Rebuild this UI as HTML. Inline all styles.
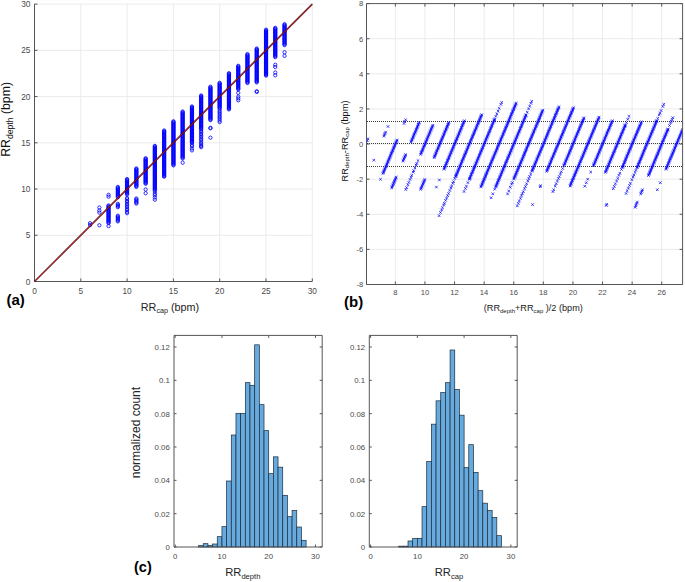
<!DOCTYPE html>
<html><head><meta charset="utf-8"><title>Figure</title>
<style>html,body{margin:0;padding:0;background:#fff}svg{display:block}</style></head>
<body><svg width="685" height="582" viewBox="0 0 685 582">
<rect width="685" height="582" fill="#fff"/>
<path d="M80.80 4.10V281.50M34.50 235.27H312.30M127.10 4.10V281.50M34.50 189.03H312.30M173.40 4.10V281.50M34.50 142.80H312.30M219.70 4.10V281.50M34.50 96.57H312.30M266.00 4.10V281.50M34.50 50.33H312.30M312.30 4.10V281.50M34.50 4.10H312.30" stroke="#ebebeb" stroke-width="1" fill="none"/>
<path d="M34.5 4.1V281.5H312.3M34.50 281.50v-3M34.50 281.50h3M80.80 281.50v-3M34.50 235.27h3M127.10 281.50v-3M34.50 189.03h3M173.40 281.50v-3M34.50 142.80h3M219.70 281.50v-3M34.50 96.57h3M266.00 281.50v-3M34.50 50.33h3M312.30 281.50v-3M34.50 4.10h3" stroke="#555555" stroke-width="1" fill="none"/>
<text x="34.5" y="294.1" font-size="8.3" text-anchor="middle" fill="#4a4a4a" font-family="Liberation Sans, sans-serif">0</text>
<text x="30.4" y="284.5" font-size="8.3" text-anchor="end" fill="#4a4a4a" font-family="Liberation Sans, sans-serif">0</text>
<text x="80.8" y="294.1" font-size="8.3" text-anchor="middle" fill="#4a4a4a" font-family="Liberation Sans, sans-serif">5</text>
<text x="30.4" y="238.3" font-size="8.3" text-anchor="end" fill="#4a4a4a" font-family="Liberation Sans, sans-serif">5</text>
<text x="127.1" y="294.1" font-size="8.3" text-anchor="middle" fill="#4a4a4a" font-family="Liberation Sans, sans-serif">10</text>
<text x="30.4" y="192.0" font-size="8.3" text-anchor="end" fill="#4a4a4a" font-family="Liberation Sans, sans-serif">10</text>
<text x="173.4" y="294.1" font-size="8.3" text-anchor="middle" fill="#4a4a4a" font-family="Liberation Sans, sans-serif">15</text>
<text x="30.4" y="145.8" font-size="8.3" text-anchor="end" fill="#4a4a4a" font-family="Liberation Sans, sans-serif">15</text>
<text x="219.7" y="294.1" font-size="8.3" text-anchor="middle" fill="#4a4a4a" font-family="Liberation Sans, sans-serif">20</text>
<text x="30.4" y="99.6" font-size="8.3" text-anchor="end" fill="#4a4a4a" font-family="Liberation Sans, sans-serif">20</text>
<text x="266.0" y="294.1" font-size="8.3" text-anchor="middle" fill="#4a4a4a" font-family="Liberation Sans, sans-serif">25</text>
<text x="30.4" y="53.3" font-size="8.3" text-anchor="end" fill="#4a4a4a" font-family="Liberation Sans, sans-serif">25</text>
<text x="312.3" y="294.1" font-size="8.3" text-anchor="middle" fill="#4a4a4a" font-family="Liberation Sans, sans-serif">30</text>
<text x="30.4" y="7.1" font-size="8.3" text-anchor="end" fill="#4a4a4a" font-family="Liberation Sans, sans-serif">30</text>
<path d="M88.4 225.1a1.65 1.65 0 1 0 3.3 0a1.65 1.65 0 1 0 -3.3 0M88.4 223.2a1.65 1.65 0 1 0 3.3 0a1.65 1.65 0 1 0 -3.3 0M97.7 207.5a1.65 1.65 0 1 0 3.3 0a1.65 1.65 0 1 0 -3.3 0M97.7 225.3a1.65 1.65 0 1 0 3.3 0a1.65 1.65 0 1 0 -3.3 0M97.7 212.6a1.65 1.65 0 1 0 3.3 0a1.65 1.65 0 1 0 -3.3 0M97.7 210.5a1.65 1.65 0 1 0 3.3 0a1.65 1.65 0 1 0 -3.3 0M106.9 226.1a1.65 1.65 0 1 0 3.3 0a1.65 1.65 0 1 0 -3.3 0M106.9 223.1a1.65 1.65 0 1 0 3.3 0a1.65 1.65 0 1 0 -3.3 0M106.9 222.3a1.65 1.65 0 1 0 3.3 0a1.65 1.65 0 1 0 -3.3 0M106.9 221.5a1.65 1.65 0 1 0 3.3 0a1.65 1.65 0 1 0 -3.3 0M106.9 220.7a1.65 1.65 0 1 0 3.3 0a1.65 1.65 0 1 0 -3.3 0M106.9 219.8a1.65 1.65 0 1 0 3.3 0a1.65 1.65 0 1 0 -3.3 0M106.9 219.0a1.65 1.65 0 1 0 3.3 0a1.65 1.65 0 1 0 -3.3 0M106.9 218.2a1.65 1.65 0 1 0 3.3 0a1.65 1.65 0 1 0 -3.3 0M106.9 217.4a1.65 1.65 0 1 0 3.3 0a1.65 1.65 0 1 0 -3.3 0M106.9 216.6a1.65 1.65 0 1 0 3.3 0a1.65 1.65 0 1 0 -3.3 0M106.9 215.8a1.65 1.65 0 1 0 3.3 0a1.65 1.65 0 1 0 -3.3 0M106.9 215.0a1.65 1.65 0 1 0 3.3 0a1.65 1.65 0 1 0 -3.3 0M106.9 214.2a1.65 1.65 0 1 0 3.3 0a1.65 1.65 0 1 0 -3.3 0M106.9 213.4a1.65 1.65 0 1 0 3.3 0a1.65 1.65 0 1 0 -3.3 0M106.9 212.6a1.65 1.65 0 1 0 3.3 0a1.65 1.65 0 1 0 -3.3 0M106.9 211.8a1.65 1.65 0 1 0 3.3 0a1.65 1.65 0 1 0 -3.3 0M106.9 211.0a1.65 1.65 0 1 0 3.3 0a1.65 1.65 0 1 0 -3.3 0M106.9 210.2a1.65 1.65 0 1 0 3.3 0a1.65 1.65 0 1 0 -3.3 0M106.9 209.4a1.65 1.65 0 1 0 3.3 0a1.65 1.65 0 1 0 -3.3 0M106.9 208.6a1.65 1.65 0 1 0 3.3 0a1.65 1.65 0 1 0 -3.3 0M106.9 207.8a1.65 1.65 0 1 0 3.3 0a1.65 1.65 0 1 0 -3.3 0M106.9 207.0a1.65 1.65 0 1 0 3.3 0a1.65 1.65 0 1 0 -3.3 0M106.9 206.2a1.65 1.65 0 1 0 3.3 0a1.65 1.65 0 1 0 -3.3 0M106.9 205.4a1.65 1.65 0 1 0 3.3 0a1.65 1.65 0 1 0 -3.3 0M106.9 196.7a1.65 1.65 0 1 0 3.3 0a1.65 1.65 0 1 0 -3.3 0M106.9 194.8a1.65 1.65 0 1 0 3.3 0a1.65 1.65 0 1 0 -3.3 0M116.2 197.2a1.65 1.65 0 1 0 3.3 0a1.65 1.65 0 1 0 -3.3 0M116.2 196.3a1.65 1.65 0 1 0 3.3 0a1.65 1.65 0 1 0 -3.3 0M116.2 195.5a1.65 1.65 0 1 0 3.3 0a1.65 1.65 0 1 0 -3.3 0M116.2 194.6a1.65 1.65 0 1 0 3.3 0a1.65 1.65 0 1 0 -3.3 0M116.2 193.7a1.65 1.65 0 1 0 3.3 0a1.65 1.65 0 1 0 -3.3 0M116.2 192.9a1.65 1.65 0 1 0 3.3 0a1.65 1.65 0 1 0 -3.3 0M116.2 192.0a1.65 1.65 0 1 0 3.3 0a1.65 1.65 0 1 0 -3.3 0M116.2 191.2a1.65 1.65 0 1 0 3.3 0a1.65 1.65 0 1 0 -3.3 0M116.2 190.3a1.65 1.65 0 1 0 3.3 0a1.65 1.65 0 1 0 -3.3 0M116.2 189.5a1.65 1.65 0 1 0 3.3 0a1.65 1.65 0 1 0 -3.3 0M116.2 188.6a1.65 1.65 0 1 0 3.3 0a1.65 1.65 0 1 0 -3.3 0M116.2 187.8a1.65 1.65 0 1 0 3.3 0a1.65 1.65 0 1 0 -3.3 0M116.2 186.9a1.65 1.65 0 1 0 3.3 0a1.65 1.65 0 1 0 -3.3 0M116.2 207.2a1.65 1.65 0 1 0 3.3 0a1.65 1.65 0 1 0 -3.3 0M116.2 206.1a1.65 1.65 0 1 0 3.3 0a1.65 1.65 0 1 0 -3.3 0M116.2 205.0a1.65 1.65 0 1 0 3.3 0a1.65 1.65 0 1 0 -3.3 0M116.2 203.8a1.65 1.65 0 1 0 3.3 0a1.65 1.65 0 1 0 -3.3 0M116.2 221.4a1.65 1.65 0 1 0 3.3 0a1.65 1.65 0 1 0 -3.3 0M116.2 220.4a1.65 1.65 0 1 0 3.3 0a1.65 1.65 0 1 0 -3.3 0M116.2 219.5a1.65 1.65 0 1 0 3.3 0a1.65 1.65 0 1 0 -3.3 0M116.2 218.5a1.65 1.65 0 1 0 3.3 0a1.65 1.65 0 1 0 -3.3 0M116.2 217.6a1.65 1.65 0 1 0 3.3 0a1.65 1.65 0 1 0 -3.3 0M116.2 216.6a1.65 1.65 0 1 0 3.3 0a1.65 1.65 0 1 0 -3.3 0M116.2 215.7a1.65 1.65 0 1 0 3.3 0a1.65 1.65 0 1 0 -3.3 0M125.4 194.5a1.65 1.65 0 1 0 3.3 0a1.65 1.65 0 1 0 -3.3 0M125.4 193.7a1.65 1.65 0 1 0 3.3 0a1.65 1.65 0 1 0 -3.3 0M125.4 192.9a1.65 1.65 0 1 0 3.3 0a1.65 1.65 0 1 0 -3.3 0M125.4 192.1a1.65 1.65 0 1 0 3.3 0a1.65 1.65 0 1 0 -3.3 0M125.4 191.3a1.65 1.65 0 1 0 3.3 0a1.65 1.65 0 1 0 -3.3 0M125.4 190.4a1.65 1.65 0 1 0 3.3 0a1.65 1.65 0 1 0 -3.3 0M125.4 189.6a1.65 1.65 0 1 0 3.3 0a1.65 1.65 0 1 0 -3.3 0M125.4 188.8a1.65 1.65 0 1 0 3.3 0a1.65 1.65 0 1 0 -3.3 0M125.4 188.0a1.65 1.65 0 1 0 3.3 0a1.65 1.65 0 1 0 -3.3 0M125.4 187.2a1.65 1.65 0 1 0 3.3 0a1.65 1.65 0 1 0 -3.3 0M125.4 186.4a1.65 1.65 0 1 0 3.3 0a1.65 1.65 0 1 0 -3.3 0M125.4 185.6a1.65 1.65 0 1 0 3.3 0a1.65 1.65 0 1 0 -3.3 0M125.4 184.8a1.65 1.65 0 1 0 3.3 0a1.65 1.65 0 1 0 -3.3 0M125.4 184.0a1.65 1.65 0 1 0 3.3 0a1.65 1.65 0 1 0 -3.3 0M125.4 183.2a1.65 1.65 0 1 0 3.3 0a1.65 1.65 0 1 0 -3.3 0M125.4 182.4a1.65 1.65 0 1 0 3.3 0a1.65 1.65 0 1 0 -3.3 0M125.4 181.6a1.65 1.65 0 1 0 3.3 0a1.65 1.65 0 1 0 -3.3 0M125.4 180.8a1.65 1.65 0 1 0 3.3 0a1.65 1.65 0 1 0 -3.3 0M125.4 179.9a1.65 1.65 0 1 0 3.3 0a1.65 1.65 0 1 0 -3.3 0M125.4 179.1a1.65 1.65 0 1 0 3.3 0a1.65 1.65 0 1 0 -3.3 0M125.4 213.2a1.65 1.65 0 1 0 3.3 0a1.65 1.65 0 1 0 -3.3 0M125.4 211.8a1.65 1.65 0 1 0 3.3 0a1.65 1.65 0 1 0 -3.3 0M125.4 209.9a1.65 1.65 0 1 0 3.3 0a1.65 1.65 0 1 0 -3.3 0M125.4 208.7a1.65 1.65 0 1 0 3.3 0a1.65 1.65 0 1 0 -3.3 0M125.4 206.9a1.65 1.65 0 1 0 3.3 0a1.65 1.65 0 1 0 -3.3 0M125.4 205.5a1.65 1.65 0 1 0 3.3 0a1.65 1.65 0 1 0 -3.3 0M125.4 204.1a1.65 1.65 0 1 0 3.3 0a1.65 1.65 0 1 0 -3.3 0M125.4 202.3a1.65 1.65 0 1 0 3.3 0a1.65 1.65 0 1 0 -3.3 0M125.4 201.1a1.65 1.65 0 1 0 3.3 0a1.65 1.65 0 1 0 -3.3 0M125.4 199.3a1.65 1.65 0 1 0 3.3 0a1.65 1.65 0 1 0 -3.3 0M125.4 198.0a1.65 1.65 0 1 0 3.3 0a1.65 1.65 0 1 0 -3.3 0M134.7 186.9a1.65 1.65 0 1 0 3.3 0a1.65 1.65 0 1 0 -3.3 0M134.7 186.1a1.65 1.65 0 1 0 3.3 0a1.65 1.65 0 1 0 -3.3 0M134.7 185.3a1.65 1.65 0 1 0 3.3 0a1.65 1.65 0 1 0 -3.3 0M134.7 184.5a1.65 1.65 0 1 0 3.3 0a1.65 1.65 0 1 0 -3.3 0M134.7 183.7a1.65 1.65 0 1 0 3.3 0a1.65 1.65 0 1 0 -3.3 0M134.7 182.9a1.65 1.65 0 1 0 3.3 0a1.65 1.65 0 1 0 -3.3 0M134.7 182.1a1.65 1.65 0 1 0 3.3 0a1.65 1.65 0 1 0 -3.3 0M134.7 181.3a1.65 1.65 0 1 0 3.3 0a1.65 1.65 0 1 0 -3.3 0M134.7 180.5a1.65 1.65 0 1 0 3.3 0a1.65 1.65 0 1 0 -3.3 0M134.7 179.7a1.65 1.65 0 1 0 3.3 0a1.65 1.65 0 1 0 -3.3 0M134.7 178.9a1.65 1.65 0 1 0 3.3 0a1.65 1.65 0 1 0 -3.3 0M134.7 178.1a1.65 1.65 0 1 0 3.3 0a1.65 1.65 0 1 0 -3.3 0M134.7 177.3a1.65 1.65 0 1 0 3.3 0a1.65 1.65 0 1 0 -3.3 0M134.7 176.5a1.65 1.65 0 1 0 3.3 0a1.65 1.65 0 1 0 -3.3 0M134.7 175.6a1.65 1.65 0 1 0 3.3 0a1.65 1.65 0 1 0 -3.3 0M134.7 174.8a1.65 1.65 0 1 0 3.3 0a1.65 1.65 0 1 0 -3.3 0M134.7 174.0a1.65 1.65 0 1 0 3.3 0a1.65 1.65 0 1 0 -3.3 0M134.7 173.2a1.65 1.65 0 1 0 3.3 0a1.65 1.65 0 1 0 -3.3 0M134.7 172.4a1.65 1.65 0 1 0 3.3 0a1.65 1.65 0 1 0 -3.3 0M134.7 171.6a1.65 1.65 0 1 0 3.3 0a1.65 1.65 0 1 0 -3.3 0M134.7 170.8a1.65 1.65 0 1 0 3.3 0a1.65 1.65 0 1 0 -3.3 0M134.7 170.0a1.65 1.65 0 1 0 3.3 0a1.65 1.65 0 1 0 -3.3 0M134.7 169.2a1.65 1.65 0 1 0 3.3 0a1.65 1.65 0 1 0 -3.3 0M134.7 168.4a1.65 1.65 0 1 0 3.3 0a1.65 1.65 0 1 0 -3.3 0M134.7 203.6a1.65 1.65 0 1 0 3.3 0a1.65 1.65 0 1 0 -3.3 0M134.7 202.6a1.65 1.65 0 1 0 3.3 0a1.65 1.65 0 1 0 -3.3 0M134.7 201.6a1.65 1.65 0 1 0 3.3 0a1.65 1.65 0 1 0 -3.3 0M134.7 200.5a1.65 1.65 0 1 0 3.3 0a1.65 1.65 0 1 0 -3.3 0M134.7 199.5a1.65 1.65 0 1 0 3.3 0a1.65 1.65 0 1 0 -3.3 0M134.7 198.5a1.65 1.65 0 1 0 3.3 0a1.65 1.65 0 1 0 -3.3 0M144.0 189.5a1.65 1.65 0 1 0 3.3 0a1.65 1.65 0 1 0 -3.3 0M144.0 193.2a1.65 1.65 0 1 0 3.3 0a1.65 1.65 0 1 0 -3.3 0M144.0 183.8a1.65 1.65 0 1 0 3.3 0a1.65 1.65 0 1 0 -3.3 0M144.0 183.0a1.65 1.65 0 1 0 3.3 0a1.65 1.65 0 1 0 -3.3 0M144.0 182.2a1.65 1.65 0 1 0 3.3 0a1.65 1.65 0 1 0 -3.3 0M144.0 181.4a1.65 1.65 0 1 0 3.3 0a1.65 1.65 0 1 0 -3.3 0M144.0 180.7a1.65 1.65 0 1 0 3.3 0a1.65 1.65 0 1 0 -3.3 0M144.0 179.9a1.65 1.65 0 1 0 3.3 0a1.65 1.65 0 1 0 -3.3 0M144.0 179.1a1.65 1.65 0 1 0 3.3 0a1.65 1.65 0 1 0 -3.3 0M144.0 178.3a1.65 1.65 0 1 0 3.3 0a1.65 1.65 0 1 0 -3.3 0M144.0 177.6a1.65 1.65 0 1 0 3.3 0a1.65 1.65 0 1 0 -3.3 0M144.0 176.8a1.65 1.65 0 1 0 3.3 0a1.65 1.65 0 1 0 -3.3 0M144.0 176.0a1.65 1.65 0 1 0 3.3 0a1.65 1.65 0 1 0 -3.3 0M144.0 175.3a1.65 1.65 0 1 0 3.3 0a1.65 1.65 0 1 0 -3.3 0M144.0 174.5a1.65 1.65 0 1 0 3.3 0a1.65 1.65 0 1 0 -3.3 0M144.0 173.7a1.65 1.65 0 1 0 3.3 0a1.65 1.65 0 1 0 -3.3 0M144.0 172.9a1.65 1.65 0 1 0 3.3 0a1.65 1.65 0 1 0 -3.3 0M144.0 172.2a1.65 1.65 0 1 0 3.3 0a1.65 1.65 0 1 0 -3.3 0M144.0 171.4a1.65 1.65 0 1 0 3.3 0a1.65 1.65 0 1 0 -3.3 0M144.0 170.6a1.65 1.65 0 1 0 3.3 0a1.65 1.65 0 1 0 -3.3 0M144.0 169.8a1.65 1.65 0 1 0 3.3 0a1.65 1.65 0 1 0 -3.3 0M144.0 169.1a1.65 1.65 0 1 0 3.3 0a1.65 1.65 0 1 0 -3.3 0M144.0 168.3a1.65 1.65 0 1 0 3.3 0a1.65 1.65 0 1 0 -3.3 0M144.0 167.5a1.65 1.65 0 1 0 3.3 0a1.65 1.65 0 1 0 -3.3 0M144.0 166.7a1.65 1.65 0 1 0 3.3 0a1.65 1.65 0 1 0 -3.3 0M144.0 166.0a1.65 1.65 0 1 0 3.3 0a1.65 1.65 0 1 0 -3.3 0M144.0 165.2a1.65 1.65 0 1 0 3.3 0a1.65 1.65 0 1 0 -3.3 0M144.0 164.4a1.65 1.65 0 1 0 3.3 0a1.65 1.65 0 1 0 -3.3 0M144.0 163.7a1.65 1.65 0 1 0 3.3 0a1.65 1.65 0 1 0 -3.3 0M144.0 162.9a1.65 1.65 0 1 0 3.3 0a1.65 1.65 0 1 0 -3.3 0M144.0 162.1a1.65 1.65 0 1 0 3.3 0a1.65 1.65 0 1 0 -3.3 0M144.0 161.3a1.65 1.65 0 1 0 3.3 0a1.65 1.65 0 1 0 -3.3 0M144.0 160.6a1.65 1.65 0 1 0 3.3 0a1.65 1.65 0 1 0 -3.3 0M144.0 159.8a1.65 1.65 0 1 0 3.3 0a1.65 1.65 0 1 0 -3.3 0M144.0 159.0a1.65 1.65 0 1 0 3.3 0a1.65 1.65 0 1 0 -3.3 0M144.0 158.2a1.65 1.65 0 1 0 3.3 0a1.65 1.65 0 1 0 -3.3 0M153.2 190.1a1.65 1.65 0 1 0 3.3 0a1.65 1.65 0 1 0 -3.3 0M153.2 189.3a1.65 1.65 0 1 0 3.3 0a1.65 1.65 0 1 0 -3.3 0M153.2 188.5a1.65 1.65 0 1 0 3.3 0a1.65 1.65 0 1 0 -3.3 0M153.2 187.8a1.65 1.65 0 1 0 3.3 0a1.65 1.65 0 1 0 -3.3 0M153.2 187.0a1.65 1.65 0 1 0 3.3 0a1.65 1.65 0 1 0 -3.3 0M153.2 186.2a1.65 1.65 0 1 0 3.3 0a1.65 1.65 0 1 0 -3.3 0M153.2 185.5a1.65 1.65 0 1 0 3.3 0a1.65 1.65 0 1 0 -3.3 0M153.2 184.7a1.65 1.65 0 1 0 3.3 0a1.65 1.65 0 1 0 -3.3 0M153.2 184.0a1.65 1.65 0 1 0 3.3 0a1.65 1.65 0 1 0 -3.3 0M153.2 183.2a1.65 1.65 0 1 0 3.3 0a1.65 1.65 0 1 0 -3.3 0M153.2 182.4a1.65 1.65 0 1 0 3.3 0a1.65 1.65 0 1 0 -3.3 0M153.2 181.7a1.65 1.65 0 1 0 3.3 0a1.65 1.65 0 1 0 -3.3 0M153.2 180.9a1.65 1.65 0 1 0 3.3 0a1.65 1.65 0 1 0 -3.3 0M153.2 180.1a1.65 1.65 0 1 0 3.3 0a1.65 1.65 0 1 0 -3.3 0M153.2 179.4a1.65 1.65 0 1 0 3.3 0a1.65 1.65 0 1 0 -3.3 0M153.2 178.6a1.65 1.65 0 1 0 3.3 0a1.65 1.65 0 1 0 -3.3 0M153.2 177.9a1.65 1.65 0 1 0 3.3 0a1.65 1.65 0 1 0 -3.3 0M153.2 177.1a1.65 1.65 0 1 0 3.3 0a1.65 1.65 0 1 0 -3.3 0M153.2 176.3a1.65 1.65 0 1 0 3.3 0a1.65 1.65 0 1 0 -3.3 0M153.2 175.6a1.65 1.65 0 1 0 3.3 0a1.65 1.65 0 1 0 -3.3 0M153.2 174.8a1.65 1.65 0 1 0 3.3 0a1.65 1.65 0 1 0 -3.3 0M153.2 174.0a1.65 1.65 0 1 0 3.3 0a1.65 1.65 0 1 0 -3.3 0M153.2 173.3a1.65 1.65 0 1 0 3.3 0a1.65 1.65 0 1 0 -3.3 0M153.2 172.5a1.65 1.65 0 1 0 3.3 0a1.65 1.65 0 1 0 -3.3 0M153.2 171.8a1.65 1.65 0 1 0 3.3 0a1.65 1.65 0 1 0 -3.3 0M153.2 171.0a1.65 1.65 0 1 0 3.3 0a1.65 1.65 0 1 0 -3.3 0M153.2 170.2a1.65 1.65 0 1 0 3.3 0a1.65 1.65 0 1 0 -3.3 0M153.2 169.5a1.65 1.65 0 1 0 3.3 0a1.65 1.65 0 1 0 -3.3 0M153.2 168.7a1.65 1.65 0 1 0 3.3 0a1.65 1.65 0 1 0 -3.3 0M153.2 168.0a1.65 1.65 0 1 0 3.3 0a1.65 1.65 0 1 0 -3.3 0M153.2 167.2a1.65 1.65 0 1 0 3.3 0a1.65 1.65 0 1 0 -3.3 0M153.2 166.4a1.65 1.65 0 1 0 3.3 0a1.65 1.65 0 1 0 -3.3 0M153.2 165.7a1.65 1.65 0 1 0 3.3 0a1.65 1.65 0 1 0 -3.3 0M153.2 164.9a1.65 1.65 0 1 0 3.3 0a1.65 1.65 0 1 0 -3.3 0M153.2 164.1a1.65 1.65 0 1 0 3.3 0a1.65 1.65 0 1 0 -3.3 0M153.2 163.4a1.65 1.65 0 1 0 3.3 0a1.65 1.65 0 1 0 -3.3 0M153.2 162.6a1.65 1.65 0 1 0 3.3 0a1.65 1.65 0 1 0 -3.3 0M153.2 161.9a1.65 1.65 0 1 0 3.3 0a1.65 1.65 0 1 0 -3.3 0M153.2 161.1a1.65 1.65 0 1 0 3.3 0a1.65 1.65 0 1 0 -3.3 0M153.2 160.3a1.65 1.65 0 1 0 3.3 0a1.65 1.65 0 1 0 -3.3 0M153.2 159.6a1.65 1.65 0 1 0 3.3 0a1.65 1.65 0 1 0 -3.3 0M153.2 158.8a1.65 1.65 0 1 0 3.3 0a1.65 1.65 0 1 0 -3.3 0M153.2 158.0a1.65 1.65 0 1 0 3.3 0a1.65 1.65 0 1 0 -3.3 0M153.2 157.3a1.65 1.65 0 1 0 3.3 0a1.65 1.65 0 1 0 -3.3 0M153.2 156.5a1.65 1.65 0 1 0 3.3 0a1.65 1.65 0 1 0 -3.3 0M153.2 155.8a1.65 1.65 0 1 0 3.3 0a1.65 1.65 0 1 0 -3.3 0M153.2 155.0a1.65 1.65 0 1 0 3.3 0a1.65 1.65 0 1 0 -3.3 0M153.2 154.2a1.65 1.65 0 1 0 3.3 0a1.65 1.65 0 1 0 -3.3 0M153.2 153.5a1.65 1.65 0 1 0 3.3 0a1.65 1.65 0 1 0 -3.3 0M153.2 152.7a1.65 1.65 0 1 0 3.3 0a1.65 1.65 0 1 0 -3.3 0M153.2 151.9a1.65 1.65 0 1 0 3.3 0a1.65 1.65 0 1 0 -3.3 0M153.2 151.2a1.65 1.65 0 1 0 3.3 0a1.65 1.65 0 1 0 -3.3 0M153.2 150.4a1.65 1.65 0 1 0 3.3 0a1.65 1.65 0 1 0 -3.3 0M153.2 149.7a1.65 1.65 0 1 0 3.3 0a1.65 1.65 0 1 0 -3.3 0M153.2 148.9a1.65 1.65 0 1 0 3.3 0a1.65 1.65 0 1 0 -3.3 0M153.2 148.1a1.65 1.65 0 1 0 3.3 0a1.65 1.65 0 1 0 -3.3 0M153.2 147.4a1.65 1.65 0 1 0 3.3 0a1.65 1.65 0 1 0 -3.3 0M153.2 146.6a1.65 1.65 0 1 0 3.3 0a1.65 1.65 0 1 0 -3.3 0M153.2 145.9a1.65 1.65 0 1 0 3.3 0a1.65 1.65 0 1 0 -3.3 0M153.2 199.7a1.65 1.65 0 1 0 3.3 0a1.65 1.65 0 1 0 -3.3 0M153.2 197.5a1.65 1.65 0 1 0 3.3 0a1.65 1.65 0 1 0 -3.3 0M153.2 195.3a1.65 1.65 0 1 0 3.3 0a1.65 1.65 0 1 0 -3.3 0M153.2 193.9a1.65 1.65 0 1 0 3.3 0a1.65 1.65 0 1 0 -3.3 0M153.2 191.8a1.65 1.65 0 1 0 3.3 0a1.65 1.65 0 1 0 -3.3 0M162.5 176.7a1.65 1.65 0 1 0 3.3 0a1.65 1.65 0 1 0 -3.3 0M162.5 176.0a1.65 1.65 0 1 0 3.3 0a1.65 1.65 0 1 0 -3.3 0M162.5 175.2a1.65 1.65 0 1 0 3.3 0a1.65 1.65 0 1 0 -3.3 0M162.5 174.4a1.65 1.65 0 1 0 3.3 0a1.65 1.65 0 1 0 -3.3 0M162.5 173.7a1.65 1.65 0 1 0 3.3 0a1.65 1.65 0 1 0 -3.3 0M162.5 172.9a1.65 1.65 0 1 0 3.3 0a1.65 1.65 0 1 0 -3.3 0M162.5 172.1a1.65 1.65 0 1 0 3.3 0a1.65 1.65 0 1 0 -3.3 0M162.5 171.3a1.65 1.65 0 1 0 3.3 0a1.65 1.65 0 1 0 -3.3 0M162.5 170.6a1.65 1.65 0 1 0 3.3 0a1.65 1.65 0 1 0 -3.3 0M162.5 169.8a1.65 1.65 0 1 0 3.3 0a1.65 1.65 0 1 0 -3.3 0M162.5 169.0a1.65 1.65 0 1 0 3.3 0a1.65 1.65 0 1 0 -3.3 0M162.5 168.3a1.65 1.65 0 1 0 3.3 0a1.65 1.65 0 1 0 -3.3 0M162.5 167.5a1.65 1.65 0 1 0 3.3 0a1.65 1.65 0 1 0 -3.3 0M162.5 166.7a1.65 1.65 0 1 0 3.3 0a1.65 1.65 0 1 0 -3.3 0M162.5 165.9a1.65 1.65 0 1 0 3.3 0a1.65 1.65 0 1 0 -3.3 0M162.5 165.2a1.65 1.65 0 1 0 3.3 0a1.65 1.65 0 1 0 -3.3 0M162.5 164.4a1.65 1.65 0 1 0 3.3 0a1.65 1.65 0 1 0 -3.3 0M162.5 163.6a1.65 1.65 0 1 0 3.3 0a1.65 1.65 0 1 0 -3.3 0M162.5 162.9a1.65 1.65 0 1 0 3.3 0a1.65 1.65 0 1 0 -3.3 0M162.5 162.1a1.65 1.65 0 1 0 3.3 0a1.65 1.65 0 1 0 -3.3 0M162.5 161.3a1.65 1.65 0 1 0 3.3 0a1.65 1.65 0 1 0 -3.3 0M162.5 160.6a1.65 1.65 0 1 0 3.3 0a1.65 1.65 0 1 0 -3.3 0M162.5 159.8a1.65 1.65 0 1 0 3.3 0a1.65 1.65 0 1 0 -3.3 0M162.5 159.0a1.65 1.65 0 1 0 3.3 0a1.65 1.65 0 1 0 -3.3 0M162.5 158.2a1.65 1.65 0 1 0 3.3 0a1.65 1.65 0 1 0 -3.3 0M162.5 157.5a1.65 1.65 0 1 0 3.3 0a1.65 1.65 0 1 0 -3.3 0M162.5 156.7a1.65 1.65 0 1 0 3.3 0a1.65 1.65 0 1 0 -3.3 0M162.5 155.9a1.65 1.65 0 1 0 3.3 0a1.65 1.65 0 1 0 -3.3 0M162.5 155.2a1.65 1.65 0 1 0 3.3 0a1.65 1.65 0 1 0 -3.3 0M162.5 154.4a1.65 1.65 0 1 0 3.3 0a1.65 1.65 0 1 0 -3.3 0M162.5 153.6a1.65 1.65 0 1 0 3.3 0a1.65 1.65 0 1 0 -3.3 0M162.5 152.8a1.65 1.65 0 1 0 3.3 0a1.65 1.65 0 1 0 -3.3 0M162.5 152.1a1.65 1.65 0 1 0 3.3 0a1.65 1.65 0 1 0 -3.3 0M162.5 151.3a1.65 1.65 0 1 0 3.3 0a1.65 1.65 0 1 0 -3.3 0M162.5 150.5a1.65 1.65 0 1 0 3.3 0a1.65 1.65 0 1 0 -3.3 0M162.5 149.8a1.65 1.65 0 1 0 3.3 0a1.65 1.65 0 1 0 -3.3 0M162.5 149.0a1.65 1.65 0 1 0 3.3 0a1.65 1.65 0 1 0 -3.3 0M162.5 148.2a1.65 1.65 0 1 0 3.3 0a1.65 1.65 0 1 0 -3.3 0M162.5 147.5a1.65 1.65 0 1 0 3.3 0a1.65 1.65 0 1 0 -3.3 0M162.5 146.7a1.65 1.65 0 1 0 3.3 0a1.65 1.65 0 1 0 -3.3 0M162.5 145.9a1.65 1.65 0 1 0 3.3 0a1.65 1.65 0 1 0 -3.3 0M162.5 145.1a1.65 1.65 0 1 0 3.3 0a1.65 1.65 0 1 0 -3.3 0M162.5 144.4a1.65 1.65 0 1 0 3.3 0a1.65 1.65 0 1 0 -3.3 0M162.5 143.6a1.65 1.65 0 1 0 3.3 0a1.65 1.65 0 1 0 -3.3 0M162.5 142.8a1.65 1.65 0 1 0 3.3 0a1.65 1.65 0 1 0 -3.3 0M162.5 142.1a1.65 1.65 0 1 0 3.3 0a1.65 1.65 0 1 0 -3.3 0M162.5 141.3a1.65 1.65 0 1 0 3.3 0a1.65 1.65 0 1 0 -3.3 0M162.5 140.5a1.65 1.65 0 1 0 3.3 0a1.65 1.65 0 1 0 -3.3 0M162.5 139.7a1.65 1.65 0 1 0 3.3 0a1.65 1.65 0 1 0 -3.3 0M162.5 139.0a1.65 1.65 0 1 0 3.3 0a1.65 1.65 0 1 0 -3.3 0M162.5 138.2a1.65 1.65 0 1 0 3.3 0a1.65 1.65 0 1 0 -3.3 0M162.5 137.4a1.65 1.65 0 1 0 3.3 0a1.65 1.65 0 1 0 -3.3 0M162.5 136.7a1.65 1.65 0 1 0 3.3 0a1.65 1.65 0 1 0 -3.3 0M162.5 135.9a1.65 1.65 0 1 0 3.3 0a1.65 1.65 0 1 0 -3.3 0M162.5 135.1a1.65 1.65 0 1 0 3.3 0a1.65 1.65 0 1 0 -3.3 0M162.5 134.4a1.65 1.65 0 1 0 3.3 0a1.65 1.65 0 1 0 -3.3 0M162.5 133.6a1.65 1.65 0 1 0 3.3 0a1.65 1.65 0 1 0 -3.3 0M162.5 132.8a1.65 1.65 0 1 0 3.3 0a1.65 1.65 0 1 0 -3.3 0M162.5 132.0a1.65 1.65 0 1 0 3.3 0a1.65 1.65 0 1 0 -3.3 0M162.5 131.3a1.65 1.65 0 1 0 3.3 0a1.65 1.65 0 1 0 -3.3 0M162.5 130.5a1.65 1.65 0 1 0 3.3 0a1.65 1.65 0 1 0 -3.3 0M171.8 165.4a1.65 1.65 0 1 0 3.3 0a1.65 1.65 0 1 0 -3.3 0M171.8 164.6a1.65 1.65 0 1 0 3.3 0a1.65 1.65 0 1 0 -3.3 0M171.8 163.8a1.65 1.65 0 1 0 3.3 0a1.65 1.65 0 1 0 -3.3 0M171.8 163.0a1.65 1.65 0 1 0 3.3 0a1.65 1.65 0 1 0 -3.3 0M171.8 162.3a1.65 1.65 0 1 0 3.3 0a1.65 1.65 0 1 0 -3.3 0M171.8 161.5a1.65 1.65 0 1 0 3.3 0a1.65 1.65 0 1 0 -3.3 0M171.8 160.7a1.65 1.65 0 1 0 3.3 0a1.65 1.65 0 1 0 -3.3 0M171.8 159.9a1.65 1.65 0 1 0 3.3 0a1.65 1.65 0 1 0 -3.3 0M171.8 159.2a1.65 1.65 0 1 0 3.3 0a1.65 1.65 0 1 0 -3.3 0M171.8 158.4a1.65 1.65 0 1 0 3.3 0a1.65 1.65 0 1 0 -3.3 0M171.8 157.6a1.65 1.65 0 1 0 3.3 0a1.65 1.65 0 1 0 -3.3 0M171.8 156.9a1.65 1.65 0 1 0 3.3 0a1.65 1.65 0 1 0 -3.3 0M171.8 156.1a1.65 1.65 0 1 0 3.3 0a1.65 1.65 0 1 0 -3.3 0M171.8 155.3a1.65 1.65 0 1 0 3.3 0a1.65 1.65 0 1 0 -3.3 0M171.8 154.5a1.65 1.65 0 1 0 3.3 0a1.65 1.65 0 1 0 -3.3 0M171.8 153.8a1.65 1.65 0 1 0 3.3 0a1.65 1.65 0 1 0 -3.3 0M171.8 153.0a1.65 1.65 0 1 0 3.3 0a1.65 1.65 0 1 0 -3.3 0M171.8 152.2a1.65 1.65 0 1 0 3.3 0a1.65 1.65 0 1 0 -3.3 0M171.8 151.4a1.65 1.65 0 1 0 3.3 0a1.65 1.65 0 1 0 -3.3 0M171.8 150.7a1.65 1.65 0 1 0 3.3 0a1.65 1.65 0 1 0 -3.3 0M171.8 149.9a1.65 1.65 0 1 0 3.3 0a1.65 1.65 0 1 0 -3.3 0M171.8 149.1a1.65 1.65 0 1 0 3.3 0a1.65 1.65 0 1 0 -3.3 0M171.8 148.3a1.65 1.65 0 1 0 3.3 0a1.65 1.65 0 1 0 -3.3 0M171.8 147.6a1.65 1.65 0 1 0 3.3 0a1.65 1.65 0 1 0 -3.3 0M171.8 146.8a1.65 1.65 0 1 0 3.3 0a1.65 1.65 0 1 0 -3.3 0M171.8 146.0a1.65 1.65 0 1 0 3.3 0a1.65 1.65 0 1 0 -3.3 0M171.8 145.2a1.65 1.65 0 1 0 3.3 0a1.65 1.65 0 1 0 -3.3 0M171.8 144.5a1.65 1.65 0 1 0 3.3 0a1.65 1.65 0 1 0 -3.3 0M171.8 143.7a1.65 1.65 0 1 0 3.3 0a1.65 1.65 0 1 0 -3.3 0M171.8 142.9a1.65 1.65 0 1 0 3.3 0a1.65 1.65 0 1 0 -3.3 0M171.8 142.1a1.65 1.65 0 1 0 3.3 0a1.65 1.65 0 1 0 -3.3 0M171.8 141.4a1.65 1.65 0 1 0 3.3 0a1.65 1.65 0 1 0 -3.3 0M171.8 140.6a1.65 1.65 0 1 0 3.3 0a1.65 1.65 0 1 0 -3.3 0M171.8 139.8a1.65 1.65 0 1 0 3.3 0a1.65 1.65 0 1 0 -3.3 0M171.8 139.1a1.65 1.65 0 1 0 3.3 0a1.65 1.65 0 1 0 -3.3 0M171.8 138.3a1.65 1.65 0 1 0 3.3 0a1.65 1.65 0 1 0 -3.3 0M171.8 137.5a1.65 1.65 0 1 0 3.3 0a1.65 1.65 0 1 0 -3.3 0M171.8 136.7a1.65 1.65 0 1 0 3.3 0a1.65 1.65 0 1 0 -3.3 0M171.8 136.0a1.65 1.65 0 1 0 3.3 0a1.65 1.65 0 1 0 -3.3 0M171.8 135.2a1.65 1.65 0 1 0 3.3 0a1.65 1.65 0 1 0 -3.3 0M171.8 134.4a1.65 1.65 0 1 0 3.3 0a1.65 1.65 0 1 0 -3.3 0M171.8 133.6a1.65 1.65 0 1 0 3.3 0a1.65 1.65 0 1 0 -3.3 0M171.8 132.9a1.65 1.65 0 1 0 3.3 0a1.65 1.65 0 1 0 -3.3 0M171.8 132.1a1.65 1.65 0 1 0 3.3 0a1.65 1.65 0 1 0 -3.3 0M171.8 131.3a1.65 1.65 0 1 0 3.3 0a1.65 1.65 0 1 0 -3.3 0M171.8 130.5a1.65 1.65 0 1 0 3.3 0a1.65 1.65 0 1 0 -3.3 0M171.8 129.8a1.65 1.65 0 1 0 3.3 0a1.65 1.65 0 1 0 -3.3 0M171.8 129.0a1.65 1.65 0 1 0 3.3 0a1.65 1.65 0 1 0 -3.3 0M171.8 128.2a1.65 1.65 0 1 0 3.3 0a1.65 1.65 0 1 0 -3.3 0M171.8 127.4a1.65 1.65 0 1 0 3.3 0a1.65 1.65 0 1 0 -3.3 0M171.8 126.7a1.65 1.65 0 1 0 3.3 0a1.65 1.65 0 1 0 -3.3 0M171.8 125.9a1.65 1.65 0 1 0 3.3 0a1.65 1.65 0 1 0 -3.3 0M171.8 125.1a1.65 1.65 0 1 0 3.3 0a1.65 1.65 0 1 0 -3.3 0M171.8 124.4a1.65 1.65 0 1 0 3.3 0a1.65 1.65 0 1 0 -3.3 0M171.8 123.6a1.65 1.65 0 1 0 3.3 0a1.65 1.65 0 1 0 -3.3 0M171.8 122.8a1.65 1.65 0 1 0 3.3 0a1.65 1.65 0 1 0 -3.3 0M171.8 122.0a1.65 1.65 0 1 0 3.3 0a1.65 1.65 0 1 0 -3.3 0M171.8 121.3a1.65 1.65 0 1 0 3.3 0a1.65 1.65 0 1 0 -3.3 0M181.0 157.6a1.65 1.65 0 1 0 3.3 0a1.65 1.65 0 1 0 -3.3 0M181.0 156.8a1.65 1.65 0 1 0 3.3 0a1.65 1.65 0 1 0 -3.3 0M181.0 156.1a1.65 1.65 0 1 0 3.3 0a1.65 1.65 0 1 0 -3.3 0M181.0 155.3a1.65 1.65 0 1 0 3.3 0a1.65 1.65 0 1 0 -3.3 0M181.0 154.5a1.65 1.65 0 1 0 3.3 0a1.65 1.65 0 1 0 -3.3 0M181.0 153.8a1.65 1.65 0 1 0 3.3 0a1.65 1.65 0 1 0 -3.3 0M181.0 153.0a1.65 1.65 0 1 0 3.3 0a1.65 1.65 0 1 0 -3.3 0M181.0 152.2a1.65 1.65 0 1 0 3.3 0a1.65 1.65 0 1 0 -3.3 0M181.0 151.5a1.65 1.65 0 1 0 3.3 0a1.65 1.65 0 1 0 -3.3 0M181.0 150.7a1.65 1.65 0 1 0 3.3 0a1.65 1.65 0 1 0 -3.3 0M181.0 149.9a1.65 1.65 0 1 0 3.3 0a1.65 1.65 0 1 0 -3.3 0M181.0 149.2a1.65 1.65 0 1 0 3.3 0a1.65 1.65 0 1 0 -3.3 0M181.0 148.4a1.65 1.65 0 1 0 3.3 0a1.65 1.65 0 1 0 -3.3 0M181.0 147.6a1.65 1.65 0 1 0 3.3 0a1.65 1.65 0 1 0 -3.3 0M181.0 146.9a1.65 1.65 0 1 0 3.3 0a1.65 1.65 0 1 0 -3.3 0M181.0 146.1a1.65 1.65 0 1 0 3.3 0a1.65 1.65 0 1 0 -3.3 0M181.0 145.3a1.65 1.65 0 1 0 3.3 0a1.65 1.65 0 1 0 -3.3 0M181.0 144.5a1.65 1.65 0 1 0 3.3 0a1.65 1.65 0 1 0 -3.3 0M181.0 143.8a1.65 1.65 0 1 0 3.3 0a1.65 1.65 0 1 0 -3.3 0M181.0 143.0a1.65 1.65 0 1 0 3.3 0a1.65 1.65 0 1 0 -3.3 0M181.0 142.2a1.65 1.65 0 1 0 3.3 0a1.65 1.65 0 1 0 -3.3 0M181.0 141.5a1.65 1.65 0 1 0 3.3 0a1.65 1.65 0 1 0 -3.3 0M181.0 140.7a1.65 1.65 0 1 0 3.3 0a1.65 1.65 0 1 0 -3.3 0M181.0 139.9a1.65 1.65 0 1 0 3.3 0a1.65 1.65 0 1 0 -3.3 0M181.0 139.2a1.65 1.65 0 1 0 3.3 0a1.65 1.65 0 1 0 -3.3 0M181.0 138.4a1.65 1.65 0 1 0 3.3 0a1.65 1.65 0 1 0 -3.3 0M181.0 137.6a1.65 1.65 0 1 0 3.3 0a1.65 1.65 0 1 0 -3.3 0M181.0 136.9a1.65 1.65 0 1 0 3.3 0a1.65 1.65 0 1 0 -3.3 0M181.0 136.1a1.65 1.65 0 1 0 3.3 0a1.65 1.65 0 1 0 -3.3 0M181.0 135.3a1.65 1.65 0 1 0 3.3 0a1.65 1.65 0 1 0 -3.3 0M181.0 134.6a1.65 1.65 0 1 0 3.3 0a1.65 1.65 0 1 0 -3.3 0M181.0 133.8a1.65 1.65 0 1 0 3.3 0a1.65 1.65 0 1 0 -3.3 0M181.0 133.0a1.65 1.65 0 1 0 3.3 0a1.65 1.65 0 1 0 -3.3 0M181.0 132.3a1.65 1.65 0 1 0 3.3 0a1.65 1.65 0 1 0 -3.3 0M181.0 131.5a1.65 1.65 0 1 0 3.3 0a1.65 1.65 0 1 0 -3.3 0M181.0 130.7a1.65 1.65 0 1 0 3.3 0a1.65 1.65 0 1 0 -3.3 0M181.0 130.0a1.65 1.65 0 1 0 3.3 0a1.65 1.65 0 1 0 -3.3 0M181.0 129.2a1.65 1.65 0 1 0 3.3 0a1.65 1.65 0 1 0 -3.3 0M181.0 128.4a1.65 1.65 0 1 0 3.3 0a1.65 1.65 0 1 0 -3.3 0M181.0 127.7a1.65 1.65 0 1 0 3.3 0a1.65 1.65 0 1 0 -3.3 0M181.0 126.9a1.65 1.65 0 1 0 3.3 0a1.65 1.65 0 1 0 -3.3 0M181.0 126.1a1.65 1.65 0 1 0 3.3 0a1.65 1.65 0 1 0 -3.3 0M181.0 125.4a1.65 1.65 0 1 0 3.3 0a1.65 1.65 0 1 0 -3.3 0M181.0 124.6a1.65 1.65 0 1 0 3.3 0a1.65 1.65 0 1 0 -3.3 0M181.0 123.8a1.65 1.65 0 1 0 3.3 0a1.65 1.65 0 1 0 -3.3 0M181.0 123.1a1.65 1.65 0 1 0 3.3 0a1.65 1.65 0 1 0 -3.3 0M181.0 122.3a1.65 1.65 0 1 0 3.3 0a1.65 1.65 0 1 0 -3.3 0M181.0 121.5a1.65 1.65 0 1 0 3.3 0a1.65 1.65 0 1 0 -3.3 0M181.0 120.8a1.65 1.65 0 1 0 3.3 0a1.65 1.65 0 1 0 -3.3 0M181.0 120.0a1.65 1.65 0 1 0 3.3 0a1.65 1.65 0 1 0 -3.3 0M181.0 119.2a1.65 1.65 0 1 0 3.3 0a1.65 1.65 0 1 0 -3.3 0M181.0 118.5a1.65 1.65 0 1 0 3.3 0a1.65 1.65 0 1 0 -3.3 0M181.0 117.7a1.65 1.65 0 1 0 3.3 0a1.65 1.65 0 1 0 -3.3 0M181.0 116.9a1.65 1.65 0 1 0 3.3 0a1.65 1.65 0 1 0 -3.3 0M181.0 116.2a1.65 1.65 0 1 0 3.3 0a1.65 1.65 0 1 0 -3.3 0M181.0 115.4a1.65 1.65 0 1 0 3.3 0a1.65 1.65 0 1 0 -3.3 0M181.0 114.6a1.65 1.65 0 1 0 3.3 0a1.65 1.65 0 1 0 -3.3 0M181.0 113.8a1.65 1.65 0 1 0 3.3 0a1.65 1.65 0 1 0 -3.3 0M181.0 113.1a1.65 1.65 0 1 0 3.3 0a1.65 1.65 0 1 0 -3.3 0M181.0 112.3a1.65 1.65 0 1 0 3.3 0a1.65 1.65 0 1 0 -3.3 0M181.0 111.5a1.65 1.65 0 1 0 3.3 0a1.65 1.65 0 1 0 -3.3 0M181.0 162.7a1.65 1.65 0 1 0 3.3 0a1.65 1.65 0 1 0 -3.3 0M181.0 158.5a1.65 1.65 0 1 0 3.3 0a1.65 1.65 0 1 0 -3.3 0M190.3 142.7a1.65 1.65 0 1 0 3.3 0a1.65 1.65 0 1 0 -3.3 0M190.3 141.9a1.65 1.65 0 1 0 3.3 0a1.65 1.65 0 1 0 -3.3 0M190.3 141.2a1.65 1.65 0 1 0 3.3 0a1.65 1.65 0 1 0 -3.3 0M190.3 140.4a1.65 1.65 0 1 0 3.3 0a1.65 1.65 0 1 0 -3.3 0M190.3 139.6a1.65 1.65 0 1 0 3.3 0a1.65 1.65 0 1 0 -3.3 0M190.3 138.9a1.65 1.65 0 1 0 3.3 0a1.65 1.65 0 1 0 -3.3 0M190.3 138.1a1.65 1.65 0 1 0 3.3 0a1.65 1.65 0 1 0 -3.3 0M190.3 137.3a1.65 1.65 0 1 0 3.3 0a1.65 1.65 0 1 0 -3.3 0M190.3 136.5a1.65 1.65 0 1 0 3.3 0a1.65 1.65 0 1 0 -3.3 0M190.3 135.8a1.65 1.65 0 1 0 3.3 0a1.65 1.65 0 1 0 -3.3 0M190.3 135.0a1.65 1.65 0 1 0 3.3 0a1.65 1.65 0 1 0 -3.3 0M190.3 134.2a1.65 1.65 0 1 0 3.3 0a1.65 1.65 0 1 0 -3.3 0M190.3 133.5a1.65 1.65 0 1 0 3.3 0a1.65 1.65 0 1 0 -3.3 0M190.3 132.7a1.65 1.65 0 1 0 3.3 0a1.65 1.65 0 1 0 -3.3 0M190.3 131.9a1.65 1.65 0 1 0 3.3 0a1.65 1.65 0 1 0 -3.3 0M190.3 131.1a1.65 1.65 0 1 0 3.3 0a1.65 1.65 0 1 0 -3.3 0M190.3 130.4a1.65 1.65 0 1 0 3.3 0a1.65 1.65 0 1 0 -3.3 0M190.3 129.6a1.65 1.65 0 1 0 3.3 0a1.65 1.65 0 1 0 -3.3 0M190.3 128.8a1.65 1.65 0 1 0 3.3 0a1.65 1.65 0 1 0 -3.3 0M190.3 128.1a1.65 1.65 0 1 0 3.3 0a1.65 1.65 0 1 0 -3.3 0M190.3 127.3a1.65 1.65 0 1 0 3.3 0a1.65 1.65 0 1 0 -3.3 0M190.3 126.5a1.65 1.65 0 1 0 3.3 0a1.65 1.65 0 1 0 -3.3 0M190.3 125.7a1.65 1.65 0 1 0 3.3 0a1.65 1.65 0 1 0 -3.3 0M190.3 125.0a1.65 1.65 0 1 0 3.3 0a1.65 1.65 0 1 0 -3.3 0M190.3 124.2a1.65 1.65 0 1 0 3.3 0a1.65 1.65 0 1 0 -3.3 0M190.3 123.4a1.65 1.65 0 1 0 3.3 0a1.65 1.65 0 1 0 -3.3 0M190.3 122.7a1.65 1.65 0 1 0 3.3 0a1.65 1.65 0 1 0 -3.3 0M190.3 121.9a1.65 1.65 0 1 0 3.3 0a1.65 1.65 0 1 0 -3.3 0M190.3 121.1a1.65 1.65 0 1 0 3.3 0a1.65 1.65 0 1 0 -3.3 0M190.3 120.3a1.65 1.65 0 1 0 3.3 0a1.65 1.65 0 1 0 -3.3 0M190.3 119.6a1.65 1.65 0 1 0 3.3 0a1.65 1.65 0 1 0 -3.3 0M190.3 118.8a1.65 1.65 0 1 0 3.3 0a1.65 1.65 0 1 0 -3.3 0M190.3 118.0a1.65 1.65 0 1 0 3.3 0a1.65 1.65 0 1 0 -3.3 0M190.3 117.3a1.65 1.65 0 1 0 3.3 0a1.65 1.65 0 1 0 -3.3 0M190.3 116.5a1.65 1.65 0 1 0 3.3 0a1.65 1.65 0 1 0 -3.3 0M190.3 115.7a1.65 1.65 0 1 0 3.3 0a1.65 1.65 0 1 0 -3.3 0M190.3 114.9a1.65 1.65 0 1 0 3.3 0a1.65 1.65 0 1 0 -3.3 0M190.3 114.2a1.65 1.65 0 1 0 3.3 0a1.65 1.65 0 1 0 -3.3 0M190.3 113.4a1.65 1.65 0 1 0 3.3 0a1.65 1.65 0 1 0 -3.3 0M190.3 112.6a1.65 1.65 0 1 0 3.3 0a1.65 1.65 0 1 0 -3.3 0M190.3 111.9a1.65 1.65 0 1 0 3.3 0a1.65 1.65 0 1 0 -3.3 0M190.3 111.1a1.65 1.65 0 1 0 3.3 0a1.65 1.65 0 1 0 -3.3 0M190.3 110.3a1.65 1.65 0 1 0 3.3 0a1.65 1.65 0 1 0 -3.3 0M190.3 109.5a1.65 1.65 0 1 0 3.3 0a1.65 1.65 0 1 0 -3.3 0M190.3 108.8a1.65 1.65 0 1 0 3.3 0a1.65 1.65 0 1 0 -3.3 0M190.3 108.0a1.65 1.65 0 1 0 3.3 0a1.65 1.65 0 1 0 -3.3 0M190.3 107.2a1.65 1.65 0 1 0 3.3 0a1.65 1.65 0 1 0 -3.3 0M190.3 106.5a1.65 1.65 0 1 0 3.3 0a1.65 1.65 0 1 0 -3.3 0M190.3 150.4a1.65 1.65 0 1 0 3.3 0a1.65 1.65 0 1 0 -3.3 0M190.3 148.5a1.65 1.65 0 1 0 3.3 0a1.65 1.65 0 1 0 -3.3 0M190.3 146.0a1.65 1.65 0 1 0 3.3 0a1.65 1.65 0 1 0 -3.3 0M190.3 144.7a1.65 1.65 0 1 0 3.3 0a1.65 1.65 0 1 0 -3.3 0M199.5 129.4a1.65 1.65 0 1 0 3.3 0a1.65 1.65 0 1 0 -3.3 0M199.5 128.6a1.65 1.65 0 1 0 3.3 0a1.65 1.65 0 1 0 -3.3 0M199.5 127.8a1.65 1.65 0 1 0 3.3 0a1.65 1.65 0 1 0 -3.3 0M199.5 127.1a1.65 1.65 0 1 0 3.3 0a1.65 1.65 0 1 0 -3.3 0M199.5 126.3a1.65 1.65 0 1 0 3.3 0a1.65 1.65 0 1 0 -3.3 0M199.5 125.5a1.65 1.65 0 1 0 3.3 0a1.65 1.65 0 1 0 -3.3 0M199.5 124.8a1.65 1.65 0 1 0 3.3 0a1.65 1.65 0 1 0 -3.3 0M199.5 124.0a1.65 1.65 0 1 0 3.3 0a1.65 1.65 0 1 0 -3.3 0M199.5 123.2a1.65 1.65 0 1 0 3.3 0a1.65 1.65 0 1 0 -3.3 0M199.5 122.5a1.65 1.65 0 1 0 3.3 0a1.65 1.65 0 1 0 -3.3 0M199.5 121.7a1.65 1.65 0 1 0 3.3 0a1.65 1.65 0 1 0 -3.3 0M199.5 120.9a1.65 1.65 0 1 0 3.3 0a1.65 1.65 0 1 0 -3.3 0M199.5 120.1a1.65 1.65 0 1 0 3.3 0a1.65 1.65 0 1 0 -3.3 0M199.5 119.4a1.65 1.65 0 1 0 3.3 0a1.65 1.65 0 1 0 -3.3 0M199.5 118.6a1.65 1.65 0 1 0 3.3 0a1.65 1.65 0 1 0 -3.3 0M199.5 117.8a1.65 1.65 0 1 0 3.3 0a1.65 1.65 0 1 0 -3.3 0M199.5 117.1a1.65 1.65 0 1 0 3.3 0a1.65 1.65 0 1 0 -3.3 0M199.5 116.3a1.65 1.65 0 1 0 3.3 0a1.65 1.65 0 1 0 -3.3 0M199.5 115.5a1.65 1.65 0 1 0 3.3 0a1.65 1.65 0 1 0 -3.3 0M199.5 114.7a1.65 1.65 0 1 0 3.3 0a1.65 1.65 0 1 0 -3.3 0M199.5 114.0a1.65 1.65 0 1 0 3.3 0a1.65 1.65 0 1 0 -3.3 0M199.5 113.2a1.65 1.65 0 1 0 3.3 0a1.65 1.65 0 1 0 -3.3 0M199.5 112.4a1.65 1.65 0 1 0 3.3 0a1.65 1.65 0 1 0 -3.3 0M199.5 111.7a1.65 1.65 0 1 0 3.3 0a1.65 1.65 0 1 0 -3.3 0M199.5 110.9a1.65 1.65 0 1 0 3.3 0a1.65 1.65 0 1 0 -3.3 0M199.5 110.1a1.65 1.65 0 1 0 3.3 0a1.65 1.65 0 1 0 -3.3 0M199.5 109.3a1.65 1.65 0 1 0 3.3 0a1.65 1.65 0 1 0 -3.3 0M199.5 108.6a1.65 1.65 0 1 0 3.3 0a1.65 1.65 0 1 0 -3.3 0M199.5 107.8a1.65 1.65 0 1 0 3.3 0a1.65 1.65 0 1 0 -3.3 0M199.5 107.0a1.65 1.65 0 1 0 3.3 0a1.65 1.65 0 1 0 -3.3 0M199.5 106.3a1.65 1.65 0 1 0 3.3 0a1.65 1.65 0 1 0 -3.3 0M199.5 105.5a1.65 1.65 0 1 0 3.3 0a1.65 1.65 0 1 0 -3.3 0M199.5 104.7a1.65 1.65 0 1 0 3.3 0a1.65 1.65 0 1 0 -3.3 0M199.5 103.9a1.65 1.65 0 1 0 3.3 0a1.65 1.65 0 1 0 -3.3 0M199.5 103.2a1.65 1.65 0 1 0 3.3 0a1.65 1.65 0 1 0 -3.3 0M199.5 102.4a1.65 1.65 0 1 0 3.3 0a1.65 1.65 0 1 0 -3.3 0M199.5 101.6a1.65 1.65 0 1 0 3.3 0a1.65 1.65 0 1 0 -3.3 0M199.5 100.9a1.65 1.65 0 1 0 3.3 0a1.65 1.65 0 1 0 -3.3 0M199.5 100.1a1.65 1.65 0 1 0 3.3 0a1.65 1.65 0 1 0 -3.3 0M199.5 99.3a1.65 1.65 0 1 0 3.3 0a1.65 1.65 0 1 0 -3.3 0M199.5 98.5a1.65 1.65 0 1 0 3.3 0a1.65 1.65 0 1 0 -3.3 0M199.5 97.8a1.65 1.65 0 1 0 3.3 0a1.65 1.65 0 1 0 -3.3 0M199.5 97.0a1.65 1.65 0 1 0 3.3 0a1.65 1.65 0 1 0 -3.3 0M199.5 96.2a1.65 1.65 0 1 0 3.3 0a1.65 1.65 0 1 0 -3.3 0M199.5 95.5a1.65 1.65 0 1 0 3.3 0a1.65 1.65 0 1 0 -3.3 0M199.5 147.2a1.65 1.65 0 1 0 3.3 0a1.65 1.65 0 1 0 -3.3 0M199.5 146.1a1.65 1.65 0 1 0 3.3 0a1.65 1.65 0 1 0 -3.3 0M199.5 144.6a1.65 1.65 0 1 0 3.3 0a1.65 1.65 0 1 0 -3.3 0M199.5 143.2a1.65 1.65 0 1 0 3.3 0a1.65 1.65 0 1 0 -3.3 0M199.5 141.6a1.65 1.65 0 1 0 3.3 0a1.65 1.65 0 1 0 -3.3 0M199.5 139.8a1.65 1.65 0 1 0 3.3 0a1.65 1.65 0 1 0 -3.3 0M199.5 138.6a1.65 1.65 0 1 0 3.3 0a1.65 1.65 0 1 0 -3.3 0M199.5 136.9a1.65 1.65 0 1 0 3.3 0a1.65 1.65 0 1 0 -3.3 0M199.5 135.4a1.65 1.65 0 1 0 3.3 0a1.65 1.65 0 1 0 -3.3 0M199.5 134.0a1.65 1.65 0 1 0 3.3 0a1.65 1.65 0 1 0 -3.3 0M199.5 132.4a1.65 1.65 0 1 0 3.3 0a1.65 1.65 0 1 0 -3.3 0M199.5 131.2a1.65 1.65 0 1 0 3.3 0a1.65 1.65 0 1 0 -3.3 0M208.8 128.3a1.65 1.65 0 1 0 3.3 0a1.65 1.65 0 1 0 -3.3 0M208.8 127.8a1.65 1.65 0 1 0 3.3 0a1.65 1.65 0 1 0 -3.3 0M208.8 137.7a1.65 1.65 0 1 0 3.3 0a1.65 1.65 0 1 0 -3.3 0M208.8 120.1a1.65 1.65 0 1 0 3.3 0a1.65 1.65 0 1 0 -3.3 0M208.8 119.4a1.65 1.65 0 1 0 3.3 0a1.65 1.65 0 1 0 -3.3 0M208.8 118.6a1.65 1.65 0 1 0 3.3 0a1.65 1.65 0 1 0 -3.3 0M208.8 117.8a1.65 1.65 0 1 0 3.3 0a1.65 1.65 0 1 0 -3.3 0M208.8 117.0a1.65 1.65 0 1 0 3.3 0a1.65 1.65 0 1 0 -3.3 0M208.8 116.3a1.65 1.65 0 1 0 3.3 0a1.65 1.65 0 1 0 -3.3 0M208.8 115.5a1.65 1.65 0 1 0 3.3 0a1.65 1.65 0 1 0 -3.3 0M208.8 114.7a1.65 1.65 0 1 0 3.3 0a1.65 1.65 0 1 0 -3.3 0M208.8 113.9a1.65 1.65 0 1 0 3.3 0a1.65 1.65 0 1 0 -3.3 0M208.8 113.1a1.65 1.65 0 1 0 3.3 0a1.65 1.65 0 1 0 -3.3 0M208.8 112.4a1.65 1.65 0 1 0 3.3 0a1.65 1.65 0 1 0 -3.3 0M208.8 111.6a1.65 1.65 0 1 0 3.3 0a1.65 1.65 0 1 0 -3.3 0M208.8 110.8a1.65 1.65 0 1 0 3.3 0a1.65 1.65 0 1 0 -3.3 0M208.8 110.0a1.65 1.65 0 1 0 3.3 0a1.65 1.65 0 1 0 -3.3 0M208.8 109.2a1.65 1.65 0 1 0 3.3 0a1.65 1.65 0 1 0 -3.3 0M208.8 108.5a1.65 1.65 0 1 0 3.3 0a1.65 1.65 0 1 0 -3.3 0M208.8 107.7a1.65 1.65 0 1 0 3.3 0a1.65 1.65 0 1 0 -3.3 0M208.8 106.9a1.65 1.65 0 1 0 3.3 0a1.65 1.65 0 1 0 -3.3 0M208.8 106.1a1.65 1.65 0 1 0 3.3 0a1.65 1.65 0 1 0 -3.3 0M208.8 105.4a1.65 1.65 0 1 0 3.3 0a1.65 1.65 0 1 0 -3.3 0M208.8 104.6a1.65 1.65 0 1 0 3.3 0a1.65 1.65 0 1 0 -3.3 0M208.8 103.8a1.65 1.65 0 1 0 3.3 0a1.65 1.65 0 1 0 -3.3 0M208.8 103.0a1.65 1.65 0 1 0 3.3 0a1.65 1.65 0 1 0 -3.3 0M208.8 102.2a1.65 1.65 0 1 0 3.3 0a1.65 1.65 0 1 0 -3.3 0M208.8 101.5a1.65 1.65 0 1 0 3.3 0a1.65 1.65 0 1 0 -3.3 0M208.8 100.7a1.65 1.65 0 1 0 3.3 0a1.65 1.65 0 1 0 -3.3 0M208.8 99.9a1.65 1.65 0 1 0 3.3 0a1.65 1.65 0 1 0 -3.3 0M208.8 99.1a1.65 1.65 0 1 0 3.3 0a1.65 1.65 0 1 0 -3.3 0M208.8 98.3a1.65 1.65 0 1 0 3.3 0a1.65 1.65 0 1 0 -3.3 0M208.8 97.6a1.65 1.65 0 1 0 3.3 0a1.65 1.65 0 1 0 -3.3 0M208.8 96.8a1.65 1.65 0 1 0 3.3 0a1.65 1.65 0 1 0 -3.3 0M208.8 96.0a1.65 1.65 0 1 0 3.3 0a1.65 1.65 0 1 0 -3.3 0M208.8 95.2a1.65 1.65 0 1 0 3.3 0a1.65 1.65 0 1 0 -3.3 0M208.8 94.5a1.65 1.65 0 1 0 3.3 0a1.65 1.65 0 1 0 -3.3 0M208.8 93.7a1.65 1.65 0 1 0 3.3 0a1.65 1.65 0 1 0 -3.3 0M208.8 92.9a1.65 1.65 0 1 0 3.3 0a1.65 1.65 0 1 0 -3.3 0M208.8 92.1a1.65 1.65 0 1 0 3.3 0a1.65 1.65 0 1 0 -3.3 0M208.8 91.3a1.65 1.65 0 1 0 3.3 0a1.65 1.65 0 1 0 -3.3 0M208.8 90.6a1.65 1.65 0 1 0 3.3 0a1.65 1.65 0 1 0 -3.3 0M208.8 89.8a1.65 1.65 0 1 0 3.3 0a1.65 1.65 0 1 0 -3.3 0M208.8 89.0a1.65 1.65 0 1 0 3.3 0a1.65 1.65 0 1 0 -3.3 0M208.8 88.2a1.65 1.65 0 1 0 3.3 0a1.65 1.65 0 1 0 -3.3 0M208.8 87.5a1.65 1.65 0 1 0 3.3 0a1.65 1.65 0 1 0 -3.3 0M208.8 86.7a1.65 1.65 0 1 0 3.3 0a1.65 1.65 0 1 0 -3.3 0M218.0 107.9a1.65 1.65 0 1 0 3.3 0a1.65 1.65 0 1 0 -3.3 0M218.0 107.2a1.65 1.65 0 1 0 3.3 0a1.65 1.65 0 1 0 -3.3 0M218.0 106.4a1.65 1.65 0 1 0 3.3 0a1.65 1.65 0 1 0 -3.3 0M218.0 105.6a1.65 1.65 0 1 0 3.3 0a1.65 1.65 0 1 0 -3.3 0M218.0 104.8a1.65 1.65 0 1 0 3.3 0a1.65 1.65 0 1 0 -3.3 0M218.0 104.0a1.65 1.65 0 1 0 3.3 0a1.65 1.65 0 1 0 -3.3 0M218.0 103.2a1.65 1.65 0 1 0 3.3 0a1.65 1.65 0 1 0 -3.3 0M218.0 102.4a1.65 1.65 0 1 0 3.3 0a1.65 1.65 0 1 0 -3.3 0M218.0 101.7a1.65 1.65 0 1 0 3.3 0a1.65 1.65 0 1 0 -3.3 0M218.0 100.9a1.65 1.65 0 1 0 3.3 0a1.65 1.65 0 1 0 -3.3 0M218.0 100.1a1.65 1.65 0 1 0 3.3 0a1.65 1.65 0 1 0 -3.3 0M218.0 99.3a1.65 1.65 0 1 0 3.3 0a1.65 1.65 0 1 0 -3.3 0M218.0 98.5a1.65 1.65 0 1 0 3.3 0a1.65 1.65 0 1 0 -3.3 0M218.0 97.7a1.65 1.65 0 1 0 3.3 0a1.65 1.65 0 1 0 -3.3 0M218.0 96.9a1.65 1.65 0 1 0 3.3 0a1.65 1.65 0 1 0 -3.3 0M218.0 96.2a1.65 1.65 0 1 0 3.3 0a1.65 1.65 0 1 0 -3.3 0M218.0 95.4a1.65 1.65 0 1 0 3.3 0a1.65 1.65 0 1 0 -3.3 0M218.0 94.6a1.65 1.65 0 1 0 3.3 0a1.65 1.65 0 1 0 -3.3 0M218.0 93.8a1.65 1.65 0 1 0 3.3 0a1.65 1.65 0 1 0 -3.3 0M218.0 93.0a1.65 1.65 0 1 0 3.3 0a1.65 1.65 0 1 0 -3.3 0M218.0 92.2a1.65 1.65 0 1 0 3.3 0a1.65 1.65 0 1 0 -3.3 0M218.0 91.4a1.65 1.65 0 1 0 3.3 0a1.65 1.65 0 1 0 -3.3 0M218.0 90.6a1.65 1.65 0 1 0 3.3 0a1.65 1.65 0 1 0 -3.3 0M218.0 89.9a1.65 1.65 0 1 0 3.3 0a1.65 1.65 0 1 0 -3.3 0M218.0 89.1a1.65 1.65 0 1 0 3.3 0a1.65 1.65 0 1 0 -3.3 0M218.0 88.3a1.65 1.65 0 1 0 3.3 0a1.65 1.65 0 1 0 -3.3 0M218.0 87.5a1.65 1.65 0 1 0 3.3 0a1.65 1.65 0 1 0 -3.3 0M218.0 86.7a1.65 1.65 0 1 0 3.3 0a1.65 1.65 0 1 0 -3.3 0M218.0 85.9a1.65 1.65 0 1 0 3.3 0a1.65 1.65 0 1 0 -3.3 0M218.0 85.1a1.65 1.65 0 1 0 3.3 0a1.65 1.65 0 1 0 -3.3 0M218.0 84.4a1.65 1.65 0 1 0 3.3 0a1.65 1.65 0 1 0 -3.3 0M218.0 83.6a1.65 1.65 0 1 0 3.3 0a1.65 1.65 0 1 0 -3.3 0M218.0 82.8a1.65 1.65 0 1 0 3.3 0a1.65 1.65 0 1 0 -3.3 0M218.0 122.0a1.65 1.65 0 1 0 3.3 0a1.65 1.65 0 1 0 -3.3 0M218.0 120.4a1.65 1.65 0 1 0 3.3 0a1.65 1.65 0 1 0 -3.3 0M218.0 118.6a1.65 1.65 0 1 0 3.3 0a1.65 1.65 0 1 0 -3.3 0M218.0 117.2a1.65 1.65 0 1 0 3.3 0a1.65 1.65 0 1 0 -3.3 0M218.0 115.7a1.65 1.65 0 1 0 3.3 0a1.65 1.65 0 1 0 -3.3 0M218.0 114.0a1.65 1.65 0 1 0 3.3 0a1.65 1.65 0 1 0 -3.3 0M218.0 112.6a1.65 1.65 0 1 0 3.3 0a1.65 1.65 0 1 0 -3.3 0M218.0 111.2a1.65 1.65 0 1 0 3.3 0a1.65 1.65 0 1 0 -3.3 0M218.0 109.3a1.65 1.65 0 1 0 3.3 0a1.65 1.65 0 1 0 -3.3 0M227.3 109.4a1.65 1.65 0 1 0 3.3 0a1.65 1.65 0 1 0 -3.3 0M227.3 108.6a1.65 1.65 0 1 0 3.3 0a1.65 1.65 0 1 0 -3.3 0M227.3 107.9a1.65 1.65 0 1 0 3.3 0a1.65 1.65 0 1 0 -3.3 0M227.3 107.1a1.65 1.65 0 1 0 3.3 0a1.65 1.65 0 1 0 -3.3 0M227.3 106.3a1.65 1.65 0 1 0 3.3 0a1.65 1.65 0 1 0 -3.3 0M227.3 105.6a1.65 1.65 0 1 0 3.3 0a1.65 1.65 0 1 0 -3.3 0M227.3 104.8a1.65 1.65 0 1 0 3.3 0a1.65 1.65 0 1 0 -3.3 0M227.3 104.0a1.65 1.65 0 1 0 3.3 0a1.65 1.65 0 1 0 -3.3 0M227.3 103.2a1.65 1.65 0 1 0 3.3 0a1.65 1.65 0 1 0 -3.3 0M227.3 102.5a1.65 1.65 0 1 0 3.3 0a1.65 1.65 0 1 0 -3.3 0M227.3 101.7a1.65 1.65 0 1 0 3.3 0a1.65 1.65 0 1 0 -3.3 0M227.3 100.9a1.65 1.65 0 1 0 3.3 0a1.65 1.65 0 1 0 -3.3 0M227.3 100.2a1.65 1.65 0 1 0 3.3 0a1.65 1.65 0 1 0 -3.3 0M227.3 99.4a1.65 1.65 0 1 0 3.3 0a1.65 1.65 0 1 0 -3.3 0M227.3 98.6a1.65 1.65 0 1 0 3.3 0a1.65 1.65 0 1 0 -3.3 0M227.3 97.9a1.65 1.65 0 1 0 3.3 0a1.65 1.65 0 1 0 -3.3 0M227.3 97.1a1.65 1.65 0 1 0 3.3 0a1.65 1.65 0 1 0 -3.3 0M227.3 96.3a1.65 1.65 0 1 0 3.3 0a1.65 1.65 0 1 0 -3.3 0M227.3 95.5a1.65 1.65 0 1 0 3.3 0a1.65 1.65 0 1 0 -3.3 0M227.3 94.8a1.65 1.65 0 1 0 3.3 0a1.65 1.65 0 1 0 -3.3 0M227.3 94.0a1.65 1.65 0 1 0 3.3 0a1.65 1.65 0 1 0 -3.3 0M227.3 93.2a1.65 1.65 0 1 0 3.3 0a1.65 1.65 0 1 0 -3.3 0M227.3 92.5a1.65 1.65 0 1 0 3.3 0a1.65 1.65 0 1 0 -3.3 0M227.3 91.7a1.65 1.65 0 1 0 3.3 0a1.65 1.65 0 1 0 -3.3 0M227.3 90.9a1.65 1.65 0 1 0 3.3 0a1.65 1.65 0 1 0 -3.3 0M227.3 90.1a1.65 1.65 0 1 0 3.3 0a1.65 1.65 0 1 0 -3.3 0M227.3 89.4a1.65 1.65 0 1 0 3.3 0a1.65 1.65 0 1 0 -3.3 0M227.3 88.6a1.65 1.65 0 1 0 3.3 0a1.65 1.65 0 1 0 -3.3 0M227.3 87.8a1.65 1.65 0 1 0 3.3 0a1.65 1.65 0 1 0 -3.3 0M227.3 87.1a1.65 1.65 0 1 0 3.3 0a1.65 1.65 0 1 0 -3.3 0M227.3 86.3a1.65 1.65 0 1 0 3.3 0a1.65 1.65 0 1 0 -3.3 0M227.3 85.5a1.65 1.65 0 1 0 3.3 0a1.65 1.65 0 1 0 -3.3 0M227.3 84.7a1.65 1.65 0 1 0 3.3 0a1.65 1.65 0 1 0 -3.3 0M227.3 84.0a1.65 1.65 0 1 0 3.3 0a1.65 1.65 0 1 0 -3.3 0M227.3 83.2a1.65 1.65 0 1 0 3.3 0a1.65 1.65 0 1 0 -3.3 0M227.3 82.4a1.65 1.65 0 1 0 3.3 0a1.65 1.65 0 1 0 -3.3 0M227.3 81.7a1.65 1.65 0 1 0 3.3 0a1.65 1.65 0 1 0 -3.3 0M227.3 80.9a1.65 1.65 0 1 0 3.3 0a1.65 1.65 0 1 0 -3.3 0M227.3 80.1a1.65 1.65 0 1 0 3.3 0a1.65 1.65 0 1 0 -3.3 0M227.3 79.3a1.65 1.65 0 1 0 3.3 0a1.65 1.65 0 1 0 -3.3 0M227.3 78.6a1.65 1.65 0 1 0 3.3 0a1.65 1.65 0 1 0 -3.3 0M227.3 77.8a1.65 1.65 0 1 0 3.3 0a1.65 1.65 0 1 0 -3.3 0M227.3 77.0a1.65 1.65 0 1 0 3.3 0a1.65 1.65 0 1 0 -3.3 0M227.3 76.3a1.65 1.65 0 1 0 3.3 0a1.65 1.65 0 1 0 -3.3 0M227.3 75.5a1.65 1.65 0 1 0 3.3 0a1.65 1.65 0 1 0 -3.3 0M227.3 74.7a1.65 1.65 0 1 0 3.3 0a1.65 1.65 0 1 0 -3.3 0M227.3 73.9a1.65 1.65 0 1 0 3.3 0a1.65 1.65 0 1 0 -3.3 0M227.3 73.2a1.65 1.65 0 1 0 3.3 0a1.65 1.65 0 1 0 -3.3 0M236.6 92.9a1.65 1.65 0 1 0 3.3 0a1.65 1.65 0 1 0 -3.3 0M236.6 96.6a1.65 1.65 0 1 0 3.3 0a1.65 1.65 0 1 0 -3.3 0M236.6 98.4a1.65 1.65 0 1 0 3.3 0a1.65 1.65 0 1 0 -3.3 0M236.6 100.3a1.65 1.65 0 1 0 3.3 0a1.65 1.65 0 1 0 -3.3 0M236.6 89.4a1.65 1.65 0 1 0 3.3 0a1.65 1.65 0 1 0 -3.3 0M236.6 88.7a1.65 1.65 0 1 0 3.3 0a1.65 1.65 0 1 0 -3.3 0M236.6 87.9a1.65 1.65 0 1 0 3.3 0a1.65 1.65 0 1 0 -3.3 0M236.6 87.1a1.65 1.65 0 1 0 3.3 0a1.65 1.65 0 1 0 -3.3 0M236.6 86.3a1.65 1.65 0 1 0 3.3 0a1.65 1.65 0 1 0 -3.3 0M236.6 85.5a1.65 1.65 0 1 0 3.3 0a1.65 1.65 0 1 0 -3.3 0M236.6 84.7a1.65 1.65 0 1 0 3.3 0a1.65 1.65 0 1 0 -3.3 0M236.6 83.9a1.65 1.65 0 1 0 3.3 0a1.65 1.65 0 1 0 -3.3 0M236.6 83.1a1.65 1.65 0 1 0 3.3 0a1.65 1.65 0 1 0 -3.3 0M236.6 82.3a1.65 1.65 0 1 0 3.3 0a1.65 1.65 0 1 0 -3.3 0M236.6 81.6a1.65 1.65 0 1 0 3.3 0a1.65 1.65 0 1 0 -3.3 0M236.6 80.8a1.65 1.65 0 1 0 3.3 0a1.65 1.65 0 1 0 -3.3 0M236.6 80.0a1.65 1.65 0 1 0 3.3 0a1.65 1.65 0 1 0 -3.3 0M236.6 79.2a1.65 1.65 0 1 0 3.3 0a1.65 1.65 0 1 0 -3.3 0M236.6 78.4a1.65 1.65 0 1 0 3.3 0a1.65 1.65 0 1 0 -3.3 0M236.6 77.6a1.65 1.65 0 1 0 3.3 0a1.65 1.65 0 1 0 -3.3 0M236.6 76.8a1.65 1.65 0 1 0 3.3 0a1.65 1.65 0 1 0 -3.3 0M236.6 76.0a1.65 1.65 0 1 0 3.3 0a1.65 1.65 0 1 0 -3.3 0M236.6 75.2a1.65 1.65 0 1 0 3.3 0a1.65 1.65 0 1 0 -3.3 0M236.6 74.5a1.65 1.65 0 1 0 3.3 0a1.65 1.65 0 1 0 -3.3 0M236.6 73.7a1.65 1.65 0 1 0 3.3 0a1.65 1.65 0 1 0 -3.3 0M236.6 72.9a1.65 1.65 0 1 0 3.3 0a1.65 1.65 0 1 0 -3.3 0M236.6 72.1a1.65 1.65 0 1 0 3.3 0a1.65 1.65 0 1 0 -3.3 0M236.6 71.3a1.65 1.65 0 1 0 3.3 0a1.65 1.65 0 1 0 -3.3 0M236.6 70.5a1.65 1.65 0 1 0 3.3 0a1.65 1.65 0 1 0 -3.3 0M236.6 69.7a1.65 1.65 0 1 0 3.3 0a1.65 1.65 0 1 0 -3.3 0M236.6 68.9a1.65 1.65 0 1 0 3.3 0a1.65 1.65 0 1 0 -3.3 0M236.6 68.1a1.65 1.65 0 1 0 3.3 0a1.65 1.65 0 1 0 -3.3 0M236.6 67.4a1.65 1.65 0 1 0 3.3 0a1.65 1.65 0 1 0 -3.3 0M236.6 66.6a1.65 1.65 0 1 0 3.3 0a1.65 1.65 0 1 0 -3.3 0M236.6 65.8a1.65 1.65 0 1 0 3.3 0a1.65 1.65 0 1 0 -3.3 0M245.8 83.0a1.65 1.65 0 1 0 3.3 0a1.65 1.65 0 1 0 -3.3 0M245.8 82.2a1.65 1.65 0 1 0 3.3 0a1.65 1.65 0 1 0 -3.3 0M245.8 81.4a1.65 1.65 0 1 0 3.3 0a1.65 1.65 0 1 0 -3.3 0M245.8 80.6a1.65 1.65 0 1 0 3.3 0a1.65 1.65 0 1 0 -3.3 0M245.8 79.9a1.65 1.65 0 1 0 3.3 0a1.65 1.65 0 1 0 -3.3 0M245.8 79.1a1.65 1.65 0 1 0 3.3 0a1.65 1.65 0 1 0 -3.3 0M245.8 78.3a1.65 1.65 0 1 0 3.3 0a1.65 1.65 0 1 0 -3.3 0M245.8 77.5a1.65 1.65 0 1 0 3.3 0a1.65 1.65 0 1 0 -3.3 0M245.8 76.7a1.65 1.65 0 1 0 3.3 0a1.65 1.65 0 1 0 -3.3 0M245.8 76.0a1.65 1.65 0 1 0 3.3 0a1.65 1.65 0 1 0 -3.3 0M245.8 75.2a1.65 1.65 0 1 0 3.3 0a1.65 1.65 0 1 0 -3.3 0M245.8 74.4a1.65 1.65 0 1 0 3.3 0a1.65 1.65 0 1 0 -3.3 0M245.8 73.6a1.65 1.65 0 1 0 3.3 0a1.65 1.65 0 1 0 -3.3 0M245.8 72.8a1.65 1.65 0 1 0 3.3 0a1.65 1.65 0 1 0 -3.3 0M245.8 72.1a1.65 1.65 0 1 0 3.3 0a1.65 1.65 0 1 0 -3.3 0M245.8 71.3a1.65 1.65 0 1 0 3.3 0a1.65 1.65 0 1 0 -3.3 0M245.8 70.5a1.65 1.65 0 1 0 3.3 0a1.65 1.65 0 1 0 -3.3 0M245.8 69.7a1.65 1.65 0 1 0 3.3 0a1.65 1.65 0 1 0 -3.3 0M245.8 68.9a1.65 1.65 0 1 0 3.3 0a1.65 1.65 0 1 0 -3.3 0M245.8 68.2a1.65 1.65 0 1 0 3.3 0a1.65 1.65 0 1 0 -3.3 0M245.8 67.4a1.65 1.65 0 1 0 3.3 0a1.65 1.65 0 1 0 -3.3 0M245.8 66.6a1.65 1.65 0 1 0 3.3 0a1.65 1.65 0 1 0 -3.3 0M245.8 65.8a1.65 1.65 0 1 0 3.3 0a1.65 1.65 0 1 0 -3.3 0M245.8 65.0a1.65 1.65 0 1 0 3.3 0a1.65 1.65 0 1 0 -3.3 0M245.8 64.3a1.65 1.65 0 1 0 3.3 0a1.65 1.65 0 1 0 -3.3 0M245.8 63.5a1.65 1.65 0 1 0 3.3 0a1.65 1.65 0 1 0 -3.3 0M245.8 62.7a1.65 1.65 0 1 0 3.3 0a1.65 1.65 0 1 0 -3.3 0M245.8 61.9a1.65 1.65 0 1 0 3.3 0a1.65 1.65 0 1 0 -3.3 0M245.8 61.1a1.65 1.65 0 1 0 3.3 0a1.65 1.65 0 1 0 -3.3 0M245.8 60.4a1.65 1.65 0 1 0 3.3 0a1.65 1.65 0 1 0 -3.3 0M245.8 59.6a1.65 1.65 0 1 0 3.3 0a1.65 1.65 0 1 0 -3.3 0M245.8 58.8a1.65 1.65 0 1 0 3.3 0a1.65 1.65 0 1 0 -3.3 0M245.8 58.0a1.65 1.65 0 1 0 3.3 0a1.65 1.65 0 1 0 -3.3 0M245.8 57.2a1.65 1.65 0 1 0 3.3 0a1.65 1.65 0 1 0 -3.3 0M245.8 56.5a1.65 1.65 0 1 0 3.3 0a1.65 1.65 0 1 0 -3.3 0M245.8 55.7a1.65 1.65 0 1 0 3.3 0a1.65 1.65 0 1 0 -3.3 0M245.8 54.9a1.65 1.65 0 1 0 3.3 0a1.65 1.65 0 1 0 -3.3 0M245.8 54.1a1.65 1.65 0 1 0 3.3 0a1.65 1.65 0 1 0 -3.3 0M255.1 91.3a1.65 1.65 0 1 0 3.3 0a1.65 1.65 0 1 0 -3.3 0M255.1 91.9a1.65 1.65 0 1 0 3.3 0a1.65 1.65 0 1 0 -3.3 0M255.1 82.4a1.65 1.65 0 1 0 3.3 0a1.65 1.65 0 1 0 -3.3 0M255.1 81.6a1.65 1.65 0 1 0 3.3 0a1.65 1.65 0 1 0 -3.3 0M255.1 80.9a1.65 1.65 0 1 0 3.3 0a1.65 1.65 0 1 0 -3.3 0M255.1 80.1a1.65 1.65 0 1 0 3.3 0a1.65 1.65 0 1 0 -3.3 0M255.1 79.3a1.65 1.65 0 1 0 3.3 0a1.65 1.65 0 1 0 -3.3 0M255.1 78.6a1.65 1.65 0 1 0 3.3 0a1.65 1.65 0 1 0 -3.3 0M255.1 77.8a1.65 1.65 0 1 0 3.3 0a1.65 1.65 0 1 0 -3.3 0M255.1 77.0a1.65 1.65 0 1 0 3.3 0a1.65 1.65 0 1 0 -3.3 0M255.1 76.2a1.65 1.65 0 1 0 3.3 0a1.65 1.65 0 1 0 -3.3 0M255.1 75.5a1.65 1.65 0 1 0 3.3 0a1.65 1.65 0 1 0 -3.3 0M255.1 74.7a1.65 1.65 0 1 0 3.3 0a1.65 1.65 0 1 0 -3.3 0M255.1 73.9a1.65 1.65 0 1 0 3.3 0a1.65 1.65 0 1 0 -3.3 0M255.1 73.2a1.65 1.65 0 1 0 3.3 0a1.65 1.65 0 1 0 -3.3 0M255.1 72.4a1.65 1.65 0 1 0 3.3 0a1.65 1.65 0 1 0 -3.3 0M255.1 71.6a1.65 1.65 0 1 0 3.3 0a1.65 1.65 0 1 0 -3.3 0M255.1 70.9a1.65 1.65 0 1 0 3.3 0a1.65 1.65 0 1 0 -3.3 0M255.1 70.1a1.65 1.65 0 1 0 3.3 0a1.65 1.65 0 1 0 -3.3 0M255.1 69.3a1.65 1.65 0 1 0 3.3 0a1.65 1.65 0 1 0 -3.3 0M255.1 68.5a1.65 1.65 0 1 0 3.3 0a1.65 1.65 0 1 0 -3.3 0M255.1 67.8a1.65 1.65 0 1 0 3.3 0a1.65 1.65 0 1 0 -3.3 0M255.1 67.0a1.65 1.65 0 1 0 3.3 0a1.65 1.65 0 1 0 -3.3 0M255.1 66.2a1.65 1.65 0 1 0 3.3 0a1.65 1.65 0 1 0 -3.3 0M255.1 65.5a1.65 1.65 0 1 0 3.3 0a1.65 1.65 0 1 0 -3.3 0M255.1 64.7a1.65 1.65 0 1 0 3.3 0a1.65 1.65 0 1 0 -3.3 0M255.1 63.9a1.65 1.65 0 1 0 3.3 0a1.65 1.65 0 1 0 -3.3 0M255.1 63.1a1.65 1.65 0 1 0 3.3 0a1.65 1.65 0 1 0 -3.3 0M255.1 62.4a1.65 1.65 0 1 0 3.3 0a1.65 1.65 0 1 0 -3.3 0M255.1 61.6a1.65 1.65 0 1 0 3.3 0a1.65 1.65 0 1 0 -3.3 0M255.1 60.8a1.65 1.65 0 1 0 3.3 0a1.65 1.65 0 1 0 -3.3 0M255.1 60.1a1.65 1.65 0 1 0 3.3 0a1.65 1.65 0 1 0 -3.3 0M255.1 59.3a1.65 1.65 0 1 0 3.3 0a1.65 1.65 0 1 0 -3.3 0M255.1 58.5a1.65 1.65 0 1 0 3.3 0a1.65 1.65 0 1 0 -3.3 0M255.1 57.7a1.65 1.65 0 1 0 3.3 0a1.65 1.65 0 1 0 -3.3 0M255.1 57.0a1.65 1.65 0 1 0 3.3 0a1.65 1.65 0 1 0 -3.3 0M255.1 56.2a1.65 1.65 0 1 0 3.3 0a1.65 1.65 0 1 0 -3.3 0M255.1 55.4a1.65 1.65 0 1 0 3.3 0a1.65 1.65 0 1 0 -3.3 0M255.1 54.7a1.65 1.65 0 1 0 3.3 0a1.65 1.65 0 1 0 -3.3 0M255.1 53.9a1.65 1.65 0 1 0 3.3 0a1.65 1.65 0 1 0 -3.3 0M255.1 53.1a1.65 1.65 0 1 0 3.3 0a1.65 1.65 0 1 0 -3.3 0M255.1 52.3a1.65 1.65 0 1 0 3.3 0a1.65 1.65 0 1 0 -3.3 0M255.1 51.6a1.65 1.65 0 1 0 3.3 0a1.65 1.65 0 1 0 -3.3 0M255.1 50.8a1.65 1.65 0 1 0 3.3 0a1.65 1.65 0 1 0 -3.3 0M255.1 50.0a1.65 1.65 0 1 0 3.3 0a1.65 1.65 0 1 0 -3.3 0M255.1 49.3a1.65 1.65 0 1 0 3.3 0a1.65 1.65 0 1 0 -3.3 0M255.1 48.5a1.65 1.65 0 1 0 3.3 0a1.65 1.65 0 1 0 -3.3 0M264.4 75.6a1.65 1.65 0 1 0 3.3 0a1.65 1.65 0 1 0 -3.3 0M264.4 74.8a1.65 1.65 0 1 0 3.3 0a1.65 1.65 0 1 0 -3.3 0M264.4 74.0a1.65 1.65 0 1 0 3.3 0a1.65 1.65 0 1 0 -3.3 0M264.4 73.3a1.65 1.65 0 1 0 3.3 0a1.65 1.65 0 1 0 -3.3 0M264.4 72.5a1.65 1.65 0 1 0 3.3 0a1.65 1.65 0 1 0 -3.3 0M264.4 71.8a1.65 1.65 0 1 0 3.3 0a1.65 1.65 0 1 0 -3.3 0M264.4 71.0a1.65 1.65 0 1 0 3.3 0a1.65 1.65 0 1 0 -3.3 0M264.4 70.2a1.65 1.65 0 1 0 3.3 0a1.65 1.65 0 1 0 -3.3 0M264.4 69.5a1.65 1.65 0 1 0 3.3 0a1.65 1.65 0 1 0 -3.3 0M264.4 68.7a1.65 1.65 0 1 0 3.3 0a1.65 1.65 0 1 0 -3.3 0M264.4 67.9a1.65 1.65 0 1 0 3.3 0a1.65 1.65 0 1 0 -3.3 0M264.4 67.2a1.65 1.65 0 1 0 3.3 0a1.65 1.65 0 1 0 -3.3 0M264.4 66.4a1.65 1.65 0 1 0 3.3 0a1.65 1.65 0 1 0 -3.3 0M264.4 65.6a1.65 1.65 0 1 0 3.3 0a1.65 1.65 0 1 0 -3.3 0M264.4 64.9a1.65 1.65 0 1 0 3.3 0a1.65 1.65 0 1 0 -3.3 0M264.4 64.1a1.65 1.65 0 1 0 3.3 0a1.65 1.65 0 1 0 -3.3 0M264.4 63.3a1.65 1.65 0 1 0 3.3 0a1.65 1.65 0 1 0 -3.3 0M264.4 62.6a1.65 1.65 0 1 0 3.3 0a1.65 1.65 0 1 0 -3.3 0M264.4 61.8a1.65 1.65 0 1 0 3.3 0a1.65 1.65 0 1 0 -3.3 0M264.4 61.1a1.65 1.65 0 1 0 3.3 0a1.65 1.65 0 1 0 -3.3 0M264.4 60.3a1.65 1.65 0 1 0 3.3 0a1.65 1.65 0 1 0 -3.3 0M264.4 59.5a1.65 1.65 0 1 0 3.3 0a1.65 1.65 0 1 0 -3.3 0M264.4 58.8a1.65 1.65 0 1 0 3.3 0a1.65 1.65 0 1 0 -3.3 0M264.4 58.0a1.65 1.65 0 1 0 3.3 0a1.65 1.65 0 1 0 -3.3 0M264.4 57.2a1.65 1.65 0 1 0 3.3 0a1.65 1.65 0 1 0 -3.3 0M264.4 56.5a1.65 1.65 0 1 0 3.3 0a1.65 1.65 0 1 0 -3.3 0M264.4 55.7a1.65 1.65 0 1 0 3.3 0a1.65 1.65 0 1 0 -3.3 0M264.4 54.9a1.65 1.65 0 1 0 3.3 0a1.65 1.65 0 1 0 -3.3 0M264.4 54.2a1.65 1.65 0 1 0 3.3 0a1.65 1.65 0 1 0 -3.3 0M264.4 53.4a1.65 1.65 0 1 0 3.3 0a1.65 1.65 0 1 0 -3.3 0M264.4 52.6a1.65 1.65 0 1 0 3.3 0a1.65 1.65 0 1 0 -3.3 0M264.4 51.9a1.65 1.65 0 1 0 3.3 0a1.65 1.65 0 1 0 -3.3 0M264.4 51.1a1.65 1.65 0 1 0 3.3 0a1.65 1.65 0 1 0 -3.3 0M264.4 50.4a1.65 1.65 0 1 0 3.3 0a1.65 1.65 0 1 0 -3.3 0M264.4 49.6a1.65 1.65 0 1 0 3.3 0a1.65 1.65 0 1 0 -3.3 0M264.4 48.8a1.65 1.65 0 1 0 3.3 0a1.65 1.65 0 1 0 -3.3 0M264.4 48.1a1.65 1.65 0 1 0 3.3 0a1.65 1.65 0 1 0 -3.3 0M264.4 47.3a1.65 1.65 0 1 0 3.3 0a1.65 1.65 0 1 0 -3.3 0M264.4 46.5a1.65 1.65 0 1 0 3.3 0a1.65 1.65 0 1 0 -3.3 0M264.4 45.8a1.65 1.65 0 1 0 3.3 0a1.65 1.65 0 1 0 -3.3 0M264.4 45.0a1.65 1.65 0 1 0 3.3 0a1.65 1.65 0 1 0 -3.3 0M264.4 44.2a1.65 1.65 0 1 0 3.3 0a1.65 1.65 0 1 0 -3.3 0M264.4 43.5a1.65 1.65 0 1 0 3.3 0a1.65 1.65 0 1 0 -3.3 0M264.4 42.7a1.65 1.65 0 1 0 3.3 0a1.65 1.65 0 1 0 -3.3 0M264.4 41.9a1.65 1.65 0 1 0 3.3 0a1.65 1.65 0 1 0 -3.3 0M264.4 41.2a1.65 1.65 0 1 0 3.3 0a1.65 1.65 0 1 0 -3.3 0M264.4 40.4a1.65 1.65 0 1 0 3.3 0a1.65 1.65 0 1 0 -3.3 0M264.4 39.7a1.65 1.65 0 1 0 3.3 0a1.65 1.65 0 1 0 -3.3 0M264.4 38.9a1.65 1.65 0 1 0 3.3 0a1.65 1.65 0 1 0 -3.3 0M264.4 38.1a1.65 1.65 0 1 0 3.3 0a1.65 1.65 0 1 0 -3.3 0M264.4 37.4a1.65 1.65 0 1 0 3.3 0a1.65 1.65 0 1 0 -3.3 0M264.4 36.6a1.65 1.65 0 1 0 3.3 0a1.65 1.65 0 1 0 -3.3 0M264.4 35.8a1.65 1.65 0 1 0 3.3 0a1.65 1.65 0 1 0 -3.3 0M264.4 35.1a1.65 1.65 0 1 0 3.3 0a1.65 1.65 0 1 0 -3.3 0M264.4 34.3a1.65 1.65 0 1 0 3.3 0a1.65 1.65 0 1 0 -3.3 0M264.4 33.5a1.65 1.65 0 1 0 3.3 0a1.65 1.65 0 1 0 -3.3 0M264.4 32.8a1.65 1.65 0 1 0 3.3 0a1.65 1.65 0 1 0 -3.3 0M264.4 32.0a1.65 1.65 0 1 0 3.3 0a1.65 1.65 0 1 0 -3.3 0M264.4 31.2a1.65 1.65 0 1 0 3.3 0a1.65 1.65 0 1 0 -3.3 0M264.4 30.5a1.65 1.65 0 1 0 3.3 0a1.65 1.65 0 1 0 -3.3 0M264.4 29.7a1.65 1.65 0 1 0 3.3 0a1.65 1.65 0 1 0 -3.3 0M273.6 64.8a1.65 1.65 0 1 0 3.3 0a1.65 1.65 0 1 0 -3.3 0M273.6 67.0a1.65 1.65 0 1 0 3.3 0a1.65 1.65 0 1 0 -3.3 0M273.6 72.5a1.65 1.65 0 1 0 3.3 0a1.65 1.65 0 1 0 -3.3 0M273.6 75.3a1.65 1.65 0 1 0 3.3 0a1.65 1.65 0 1 0 -3.3 0M273.6 57.1a1.65 1.65 0 1 0 3.3 0a1.65 1.65 0 1 0 -3.3 0M273.6 56.3a1.65 1.65 0 1 0 3.3 0a1.65 1.65 0 1 0 -3.3 0M273.6 55.5a1.65 1.65 0 1 0 3.3 0a1.65 1.65 0 1 0 -3.3 0M273.6 54.8a1.65 1.65 0 1 0 3.3 0a1.65 1.65 0 1 0 -3.3 0M273.6 54.0a1.65 1.65 0 1 0 3.3 0a1.65 1.65 0 1 0 -3.3 0M273.6 53.2a1.65 1.65 0 1 0 3.3 0a1.65 1.65 0 1 0 -3.3 0M273.6 52.5a1.65 1.65 0 1 0 3.3 0a1.65 1.65 0 1 0 -3.3 0M273.6 51.7a1.65 1.65 0 1 0 3.3 0a1.65 1.65 0 1 0 -3.3 0M273.6 50.9a1.65 1.65 0 1 0 3.3 0a1.65 1.65 0 1 0 -3.3 0M273.6 50.2a1.65 1.65 0 1 0 3.3 0a1.65 1.65 0 1 0 -3.3 0M273.6 49.4a1.65 1.65 0 1 0 3.3 0a1.65 1.65 0 1 0 -3.3 0M273.6 48.6a1.65 1.65 0 1 0 3.3 0a1.65 1.65 0 1 0 -3.3 0M273.6 47.9a1.65 1.65 0 1 0 3.3 0a1.65 1.65 0 1 0 -3.3 0M273.6 47.1a1.65 1.65 0 1 0 3.3 0a1.65 1.65 0 1 0 -3.3 0M273.6 46.3a1.65 1.65 0 1 0 3.3 0a1.65 1.65 0 1 0 -3.3 0M273.6 45.5a1.65 1.65 0 1 0 3.3 0a1.65 1.65 0 1 0 -3.3 0M273.6 44.8a1.65 1.65 0 1 0 3.3 0a1.65 1.65 0 1 0 -3.3 0M273.6 44.0a1.65 1.65 0 1 0 3.3 0a1.65 1.65 0 1 0 -3.3 0M273.6 43.2a1.65 1.65 0 1 0 3.3 0a1.65 1.65 0 1 0 -3.3 0M273.6 42.5a1.65 1.65 0 1 0 3.3 0a1.65 1.65 0 1 0 -3.3 0M273.6 41.7a1.65 1.65 0 1 0 3.3 0a1.65 1.65 0 1 0 -3.3 0M273.6 40.9a1.65 1.65 0 1 0 3.3 0a1.65 1.65 0 1 0 -3.3 0M273.6 40.2a1.65 1.65 0 1 0 3.3 0a1.65 1.65 0 1 0 -3.3 0M273.6 39.4a1.65 1.65 0 1 0 3.3 0a1.65 1.65 0 1 0 -3.3 0M273.6 38.6a1.65 1.65 0 1 0 3.3 0a1.65 1.65 0 1 0 -3.3 0M273.6 37.9a1.65 1.65 0 1 0 3.3 0a1.65 1.65 0 1 0 -3.3 0M273.6 37.1a1.65 1.65 0 1 0 3.3 0a1.65 1.65 0 1 0 -3.3 0M273.6 36.3a1.65 1.65 0 1 0 3.3 0a1.65 1.65 0 1 0 -3.3 0M273.6 35.6a1.65 1.65 0 1 0 3.3 0a1.65 1.65 0 1 0 -3.3 0M273.6 34.8a1.65 1.65 0 1 0 3.3 0a1.65 1.65 0 1 0 -3.3 0M273.6 34.0a1.65 1.65 0 1 0 3.3 0a1.65 1.65 0 1 0 -3.3 0M273.6 33.2a1.65 1.65 0 1 0 3.3 0a1.65 1.65 0 1 0 -3.3 0M273.6 32.5a1.65 1.65 0 1 0 3.3 0a1.65 1.65 0 1 0 -3.3 0M273.6 31.7a1.65 1.65 0 1 0 3.3 0a1.65 1.65 0 1 0 -3.3 0M273.6 30.9a1.65 1.65 0 1 0 3.3 0a1.65 1.65 0 1 0 -3.3 0M273.6 30.2a1.65 1.65 0 1 0 3.3 0a1.65 1.65 0 1 0 -3.3 0M273.6 29.4a1.65 1.65 0 1 0 3.3 0a1.65 1.65 0 1 0 -3.3 0M273.6 28.6a1.65 1.65 0 1 0 3.3 0a1.65 1.65 0 1 0 -3.3 0M273.6 27.9a1.65 1.65 0 1 0 3.3 0a1.65 1.65 0 1 0 -3.3 0M282.9 52.2a1.65 1.65 0 1 0 3.3 0a1.65 1.65 0 1 0 -3.3 0M282.9 55.9a1.65 1.65 0 1 0 3.3 0a1.65 1.65 0 1 0 -3.3 0M282.9 45.1a1.65 1.65 0 1 0 3.3 0a1.65 1.65 0 1 0 -3.3 0M282.9 44.3a1.65 1.65 0 1 0 3.3 0a1.65 1.65 0 1 0 -3.3 0M282.9 43.5a1.65 1.65 0 1 0 3.3 0a1.65 1.65 0 1 0 -3.3 0M282.9 42.7a1.65 1.65 0 1 0 3.3 0a1.65 1.65 0 1 0 -3.3 0M282.9 41.8a1.65 1.65 0 1 0 3.3 0a1.65 1.65 0 1 0 -3.3 0M282.9 41.0a1.65 1.65 0 1 0 3.3 0a1.65 1.65 0 1 0 -3.3 0M282.9 40.2a1.65 1.65 0 1 0 3.3 0a1.65 1.65 0 1 0 -3.3 0M282.9 39.4a1.65 1.65 0 1 0 3.3 0a1.65 1.65 0 1 0 -3.3 0M282.9 38.6a1.65 1.65 0 1 0 3.3 0a1.65 1.65 0 1 0 -3.3 0M282.9 37.8a1.65 1.65 0 1 0 3.3 0a1.65 1.65 0 1 0 -3.3 0M282.9 37.0a1.65 1.65 0 1 0 3.3 0a1.65 1.65 0 1 0 -3.3 0M282.9 36.2a1.65 1.65 0 1 0 3.3 0a1.65 1.65 0 1 0 -3.3 0M282.9 35.4a1.65 1.65 0 1 0 3.3 0a1.65 1.65 0 1 0 -3.3 0M282.9 34.6a1.65 1.65 0 1 0 3.3 0a1.65 1.65 0 1 0 -3.3 0M282.9 33.8a1.65 1.65 0 1 0 3.3 0a1.65 1.65 0 1 0 -3.3 0M282.9 33.0a1.65 1.65 0 1 0 3.3 0a1.65 1.65 0 1 0 -3.3 0M282.9 32.2a1.65 1.65 0 1 0 3.3 0a1.65 1.65 0 1 0 -3.3 0M282.9 31.4a1.65 1.65 0 1 0 3.3 0a1.65 1.65 0 1 0 -3.3 0M282.9 30.6a1.65 1.65 0 1 0 3.3 0a1.65 1.65 0 1 0 -3.3 0M282.9 29.8a1.65 1.65 0 1 0 3.3 0a1.65 1.65 0 1 0 -3.3 0M282.9 29.0a1.65 1.65 0 1 0 3.3 0a1.65 1.65 0 1 0 -3.3 0M282.9 28.2a1.65 1.65 0 1 0 3.3 0a1.65 1.65 0 1 0 -3.3 0M282.9 27.4a1.65 1.65 0 1 0 3.3 0a1.65 1.65 0 1 0 -3.3 0M282.9 26.6a1.65 1.65 0 1 0 3.3 0a1.65 1.65 0 1 0 -3.3 0M282.9 25.8a1.65 1.65 0 1 0 3.3 0a1.65 1.65 0 1 0 -3.3 0M282.9 25.0a1.65 1.65 0 1 0 3.3 0a1.65 1.65 0 1 0 -3.3 0M282.9 24.2a1.65 1.65 0 1 0 3.3 0a1.65 1.65 0 1 0 -3.3 0" stroke="#0000ff" stroke-width="0.8" fill="none"/>
<path d="M34.5 281.5L312.3 4.100000000000023" stroke="#200000" stroke-width="1.7" stroke-opacity="0.8" fill="none"/>
<path d="M34.5 281.5L312.3 4.100000000000023" stroke="#d81420" stroke-width="0.95" fill="none"/>
<text x="170" y="310.6" font-size="10.8" text-anchor="middle" fill="#222" font-family="Liberation Sans, sans-serif">RR<tspan font-size="7.2" dy="2.2">cap</tspan><tspan dy="-2.2"> (bpm)</tspan></text>
<text transform="translate(10.4,119.4) rotate(-90)" font-size="12.3" text-anchor="middle" fill="#111" font-family="Liberation Sans, sans-serif">RR<tspan font-size="8.6" dy="2.6">depth</tspan><tspan dy="-2.6"> (bpm)</tspan></text>
<text x="6.5" y="305.2" font-size="15" font-weight="bold" fill="#000" font-family="Liberation Sans, sans-serif">(a)</text>
<path d="M395.36 3.6V284.5M424.95 3.6V284.5M454.55 3.6V284.5M484.15 3.6V284.5M513.75 3.6V284.5M543.34 3.6V284.5M572.94 3.6V284.5M602.54 3.6V284.5M632.14 3.6V284.5M661.73 3.6V284.5M366.5 249.39H682.6M366.5 214.27H682.6M366.5 179.16H682.6M366.5 144.05H682.6M366.5 108.94H682.6M366.5 73.82H682.6M366.5 38.71H682.6" stroke="#ebebeb" stroke-width="1" fill="none"/>
<clipPath id="cb"><rect x="366.5" y="3.6" width="316.1" height="280.9"/></clipPath>
<path d="M367.0 121.5H682.6" stroke="#3c3c3c" stroke-width="1" stroke-dasharray="1 1" fill="none"/>
<path d="M367.0 143.5H682.6" stroke="#3c3c3c" stroke-width="1" stroke-dasharray="1 1" fill="none"/>
<path d="M367.0 166.5H682.6" stroke="#3c3c3c" stroke-width="1" stroke-dasharray="1 1" fill="none"/>
<path clip-path="url(#cb)" d="M365.2 141.0l2.6 2.6m0 -2.6l-2.6 2.6M365.9 139.2l2.6 2.6m0 -2.6l-2.6 2.6M366.7 137.5l2.6 2.6m0 -2.6l-2.6 2.6M386.7 125.2l2.6 2.6m0 -2.6l-2.6 2.6M372.5 158.9l2.6 2.6m0 -2.6l-2.6 2.6M382.6 134.8l2.6 2.6m0 -2.6l-2.6 2.6M383.2 133.5l2.6 2.6m0 -2.6l-2.6 2.6M383.7 132.2l2.6 2.6m0 -2.6l-2.6 2.6M384.3 130.8l2.6 2.6m0 -2.6l-2.6 2.6M379.2 178.0l2.6 2.6m0 -2.6l-2.6 2.6M381.6 172.2l2.6 2.6m0 -2.6l-2.6 2.6M382.0 171.3l2.6 2.6m0 -2.6l-2.6 2.6M382.4 170.3l2.6 2.6m0 -2.6l-2.6 2.6M382.8 169.4l2.6 2.6m0 -2.6l-2.6 2.6M383.2 168.4l2.6 2.6m0 -2.6l-2.6 2.6M383.6 167.5l2.6 2.6m0 -2.6l-2.6 2.6M384.0 166.5l2.6 2.6m0 -2.6l-2.6 2.6M384.5 165.5l2.6 2.6m0 -2.6l-2.6 2.6M384.9 164.6l2.6 2.6m0 -2.6l-2.6 2.6M385.3 163.6l2.6 2.6m0 -2.6l-2.6 2.6M385.7 162.7l2.6 2.6m0 -2.6l-2.6 2.6M386.1 161.7l2.6 2.6m0 -2.6l-2.6 2.6M386.5 160.7l2.6 2.6m0 -2.6l-2.6 2.6M386.9 159.8l2.6 2.6m0 -2.6l-2.6 2.6M387.3 158.8l2.6 2.6m0 -2.6l-2.6 2.6M387.7 157.9l2.6 2.6m0 -2.6l-2.6 2.6M388.1 156.9l2.6 2.6m0 -2.6l-2.6 2.6M388.5 156.0l2.6 2.6m0 -2.6l-2.6 2.6M388.9 155.0l2.6 2.6m0 -2.6l-2.6 2.6M389.3 154.0l2.6 2.6m0 -2.6l-2.6 2.6M389.7 153.1l2.6 2.6m0 -2.6l-2.6 2.6M390.1 152.1l2.6 2.6m0 -2.6l-2.6 2.6M390.5 151.2l2.6 2.6m0 -2.6l-2.6 2.6M390.9 150.2l2.6 2.6m0 -2.6l-2.6 2.6M391.3 149.3l2.6 2.6m0 -2.6l-2.6 2.6M391.7 148.3l2.6 2.6m0 -2.6l-2.6 2.6M392.1 147.3l2.6 2.6m0 -2.6l-2.6 2.6M392.5 146.4l2.6 2.6m0 -2.6l-2.6 2.6M392.9 145.4l2.6 2.6m0 -2.6l-2.6 2.6M393.3 144.5l2.6 2.6m0 -2.6l-2.6 2.6M393.7 143.5l2.6 2.6m0 -2.6l-2.6 2.6M394.1 142.5l2.6 2.6m0 -2.6l-2.6 2.6M394.5 141.6l2.6 2.6m0 -2.6l-2.6 2.6M395.0 140.6l2.6 2.6m0 -2.6l-2.6 2.6M395.4 139.7l2.6 2.6m0 -2.6l-2.6 2.6M395.8 138.7l2.6 2.6m0 -2.6l-2.6 2.6M402.7 122.2l2.6 2.6m0 -2.6l-2.6 2.6M403.5 120.4l2.6 2.6m0 -2.6l-2.6 2.6M404.3 118.5l2.6 2.6m0 -2.6l-2.6 2.6M409.7 140.6l2.6 2.6m0 -2.6l-2.6 2.6M410.2 139.7l2.6 2.6m0 -2.6l-2.6 2.6M410.6 138.7l2.6 2.6m0 -2.6l-2.6 2.6M411.0 137.7l2.6 2.6m0 -2.6l-2.6 2.6M411.4 136.7l2.6 2.6m0 -2.6l-2.6 2.6M411.8 135.8l2.6 2.6m0 -2.6l-2.6 2.6M412.2 134.8l2.6 2.6m0 -2.6l-2.6 2.6M412.6 133.8l2.6 2.6m0 -2.6l-2.6 2.6M413.0 132.8l2.6 2.6m0 -2.6l-2.6 2.6M413.4 131.9l2.6 2.6m0 -2.6l-2.6 2.6M413.9 130.9l2.6 2.6m0 -2.6l-2.6 2.6M414.3 129.9l2.6 2.6m0 -2.6l-2.6 2.6M414.7 129.0l2.6 2.6m0 -2.6l-2.6 2.6M415.1 128.0l2.6 2.6m0 -2.6l-2.6 2.6M415.5 127.0l2.6 2.6m0 -2.6l-2.6 2.6M415.9 126.0l2.6 2.6m0 -2.6l-2.6 2.6M416.3 125.1l2.6 2.6m0 -2.6l-2.6 2.6M416.7 124.1l2.6 2.6m0 -2.6l-2.6 2.6M417.1 123.1l2.6 2.6m0 -2.6l-2.6 2.6M417.5 122.1l2.6 2.6m0 -2.6l-2.6 2.6M418.0 121.2l2.6 2.6m0 -2.6l-2.6 2.6M401.7 159.8l2.6 2.6m0 -2.6l-2.6 2.6M402.1 158.7l2.6 2.6m0 -2.6l-2.6 2.6M402.6 157.6l2.6 2.6m0 -2.6l-2.6 2.6M403.0 156.5l2.6 2.6m0 -2.6l-2.6 2.6M403.5 155.4l2.6 2.6m0 -2.6l-2.6 2.6M404.0 154.4l2.6 2.6m0 -2.6l-2.6 2.6M404.4 153.3l2.6 2.6m0 -2.6l-2.6 2.6M390.4 186.6l2.6 2.6m0 -2.6l-2.6 2.6M390.8 185.6l2.6 2.6m0 -2.6l-2.6 2.6M391.3 184.5l2.6 2.6m0 -2.6l-2.6 2.6M391.7 183.4l2.6 2.6m0 -2.6l-2.6 2.6M392.2 182.3l2.6 2.6m0 -2.6l-2.6 2.6M392.7 181.2l2.6 2.6m0 -2.6l-2.6 2.6M393.1 180.1l2.6 2.6m0 -2.6l-2.6 2.6M393.6 179.0l2.6 2.6m0 -2.6l-2.6 2.6M394.0 177.9l2.6 2.6m0 -2.6l-2.6 2.6M394.5 176.8l2.6 2.6m0 -2.6l-2.6 2.6M394.9 175.8l2.6 2.6m0 -2.6l-2.6 2.6M419.3 153.1l2.6 2.6m0 -2.6l-2.6 2.6M419.7 152.1l2.6 2.6m0 -2.6l-2.6 2.6M420.1 151.2l2.6 2.6m0 -2.6l-2.6 2.6M420.5 150.2l2.6 2.6m0 -2.6l-2.6 2.6M420.9 149.2l2.6 2.6m0 -2.6l-2.6 2.6M421.3 148.3l2.6 2.6m0 -2.6l-2.6 2.6M421.7 147.3l2.6 2.6m0 -2.6l-2.6 2.6M422.2 146.3l2.6 2.6m0 -2.6l-2.6 2.6M422.6 145.3l2.6 2.6m0 -2.6l-2.6 2.6M423.0 144.4l2.6 2.6m0 -2.6l-2.6 2.6M423.4 143.4l2.6 2.6m0 -2.6l-2.6 2.6M423.8 142.4l2.6 2.6m0 -2.6l-2.6 2.6M424.2 141.5l2.6 2.6m0 -2.6l-2.6 2.6M424.6 140.5l2.6 2.6m0 -2.6l-2.6 2.6M425.0 139.5l2.6 2.6m0 -2.6l-2.6 2.6M425.4 138.5l2.6 2.6m0 -2.6l-2.6 2.6M425.8 137.6l2.6 2.6m0 -2.6l-2.6 2.6M426.2 136.6l2.6 2.6m0 -2.6l-2.6 2.6M426.7 135.6l2.6 2.6m0 -2.6l-2.6 2.6M427.1 134.7l2.6 2.6m0 -2.6l-2.6 2.6M427.5 133.7l2.6 2.6m0 -2.6l-2.6 2.6M427.9 132.7l2.6 2.6m0 -2.6l-2.6 2.6M428.3 131.7l2.6 2.6m0 -2.6l-2.6 2.6M428.7 130.8l2.6 2.6m0 -2.6l-2.6 2.6M429.1 129.8l2.6 2.6m0 -2.6l-2.6 2.6M429.5 128.8l2.6 2.6m0 -2.6l-2.6 2.6M429.9 127.9l2.6 2.6m0 -2.6l-2.6 2.6M430.3 126.9l2.6 2.6m0 -2.6l-2.6 2.6M430.8 125.9l2.6 2.6m0 -2.6l-2.6 2.6M431.2 124.9l2.6 2.6m0 -2.6l-2.6 2.6M431.6 124.0l2.6 2.6m0 -2.6l-2.6 2.6M404.5 188.2l2.6 2.6m0 -2.6l-2.6 2.6M405.3 186.3l2.6 2.6m0 -2.6l-2.6 2.6M406.5 183.4l2.6 2.6m0 -2.6l-2.6 2.6M407.5 181.1l2.6 2.6m0 -2.6l-2.6 2.6M408.7 178.2l2.6 2.6m0 -2.6l-2.6 2.6M409.7 176.0l2.6 2.6m0 -2.6l-2.6 2.6M410.4 174.1l2.6 2.6m0 -2.6l-2.6 2.6M411.8 170.8l2.6 2.6m0 -2.6l-2.6 2.6M412.4 169.4l2.6 2.6m0 -2.6l-2.6 2.6M413.6 166.6l2.6 2.6m0 -2.6l-2.6 2.6M414.8 163.8l2.6 2.6m0 -2.6l-2.6 2.6M415.5 162.1l2.6 2.6m0 -2.6l-2.6 2.6M416.7 159.3l2.6 2.6m0 -2.6l-2.6 2.6M432.8 156.3l2.6 2.6m0 -2.6l-2.6 2.6M433.2 155.3l2.6 2.6m0 -2.6l-2.6 2.6M433.6 154.4l2.6 2.6m0 -2.6l-2.6 2.6M434.0 153.4l2.6 2.6m0 -2.6l-2.6 2.6M434.4 152.5l2.6 2.6m0 -2.6l-2.6 2.6M434.8 151.5l2.6 2.6m0 -2.6l-2.6 2.6M435.2 150.6l2.6 2.6m0 -2.6l-2.6 2.6M435.6 149.6l2.6 2.6m0 -2.6l-2.6 2.6M436.0 148.7l2.6 2.6m0 -2.6l-2.6 2.6M436.4 147.7l2.6 2.6m0 -2.6l-2.6 2.6M436.8 146.8l2.6 2.6m0 -2.6l-2.6 2.6M437.2 145.8l2.6 2.6m0 -2.6l-2.6 2.6M437.6 144.9l2.6 2.6m0 -2.6l-2.6 2.6M438.0 143.9l2.6 2.6m0 -2.6l-2.6 2.6M438.4 143.0l2.6 2.6m0 -2.6l-2.6 2.6M438.8 142.0l2.6 2.6m0 -2.6l-2.6 2.6M439.2 141.1l2.6 2.6m0 -2.6l-2.6 2.6M439.6 140.1l2.6 2.6m0 -2.6l-2.6 2.6M440.0 139.2l2.6 2.6m0 -2.6l-2.6 2.6M440.4 138.2l2.6 2.6m0 -2.6l-2.6 2.6M440.8 137.3l2.6 2.6m0 -2.6l-2.6 2.6M441.2 136.3l2.6 2.6m0 -2.6l-2.6 2.6M441.6 135.4l2.6 2.6m0 -2.6l-2.6 2.6M442.0 134.4l2.6 2.6m0 -2.6l-2.6 2.6M442.4 133.5l2.6 2.6m0 -2.6l-2.6 2.6M442.8 132.5l2.6 2.6m0 -2.6l-2.6 2.6M443.2 131.6l2.6 2.6m0 -2.6l-2.6 2.6M443.6 130.6l2.6 2.6m0 -2.6l-2.6 2.6M444.0 129.7l2.6 2.6m0 -2.6l-2.6 2.6M444.4 128.7l2.6 2.6m0 -2.6l-2.6 2.6M444.8 127.8l2.6 2.6m0 -2.6l-2.6 2.6M445.2 126.8l2.6 2.6m0 -2.6l-2.6 2.6M445.6 125.9l2.6 2.6m0 -2.6l-2.6 2.6M446.0 125.0l2.6 2.6m0 -2.6l-2.6 2.6M446.4 124.0l2.6 2.6m0 -2.6l-2.6 2.6M446.8 123.1l2.6 2.6m0 -2.6l-2.6 2.6M447.2 122.1l2.6 2.6m0 -2.6l-2.6 2.6M447.6 121.2l2.6 2.6m0 -2.6l-2.6 2.6M419.4 188.0l2.6 2.6m0 -2.6l-2.6 2.6M419.8 187.0l2.6 2.6m0 -2.6l-2.6 2.6M420.3 185.9l2.6 2.6m0 -2.6l-2.6 2.6M420.7 184.8l2.6 2.6m0 -2.6l-2.6 2.6M421.2 183.7l2.6 2.6m0 -2.6l-2.6 2.6M421.7 182.6l2.6 2.6m0 -2.6l-2.6 2.6M422.1 181.5l2.6 2.6m0 -2.6l-2.6 2.6M422.6 180.4l2.6 2.6m0 -2.6l-2.6 2.6M423.0 179.3l2.6 2.6m0 -2.6l-2.6 2.6M423.5 178.2l2.6 2.6m0 -2.6l-2.6 2.6M438.1 178.7l2.6 2.6m0 -2.6l-2.6 2.6M435.1 185.8l2.6 2.6m0 -2.6l-2.6 2.6M442.7 167.9l2.6 2.6m0 -2.6l-2.6 2.6M443.1 166.9l2.6 2.6m0 -2.6l-2.6 2.6M443.5 166.0l2.6 2.6m0 -2.6l-2.6 2.6M443.9 165.0l2.6 2.6m0 -2.6l-2.6 2.6M444.3 164.1l2.6 2.6m0 -2.6l-2.6 2.6M444.7 163.1l2.6 2.6m0 -2.6l-2.6 2.6M445.1 162.2l2.6 2.6m0 -2.6l-2.6 2.6M445.5 161.2l2.6 2.6m0 -2.6l-2.6 2.6M445.9 160.3l2.6 2.6m0 -2.6l-2.6 2.6M446.3 159.3l2.6 2.6m0 -2.6l-2.6 2.6M446.7 158.4l2.6 2.6m0 -2.6l-2.6 2.6M447.1 157.4l2.6 2.6m0 -2.6l-2.6 2.6M447.5 156.5l2.6 2.6m0 -2.6l-2.6 2.6M447.9 155.5l2.6 2.6m0 -2.6l-2.6 2.6M448.3 154.6l2.6 2.6m0 -2.6l-2.6 2.6M448.7 153.6l2.6 2.6m0 -2.6l-2.6 2.6M449.1 152.7l2.6 2.6m0 -2.6l-2.6 2.6M449.5 151.7l2.6 2.6m0 -2.6l-2.6 2.6M449.9 150.8l2.6 2.6m0 -2.6l-2.6 2.6M450.3 149.8l2.6 2.6m0 -2.6l-2.6 2.6M450.7 148.9l2.6 2.6m0 -2.6l-2.6 2.6M451.1 147.9l2.6 2.6m0 -2.6l-2.6 2.6M451.5 147.0l2.6 2.6m0 -2.6l-2.6 2.6M451.9 146.0l2.6 2.6m0 -2.6l-2.6 2.6M452.3 145.1l2.6 2.6m0 -2.6l-2.6 2.6M452.7 144.1l2.6 2.6m0 -2.6l-2.6 2.6M453.1 143.2l2.6 2.6m0 -2.6l-2.6 2.6M453.5 142.2l2.6 2.6m0 -2.6l-2.6 2.6M453.9 141.3l2.6 2.6m0 -2.6l-2.6 2.6M454.3 140.3l2.6 2.6m0 -2.6l-2.6 2.6M454.7 139.4l2.6 2.6m0 -2.6l-2.6 2.6M455.1 138.4l2.6 2.6m0 -2.6l-2.6 2.6M455.5 137.5l2.6 2.6m0 -2.6l-2.6 2.6M455.9 136.5l2.6 2.6m0 -2.6l-2.6 2.6M456.3 135.6l2.6 2.6m0 -2.6l-2.6 2.6M456.7 134.6l2.6 2.6m0 -2.6l-2.6 2.6M457.1 133.7l2.6 2.6m0 -2.6l-2.6 2.6M457.5 132.7l2.6 2.6m0 -2.6l-2.6 2.6M457.9 131.8l2.6 2.6m0 -2.6l-2.6 2.6M458.3 130.8l2.6 2.6m0 -2.6l-2.6 2.6M458.7 129.9l2.6 2.6m0 -2.6l-2.6 2.6M459.1 128.9l2.6 2.6m0 -2.6l-2.6 2.6M459.5 128.0l2.6 2.6m0 -2.6l-2.6 2.6M459.9 127.0l2.6 2.6m0 -2.6l-2.6 2.6M460.3 126.1l2.6 2.6m0 -2.6l-2.6 2.6M460.7 125.1l2.6 2.6m0 -2.6l-2.6 2.6M461.1 124.2l2.6 2.6m0 -2.6l-2.6 2.6M461.5 123.2l2.6 2.6m0 -2.6l-2.6 2.6M461.9 122.3l2.6 2.6m0 -2.6l-2.6 2.6M462.3 121.3l2.6 2.6m0 -2.6l-2.6 2.6M462.7 120.4l2.6 2.6m0 -2.6l-2.6 2.6M463.1 119.4l2.6 2.6m0 -2.6l-2.6 2.6M454.4 175.1l2.6 2.6m0 -2.6l-2.6 2.6M454.8 174.1l2.6 2.6m0 -2.6l-2.6 2.6M455.2 173.2l2.6 2.6m0 -2.6l-2.6 2.6M455.6 172.2l2.6 2.6m0 -2.6l-2.6 2.6M456.0 171.3l2.6 2.6m0 -2.6l-2.6 2.6M456.4 170.3l2.6 2.6m0 -2.6l-2.6 2.6M456.8 169.4l2.6 2.6m0 -2.6l-2.6 2.6M457.2 168.4l2.6 2.6m0 -2.6l-2.6 2.6M457.6 167.5l2.6 2.6m0 -2.6l-2.6 2.6M458.0 166.5l2.6 2.6m0 -2.6l-2.6 2.6M458.4 165.6l2.6 2.6m0 -2.6l-2.6 2.6M458.8 164.6l2.6 2.6m0 -2.6l-2.6 2.6M459.2 163.7l2.6 2.6m0 -2.6l-2.6 2.6M459.6 162.7l2.6 2.6m0 -2.6l-2.6 2.6M460.0 161.8l2.6 2.6m0 -2.6l-2.6 2.6M460.4 160.8l2.6 2.6m0 -2.6l-2.6 2.6M460.8 159.9l2.6 2.6m0 -2.6l-2.6 2.6M461.2 158.9l2.6 2.6m0 -2.6l-2.6 2.6M461.6 158.0l2.6 2.6m0 -2.6l-2.6 2.6M462.0 157.0l2.6 2.6m0 -2.6l-2.6 2.6M462.4 156.1l2.6 2.6m0 -2.6l-2.6 2.6M462.8 155.1l2.6 2.6m0 -2.6l-2.6 2.6M463.2 154.2l2.6 2.6m0 -2.6l-2.6 2.6M463.6 153.2l2.6 2.6m0 -2.6l-2.6 2.6M464.0 152.3l2.6 2.6m0 -2.6l-2.6 2.6M464.4 151.4l2.6 2.6m0 -2.6l-2.6 2.6M464.8 150.4l2.6 2.6m0 -2.6l-2.6 2.6M465.2 149.5l2.6 2.6m0 -2.6l-2.6 2.6M465.6 148.5l2.6 2.6m0 -2.6l-2.6 2.6M466.0 147.6l2.6 2.6m0 -2.6l-2.6 2.6M466.4 146.6l2.6 2.6m0 -2.6l-2.6 2.6M466.8 145.7l2.6 2.6m0 -2.6l-2.6 2.6M467.2 144.7l2.6 2.6m0 -2.6l-2.6 2.6M467.6 143.8l2.6 2.6m0 -2.6l-2.6 2.6M468.0 142.8l2.6 2.6m0 -2.6l-2.6 2.6M468.4 141.9l2.6 2.6m0 -2.6l-2.6 2.6M468.8 140.9l2.6 2.6m0 -2.6l-2.6 2.6M469.2 140.0l2.6 2.6m0 -2.6l-2.6 2.6M469.6 139.0l2.6 2.6m0 -2.6l-2.6 2.6M470.0 138.1l2.6 2.6m0 -2.6l-2.6 2.6M470.4 137.1l2.6 2.6m0 -2.6l-2.6 2.6M470.8 136.2l2.6 2.6m0 -2.6l-2.6 2.6M471.2 135.2l2.6 2.6m0 -2.6l-2.6 2.6M471.6 134.3l2.6 2.6m0 -2.6l-2.6 2.6M472.0 133.3l2.6 2.6m0 -2.6l-2.6 2.6M472.4 132.4l2.6 2.6m0 -2.6l-2.6 2.6M472.8 131.4l2.6 2.6m0 -2.6l-2.6 2.6M473.2 130.5l2.6 2.6m0 -2.6l-2.6 2.6M473.6 129.5l2.6 2.6m0 -2.6l-2.6 2.6M474.0 128.6l2.6 2.6m0 -2.6l-2.6 2.6M474.4 127.7l2.6 2.6m0 -2.6l-2.6 2.6M474.8 126.7l2.6 2.6m0 -2.6l-2.6 2.6M475.2 125.8l2.6 2.6m0 -2.6l-2.6 2.6M475.6 124.8l2.6 2.6m0 -2.6l-2.6 2.6M476.0 123.9l2.6 2.6m0 -2.6l-2.6 2.6M476.4 122.9l2.6 2.6m0 -2.6l-2.6 2.6M476.8 122.0l2.6 2.6m0 -2.6l-2.6 2.6M477.2 121.0l2.6 2.6m0 -2.6l-2.6 2.6M477.6 120.1l2.6 2.6m0 -2.6l-2.6 2.6M478.0 119.1l2.6 2.6m0 -2.6l-2.6 2.6M478.4 118.2l2.6 2.6m0 -2.6l-2.6 2.6M478.8 117.2l2.6 2.6m0 -2.6l-2.6 2.6M479.2 116.3l2.6 2.6m0 -2.6l-2.6 2.6M479.6 115.3l2.6 2.6m0 -2.6l-2.6 2.6M480.0 114.4l2.6 2.6m0 -2.6l-2.6 2.6M480.4 113.4l2.6 2.6m0 -2.6l-2.6 2.6M437.8 214.4l2.6 2.6m0 -2.6l-2.6 2.6M439.2 211.2l2.6 2.6m0 -2.6l-2.6 2.6M440.3 208.7l2.6 2.6m0 -2.6l-2.6 2.6M441.2 206.5l2.6 2.6m0 -2.6l-2.6 2.6M442.4 203.7l2.6 2.6m0 -2.6l-2.6 2.6M443.1 202.0l2.6 2.6m0 -2.6l-2.6 2.6M444.3 199.1l2.6 2.6m0 -2.6l-2.6 2.6M445.3 196.8l2.6 2.6m0 -2.6l-2.6 2.6M446.3 194.4l2.6 2.6m0 -2.6l-2.6 2.6M447.3 192.1l2.6 2.6m0 -2.6l-2.6 2.6M448.5 189.2l2.6 2.6m0 -2.6l-2.6 2.6M449.6 186.6l2.6 2.6m0 -2.6l-2.6 2.6M450.3 184.8l2.6 2.6m0 -2.6l-2.6 2.6M451.5 182.1l2.6 2.6m0 -2.6l-2.6 2.6M452.2 180.4l2.6 2.6m0 -2.6l-2.6 2.6M453.5 177.2l2.6 2.6m0 -2.6l-2.6 2.6M454.5 174.9l2.6 2.6m0 -2.6l-2.6 2.6M468.1 177.9l2.6 2.6m0 -2.6l-2.6 2.6M468.5 176.9l2.6 2.6m0 -2.6l-2.6 2.6M468.9 176.0l2.6 2.6m0 -2.6l-2.6 2.6M469.3 175.0l2.6 2.6m0 -2.6l-2.6 2.6M469.7 174.1l2.6 2.6m0 -2.6l-2.6 2.6M470.1 173.1l2.6 2.6m0 -2.6l-2.6 2.6M470.5 172.1l2.6 2.6m0 -2.6l-2.6 2.6M470.9 171.2l2.6 2.6m0 -2.6l-2.6 2.6M471.3 170.2l2.6 2.6m0 -2.6l-2.6 2.6M471.7 169.3l2.6 2.6m0 -2.6l-2.6 2.6M472.1 168.3l2.6 2.6m0 -2.6l-2.6 2.6M472.5 167.4l2.6 2.6m0 -2.6l-2.6 2.6M472.9 166.4l2.6 2.6m0 -2.6l-2.6 2.6M473.3 165.5l2.6 2.6m0 -2.6l-2.6 2.6M473.7 164.5l2.6 2.6m0 -2.6l-2.6 2.6M474.1 163.6l2.6 2.6m0 -2.6l-2.6 2.6M474.5 162.6l2.6 2.6m0 -2.6l-2.6 2.6M474.9 161.7l2.6 2.6m0 -2.6l-2.6 2.6M475.3 160.7l2.6 2.6m0 -2.6l-2.6 2.6M475.7 159.8l2.6 2.6m0 -2.6l-2.6 2.6M476.1 158.8l2.6 2.6m0 -2.6l-2.6 2.6M476.5 157.8l2.6 2.6m0 -2.6l-2.6 2.6M476.9 156.9l2.6 2.6m0 -2.6l-2.6 2.6M477.3 155.9l2.6 2.6m0 -2.6l-2.6 2.6M477.7 155.0l2.6 2.6m0 -2.6l-2.6 2.6M478.1 154.0l2.6 2.6m0 -2.6l-2.6 2.6M478.5 153.1l2.6 2.6m0 -2.6l-2.6 2.6M478.9 152.1l2.6 2.6m0 -2.6l-2.6 2.6M479.3 151.2l2.6 2.6m0 -2.6l-2.6 2.6M479.7 150.2l2.6 2.6m0 -2.6l-2.6 2.6M480.1 149.3l2.6 2.6m0 -2.6l-2.6 2.6M480.5 148.3l2.6 2.6m0 -2.6l-2.6 2.6M480.9 147.4l2.6 2.6m0 -2.6l-2.6 2.6M481.3 146.4l2.6 2.6m0 -2.6l-2.6 2.6M481.7 145.5l2.6 2.6m0 -2.6l-2.6 2.6M482.1 144.5l2.6 2.6m0 -2.6l-2.6 2.6M482.5 143.6l2.6 2.6m0 -2.6l-2.6 2.6M482.9 142.6l2.6 2.6m0 -2.6l-2.6 2.6M483.3 141.6l2.6 2.6m0 -2.6l-2.6 2.6M483.7 140.7l2.6 2.6m0 -2.6l-2.6 2.6M484.1 139.7l2.6 2.6m0 -2.6l-2.6 2.6M484.5 138.8l2.6 2.6m0 -2.6l-2.6 2.6M484.9 137.8l2.6 2.6m0 -2.6l-2.6 2.6M485.3 136.9l2.6 2.6m0 -2.6l-2.6 2.6M485.7 135.9l2.6 2.6m0 -2.6l-2.6 2.6M486.1 135.0l2.6 2.6m0 -2.6l-2.6 2.6M486.5 134.0l2.6 2.6m0 -2.6l-2.6 2.6M486.9 133.1l2.6 2.6m0 -2.6l-2.6 2.6M487.3 132.1l2.6 2.6m0 -2.6l-2.6 2.6M487.7 131.2l2.6 2.6m0 -2.6l-2.6 2.6M488.1 130.2l2.6 2.6m0 -2.6l-2.6 2.6M488.5 129.3l2.6 2.6m0 -2.6l-2.6 2.6M488.9 128.3l2.6 2.6m0 -2.6l-2.6 2.6M489.3 127.4l2.6 2.6m0 -2.6l-2.6 2.6M489.7 126.4l2.6 2.6m0 -2.6l-2.6 2.6M490.1 125.4l2.6 2.6m0 -2.6l-2.6 2.6M490.5 124.5l2.6 2.6m0 -2.6l-2.6 2.6M490.9 123.5l2.6 2.6m0 -2.6l-2.6 2.6M491.3 122.6l2.6 2.6m0 -2.6l-2.6 2.6M491.7 121.6l2.6 2.6m0 -2.6l-2.6 2.6M492.2 120.7l2.6 2.6m0 -2.6l-2.6 2.6M492.6 119.7l2.6 2.6m0 -2.6l-2.6 2.6M493.0 118.8l2.6 2.6m0 -2.6l-2.6 2.6M493.4 117.8l2.6 2.6m0 -2.6l-2.6 2.6M462.8 190.2l2.6 2.6m0 -2.6l-2.6 2.6M464.1 187.2l2.6 2.6m0 -2.6l-2.6 2.6M465.1 184.8l2.6 2.6m0 -2.6l-2.6 2.6M466.6 181.3l2.6 2.6m0 -2.6l-2.6 2.6M468.2 177.6l2.6 2.6m0 -2.6l-2.6 2.6M493.1 118.5l2.6 2.6m0 -2.6l-2.6 2.6M494.5 115.0l2.6 2.6m0 -2.6l-2.6 2.6M495.6 112.6l2.6 2.6m0 -2.6l-2.6 2.6M496.8 109.8l2.6 2.6m0 -2.6l-2.6 2.6M497.9 107.0l2.6 2.6m0 -2.6l-2.6 2.6M499.6 103.1l2.6 2.6m0 -2.6l-2.6 2.6M500.4 101.1l2.6 2.6m0 -2.6l-2.6 2.6M479.6 185.6l2.6 2.6m0 -2.6l-2.6 2.6M480.0 184.6l2.6 2.6m0 -2.6l-2.6 2.6M480.4 183.7l2.6 2.6m0 -2.6l-2.6 2.6M480.8 182.8l2.6 2.6m0 -2.6l-2.6 2.6M481.2 181.8l2.6 2.6m0 -2.6l-2.6 2.6M481.6 180.9l2.6 2.6m0 -2.6l-2.6 2.6M482.0 179.9l2.6 2.6m0 -2.6l-2.6 2.6M482.4 179.0l2.6 2.6m0 -2.6l-2.6 2.6M482.8 178.1l2.6 2.6m0 -2.6l-2.6 2.6M483.2 177.1l2.6 2.6m0 -2.6l-2.6 2.6M483.6 176.2l2.6 2.6m0 -2.6l-2.6 2.6M484.0 175.2l2.6 2.6m0 -2.6l-2.6 2.6M484.4 174.3l2.6 2.6m0 -2.6l-2.6 2.6M484.7 173.4l2.6 2.6m0 -2.6l-2.6 2.6M485.1 172.4l2.6 2.6m0 -2.6l-2.6 2.6M485.5 171.5l2.6 2.6m0 -2.6l-2.6 2.6M485.9 170.5l2.6 2.6m0 -2.6l-2.6 2.6M486.3 169.6l2.6 2.6m0 -2.6l-2.6 2.6M486.7 168.7l2.6 2.6m0 -2.6l-2.6 2.6M487.1 167.7l2.6 2.6m0 -2.6l-2.6 2.6M487.5 166.8l2.6 2.6m0 -2.6l-2.6 2.6M487.9 165.8l2.6 2.6m0 -2.6l-2.6 2.6M488.3 164.9l2.6 2.6m0 -2.6l-2.6 2.6M488.7 163.9l2.6 2.6m0 -2.6l-2.6 2.6M489.1 163.0l2.6 2.6m0 -2.6l-2.6 2.6M489.5 162.1l2.6 2.6m0 -2.6l-2.6 2.6M489.9 161.1l2.6 2.6m0 -2.6l-2.6 2.6M490.3 160.2l2.6 2.6m0 -2.6l-2.6 2.6M490.7 159.2l2.6 2.6m0 -2.6l-2.6 2.6M491.1 158.3l2.6 2.6m0 -2.6l-2.6 2.6M491.5 157.4l2.6 2.6m0 -2.6l-2.6 2.6M491.9 156.4l2.6 2.6m0 -2.6l-2.6 2.6M492.3 155.5l2.6 2.6m0 -2.6l-2.6 2.6M492.7 154.5l2.6 2.6m0 -2.6l-2.6 2.6M493.1 153.6l2.6 2.6m0 -2.6l-2.6 2.6M493.5 152.7l2.6 2.6m0 -2.6l-2.6 2.6M493.9 151.7l2.6 2.6m0 -2.6l-2.6 2.6M494.3 150.8l2.6 2.6m0 -2.6l-2.6 2.6M494.7 149.8l2.6 2.6m0 -2.6l-2.6 2.6M495.1 148.9l2.6 2.6m0 -2.6l-2.6 2.6M495.5 147.9l2.6 2.6m0 -2.6l-2.6 2.6M495.9 147.0l2.6 2.6m0 -2.6l-2.6 2.6M496.2 146.1l2.6 2.6m0 -2.6l-2.6 2.6M496.6 145.1l2.6 2.6m0 -2.6l-2.6 2.6M497.0 144.2l2.6 2.6m0 -2.6l-2.6 2.6M497.4 143.2l2.6 2.6m0 -2.6l-2.6 2.6M497.8 142.3l2.6 2.6m0 -2.6l-2.6 2.6M498.2 141.4l2.6 2.6m0 -2.6l-2.6 2.6M498.6 140.4l2.6 2.6m0 -2.6l-2.6 2.6M499.0 139.5l2.6 2.6m0 -2.6l-2.6 2.6M499.4 138.5l2.6 2.6m0 -2.6l-2.6 2.6M499.8 137.6l2.6 2.6m0 -2.6l-2.6 2.6M500.2 136.7l2.6 2.6m0 -2.6l-2.6 2.6M500.6 135.7l2.6 2.6m0 -2.6l-2.6 2.6M501.0 134.8l2.6 2.6m0 -2.6l-2.6 2.6M501.4 133.8l2.6 2.6m0 -2.6l-2.6 2.6M501.8 132.9l2.6 2.6m0 -2.6l-2.6 2.6M502.2 132.0l2.6 2.6m0 -2.6l-2.6 2.6M502.6 131.0l2.6 2.6m0 -2.6l-2.6 2.6M503.0 130.1l2.6 2.6m0 -2.6l-2.6 2.6M503.4 129.1l2.6 2.6m0 -2.6l-2.6 2.6M503.8 128.2l2.6 2.6m0 -2.6l-2.6 2.6M504.2 127.2l2.6 2.6m0 -2.6l-2.6 2.6M504.6 126.3l2.6 2.6m0 -2.6l-2.6 2.6M505.0 125.4l2.6 2.6m0 -2.6l-2.6 2.6M505.4 124.4l2.6 2.6m0 -2.6l-2.6 2.6M505.8 123.5l2.6 2.6m0 -2.6l-2.6 2.6M506.2 122.5l2.6 2.6m0 -2.6l-2.6 2.6M506.6 121.6l2.6 2.6m0 -2.6l-2.6 2.6M507.0 120.7l2.6 2.6m0 -2.6l-2.6 2.6M507.4 119.7l2.6 2.6m0 -2.6l-2.6 2.6M507.8 118.8l2.6 2.6m0 -2.6l-2.6 2.6M508.1 117.8l2.6 2.6m0 -2.6l-2.6 2.6M508.5 116.9l2.6 2.6m0 -2.6l-2.6 2.6M508.9 116.0l2.6 2.6m0 -2.6l-2.6 2.6M509.3 115.0l2.6 2.6m0 -2.6l-2.6 2.6M509.7 114.1l2.6 2.6m0 -2.6l-2.6 2.6M510.1 113.1l2.6 2.6m0 -2.6l-2.6 2.6M510.5 112.2l2.6 2.6m0 -2.6l-2.6 2.6M510.9 111.3l2.6 2.6m0 -2.6l-2.6 2.6M511.3 110.3l2.6 2.6m0 -2.6l-2.6 2.6M511.7 109.4l2.6 2.6m0 -2.6l-2.6 2.6M512.1 108.4l2.6 2.6m0 -2.6l-2.6 2.6M512.5 107.5l2.6 2.6m0 -2.6l-2.6 2.6M512.9 106.5l2.6 2.6m0 -2.6l-2.6 2.6M513.3 105.6l2.6 2.6m0 -2.6l-2.6 2.6M513.7 104.7l2.6 2.6m0 -2.6l-2.6 2.6M514.1 103.7l2.6 2.6m0 -2.6l-2.6 2.6M514.5 102.8l2.6 2.6m0 -2.6l-2.6 2.6M514.9 101.8l2.6 2.6m0 -2.6l-2.6 2.6M494.7 184.9l2.6 2.6m0 -2.6l-2.6 2.6M495.1 183.9l2.6 2.6m0 -2.6l-2.6 2.6M495.5 183.0l2.6 2.6m0 -2.6l-2.6 2.6M495.9 182.0l2.6 2.6m0 -2.6l-2.6 2.6M496.3 181.1l2.6 2.6m0 -2.6l-2.6 2.6M496.7 180.1l2.6 2.6m0 -2.6l-2.6 2.6M497.1 179.2l2.6 2.6m0 -2.6l-2.6 2.6M497.5 178.2l2.6 2.6m0 -2.6l-2.6 2.6M497.9 177.3l2.6 2.6m0 -2.6l-2.6 2.6M498.3 176.4l2.6 2.6m0 -2.6l-2.6 2.6M498.7 175.4l2.6 2.6m0 -2.6l-2.6 2.6M499.1 174.5l2.6 2.6m0 -2.6l-2.6 2.6M499.5 173.5l2.6 2.6m0 -2.6l-2.6 2.6M499.9 172.6l2.6 2.6m0 -2.6l-2.6 2.6M500.3 171.6l2.6 2.6m0 -2.6l-2.6 2.6M500.7 170.7l2.6 2.6m0 -2.6l-2.6 2.6M501.1 169.7l2.6 2.6m0 -2.6l-2.6 2.6M501.5 168.8l2.6 2.6m0 -2.6l-2.6 2.6M501.9 167.8l2.6 2.6m0 -2.6l-2.6 2.6M502.3 166.9l2.6 2.6m0 -2.6l-2.6 2.6M502.7 165.9l2.6 2.6m0 -2.6l-2.6 2.6M503.1 165.0l2.6 2.6m0 -2.6l-2.6 2.6M503.5 164.0l2.6 2.6m0 -2.6l-2.6 2.6M503.9 163.1l2.6 2.6m0 -2.6l-2.6 2.6M504.3 162.1l2.6 2.6m0 -2.6l-2.6 2.6M504.7 161.2l2.6 2.6m0 -2.6l-2.6 2.6M505.1 160.2l2.6 2.6m0 -2.6l-2.6 2.6M505.5 159.3l2.6 2.6m0 -2.6l-2.6 2.6M505.9 158.3l2.6 2.6m0 -2.6l-2.6 2.6M506.3 157.4l2.6 2.6m0 -2.6l-2.6 2.6M506.7 156.4l2.6 2.6m0 -2.6l-2.6 2.6M507.1 155.5l2.6 2.6m0 -2.6l-2.6 2.6M507.5 154.5l2.6 2.6m0 -2.6l-2.6 2.6M507.9 153.6l2.6 2.6m0 -2.6l-2.6 2.6M508.3 152.7l2.6 2.6m0 -2.6l-2.6 2.6M508.7 151.7l2.6 2.6m0 -2.6l-2.6 2.6M509.1 150.8l2.6 2.6m0 -2.6l-2.6 2.6M509.5 149.8l2.6 2.6m0 -2.6l-2.6 2.6M509.9 148.9l2.6 2.6m0 -2.6l-2.6 2.6M510.3 147.9l2.6 2.6m0 -2.6l-2.6 2.6M510.7 147.0l2.6 2.6m0 -2.6l-2.6 2.6M511.1 146.0l2.6 2.6m0 -2.6l-2.6 2.6M511.5 145.1l2.6 2.6m0 -2.6l-2.6 2.6M511.9 144.1l2.6 2.6m0 -2.6l-2.6 2.6M512.3 143.2l2.6 2.6m0 -2.6l-2.6 2.6M512.7 142.2l2.6 2.6m0 -2.6l-2.6 2.6M513.1 141.3l2.6 2.6m0 -2.6l-2.6 2.6M513.5 140.3l2.6 2.6m0 -2.6l-2.6 2.6M513.9 139.4l2.6 2.6m0 -2.6l-2.6 2.6M514.3 138.4l2.6 2.6m0 -2.6l-2.6 2.6M514.7 137.5l2.6 2.6m0 -2.6l-2.6 2.6M515.1 136.5l2.6 2.6m0 -2.6l-2.6 2.6M515.5 135.6l2.6 2.6m0 -2.6l-2.6 2.6M515.9 134.6l2.6 2.6m0 -2.6l-2.6 2.6M516.3 133.7l2.6 2.6m0 -2.6l-2.6 2.6M516.7 132.7l2.6 2.6m0 -2.6l-2.6 2.6M517.1 131.8l2.6 2.6m0 -2.6l-2.6 2.6M517.5 130.8l2.6 2.6m0 -2.6l-2.6 2.6M517.9 129.9l2.6 2.6m0 -2.6l-2.6 2.6M518.3 129.0l2.6 2.6m0 -2.6l-2.6 2.6M518.7 128.0l2.6 2.6m0 -2.6l-2.6 2.6M519.1 127.1l2.6 2.6m0 -2.6l-2.6 2.6M519.5 126.1l2.6 2.6m0 -2.6l-2.6 2.6M519.9 125.2l2.6 2.6m0 -2.6l-2.6 2.6M520.3 124.2l2.6 2.6m0 -2.6l-2.6 2.6M520.7 123.3l2.6 2.6m0 -2.6l-2.6 2.6M521.1 122.3l2.6 2.6m0 -2.6l-2.6 2.6M521.5 121.4l2.6 2.6m0 -2.6l-2.6 2.6M521.9 120.4l2.6 2.6m0 -2.6l-2.6 2.6M522.3 119.5l2.6 2.6m0 -2.6l-2.6 2.6M522.7 118.5l2.6 2.6m0 -2.6l-2.6 2.6M523.1 117.6l2.6 2.6m0 -2.6l-2.6 2.6M523.5 116.6l2.6 2.6m0 -2.6l-2.6 2.6M523.9 115.7l2.6 2.6m0 -2.6l-2.6 2.6M524.3 114.7l2.6 2.6m0 -2.6l-2.6 2.6M524.7 113.8l2.6 2.6m0 -2.6l-2.6 2.6M489.8 196.4l2.6 2.6m0 -2.6l-2.6 2.6M491.5 192.5l2.6 2.6m0 -2.6l-2.6 2.6M493.4 187.9l2.6 2.6m0 -2.6l-2.6 2.6M494.4 185.7l2.6 2.6m0 -2.6l-2.6 2.6M524.6 113.9l2.6 2.6m0 -2.6l-2.6 2.6M525.9 110.9l2.6 2.6m0 -2.6l-2.6 2.6M527.3 107.6l2.6 2.6m0 -2.6l-2.6 2.6M528.4 104.9l2.6 2.6m0 -2.6l-2.6 2.6M529.6 102.0l2.6 2.6m0 -2.6l-2.6 2.6M530.4 100.0l2.6 2.6m0 -2.6l-2.6 2.6M512.5 177.7l2.6 2.6m0 -2.6l-2.6 2.6M512.9 176.7l2.6 2.6m0 -2.6l-2.6 2.6M513.3 175.8l2.6 2.6m0 -2.6l-2.6 2.6M513.7 174.9l2.6 2.6m0 -2.6l-2.6 2.6M514.1 173.9l2.6 2.6m0 -2.6l-2.6 2.6M514.5 173.0l2.6 2.6m0 -2.6l-2.6 2.6M514.9 172.0l2.6 2.6m0 -2.6l-2.6 2.6M515.3 171.1l2.6 2.6m0 -2.6l-2.6 2.6M515.7 170.1l2.6 2.6m0 -2.6l-2.6 2.6M516.1 169.2l2.6 2.6m0 -2.6l-2.6 2.6M516.5 168.3l2.6 2.6m0 -2.6l-2.6 2.6M516.9 167.3l2.6 2.6m0 -2.6l-2.6 2.6M517.3 166.4l2.6 2.6m0 -2.6l-2.6 2.6M517.7 165.4l2.6 2.6m0 -2.6l-2.6 2.6M518.1 164.5l2.6 2.6m0 -2.6l-2.6 2.6M518.5 163.5l2.6 2.6m0 -2.6l-2.6 2.6M518.9 162.6l2.6 2.6m0 -2.6l-2.6 2.6M519.3 161.7l2.6 2.6m0 -2.6l-2.6 2.6M519.7 160.7l2.6 2.6m0 -2.6l-2.6 2.6M520.1 159.8l2.6 2.6m0 -2.6l-2.6 2.6M520.5 158.8l2.6 2.6m0 -2.6l-2.6 2.6M520.9 157.9l2.6 2.6m0 -2.6l-2.6 2.6M521.3 156.9l2.6 2.6m0 -2.6l-2.6 2.6M521.7 156.0l2.6 2.6m0 -2.6l-2.6 2.6M522.1 155.1l2.6 2.6m0 -2.6l-2.6 2.6M522.5 154.1l2.6 2.6m0 -2.6l-2.6 2.6M522.9 153.2l2.6 2.6m0 -2.6l-2.6 2.6M523.2 152.2l2.6 2.6m0 -2.6l-2.6 2.6M523.6 151.3l2.6 2.6m0 -2.6l-2.6 2.6M524.0 150.3l2.6 2.6m0 -2.6l-2.6 2.6M524.4 149.4l2.6 2.6m0 -2.6l-2.6 2.6M524.8 148.5l2.6 2.6m0 -2.6l-2.6 2.6M525.2 147.5l2.6 2.6m0 -2.6l-2.6 2.6M525.6 146.6l2.6 2.6m0 -2.6l-2.6 2.6M526.0 145.6l2.6 2.6m0 -2.6l-2.6 2.6M526.4 144.7l2.6 2.6m0 -2.6l-2.6 2.6M526.8 143.7l2.6 2.6m0 -2.6l-2.6 2.6M527.2 142.8l2.6 2.6m0 -2.6l-2.6 2.6M527.6 141.9l2.6 2.6m0 -2.6l-2.6 2.6M528.0 140.9l2.6 2.6m0 -2.6l-2.6 2.6M528.4 140.0l2.6 2.6m0 -2.6l-2.6 2.6M528.8 139.0l2.6 2.6m0 -2.6l-2.6 2.6M529.2 138.1l2.6 2.6m0 -2.6l-2.6 2.6M529.6 137.1l2.6 2.6m0 -2.6l-2.6 2.6M530.0 136.2l2.6 2.6m0 -2.6l-2.6 2.6M530.4 135.3l2.6 2.6m0 -2.6l-2.6 2.6M530.8 134.3l2.6 2.6m0 -2.6l-2.6 2.6M531.2 133.4l2.6 2.6m0 -2.6l-2.6 2.6M531.6 132.4l2.6 2.6m0 -2.6l-2.6 2.6M532.0 131.5l2.6 2.6m0 -2.6l-2.6 2.6M532.4 130.5l2.6 2.6m0 -2.6l-2.6 2.6M532.8 129.6l2.6 2.6m0 -2.6l-2.6 2.6M533.2 128.7l2.6 2.6m0 -2.6l-2.6 2.6M533.6 127.7l2.6 2.6m0 -2.6l-2.6 2.6M534.0 126.8l2.6 2.6m0 -2.6l-2.6 2.6M534.4 125.8l2.6 2.6m0 -2.6l-2.6 2.6M534.8 124.9l2.6 2.6m0 -2.6l-2.6 2.6M535.2 124.0l2.6 2.6m0 -2.6l-2.6 2.6M535.6 123.0l2.6 2.6m0 -2.6l-2.6 2.6M536.0 122.1l2.6 2.6m0 -2.6l-2.6 2.6M536.4 121.1l2.6 2.6m0 -2.6l-2.6 2.6M536.8 120.2l2.6 2.6m0 -2.6l-2.6 2.6M537.2 119.2l2.6 2.6m0 -2.6l-2.6 2.6M537.6 118.3l2.6 2.6m0 -2.6l-2.6 2.6M538.0 117.4l2.6 2.6m0 -2.6l-2.6 2.6M538.3 116.4l2.6 2.6m0 -2.6l-2.6 2.6M538.7 115.5l2.6 2.6m0 -2.6l-2.6 2.6M539.1 114.5l2.6 2.6m0 -2.6l-2.6 2.6M539.5 113.6l2.6 2.6m0 -2.6l-2.6 2.6M539.9 112.6l2.6 2.6m0 -2.6l-2.6 2.6M540.3 111.7l2.6 2.6m0 -2.6l-2.6 2.6M540.7 110.8l2.6 2.6m0 -2.6l-2.6 2.6M541.1 109.8l2.6 2.6m0 -2.6l-2.6 2.6M541.5 108.9l2.6 2.6m0 -2.6l-2.6 2.6M506.3 192.6l2.6 2.6m0 -2.6l-2.6 2.6M507.5 189.7l2.6 2.6m0 -2.6l-2.6 2.6M509.0 186.0l2.6 2.6m0 -2.6l-2.6 2.6M510.3 182.9l2.6 2.6m0 -2.6l-2.6 2.6M511.0 181.2l2.6 2.6m0 -2.6l-2.6 2.6M530.6 170.0l2.6 2.6m0 -2.6l-2.6 2.6M531.0 169.0l2.6 2.6m0 -2.6l-2.6 2.6M531.4 168.1l2.6 2.6m0 -2.6l-2.6 2.6M531.8 167.1l2.6 2.6m0 -2.6l-2.6 2.6M532.2 166.2l2.6 2.6m0 -2.6l-2.6 2.6M532.6 165.2l2.6 2.6m0 -2.6l-2.6 2.6M533.0 164.3l2.6 2.6m0 -2.6l-2.6 2.6M533.4 163.3l2.6 2.6m0 -2.6l-2.6 2.6M533.8 162.4l2.6 2.6m0 -2.6l-2.6 2.6M534.2 161.4l2.6 2.6m0 -2.6l-2.6 2.6M534.6 160.5l2.6 2.6m0 -2.6l-2.6 2.6M535.0 159.5l2.6 2.6m0 -2.6l-2.6 2.6M535.4 158.6l2.6 2.6m0 -2.6l-2.6 2.6M535.8 157.6l2.6 2.6m0 -2.6l-2.6 2.6M536.2 156.7l2.6 2.6m0 -2.6l-2.6 2.6M536.6 155.7l2.6 2.6m0 -2.6l-2.6 2.6M537.0 154.8l2.6 2.6m0 -2.6l-2.6 2.6M537.4 153.9l2.6 2.6m0 -2.6l-2.6 2.6M537.8 152.9l2.6 2.6m0 -2.6l-2.6 2.6M538.2 152.0l2.6 2.6m0 -2.6l-2.6 2.6M538.6 151.0l2.6 2.6m0 -2.6l-2.6 2.6M539.0 150.1l2.6 2.6m0 -2.6l-2.6 2.6M539.4 149.1l2.6 2.6m0 -2.6l-2.6 2.6M539.8 148.2l2.6 2.6m0 -2.6l-2.6 2.6M540.2 147.2l2.6 2.6m0 -2.6l-2.6 2.6M540.6 146.3l2.6 2.6m0 -2.6l-2.6 2.6M541.0 145.3l2.6 2.6m0 -2.6l-2.6 2.6M541.4 144.4l2.6 2.6m0 -2.6l-2.6 2.6M541.8 143.4l2.6 2.6m0 -2.6l-2.6 2.6M542.2 142.5l2.6 2.6m0 -2.6l-2.6 2.6M542.6 141.5l2.6 2.6m0 -2.6l-2.6 2.6M543.0 140.6l2.6 2.6m0 -2.6l-2.6 2.6M543.4 139.6l2.6 2.6m0 -2.6l-2.6 2.6M543.8 138.7l2.6 2.6m0 -2.6l-2.6 2.6M544.2 137.7l2.6 2.6m0 -2.6l-2.6 2.6M544.6 136.8l2.6 2.6m0 -2.6l-2.6 2.6M545.0 135.9l2.6 2.6m0 -2.6l-2.6 2.6M545.4 134.9l2.6 2.6m0 -2.6l-2.6 2.6M545.8 134.0l2.6 2.6m0 -2.6l-2.6 2.6M546.1 133.0l2.6 2.6m0 -2.6l-2.6 2.6M546.5 132.1l2.6 2.6m0 -2.6l-2.6 2.6M546.9 131.1l2.6 2.6m0 -2.6l-2.6 2.6M547.3 130.2l2.6 2.6m0 -2.6l-2.6 2.6M547.7 129.2l2.6 2.6m0 -2.6l-2.6 2.6M548.1 128.3l2.6 2.6m0 -2.6l-2.6 2.6M548.5 127.3l2.6 2.6m0 -2.6l-2.6 2.6M548.9 126.4l2.6 2.6m0 -2.6l-2.6 2.6M549.3 125.4l2.6 2.6m0 -2.6l-2.6 2.6M549.7 124.5l2.6 2.6m0 -2.6l-2.6 2.6M550.1 123.5l2.6 2.6m0 -2.6l-2.6 2.6M550.5 122.6l2.6 2.6m0 -2.6l-2.6 2.6M550.9 121.6l2.6 2.6m0 -2.6l-2.6 2.6M551.3 120.7l2.6 2.6m0 -2.6l-2.6 2.6M551.7 119.7l2.6 2.6m0 -2.6l-2.6 2.6M552.1 118.8l2.6 2.6m0 -2.6l-2.6 2.6M552.5 117.8l2.6 2.6m0 -2.6l-2.6 2.6M552.9 116.9l2.6 2.6m0 -2.6l-2.6 2.6M553.3 116.0l2.6 2.6m0 -2.6l-2.6 2.6M553.7 115.0l2.6 2.6m0 -2.6l-2.6 2.6M554.1 114.1l2.6 2.6m0 -2.6l-2.6 2.6M554.5 113.1l2.6 2.6m0 -2.6l-2.6 2.6M554.9 112.2l2.6 2.6m0 -2.6l-2.6 2.6M555.3 111.2l2.6 2.6m0 -2.6l-2.6 2.6M555.7 110.3l2.6 2.6m0 -2.6l-2.6 2.6M556.1 109.3l2.6 2.6m0 -2.6l-2.6 2.6M556.5 108.4l2.6 2.6m0 -2.6l-2.6 2.6M556.9 107.4l2.6 2.6m0 -2.6l-2.6 2.6M557.3 106.5l2.6 2.6m0 -2.6l-2.6 2.6M557.7 105.5l2.6 2.6m0 -2.6l-2.6 2.6M516.0 204.6l2.6 2.6m0 -2.6l-2.6 2.6M517.0 202.1l2.6 2.6m0 -2.6l-2.6 2.6M518.0 199.7l2.6 2.6m0 -2.6l-2.6 2.6M519.2 197.0l2.6 2.6m0 -2.6l-2.6 2.6M520.2 194.5l2.6 2.6m0 -2.6l-2.6 2.6M521.1 192.5l2.6 2.6m0 -2.6l-2.6 2.6M522.0 190.4l2.6 2.6m0 -2.6l-2.6 2.6M523.2 187.5l2.6 2.6m0 -2.6l-2.6 2.6M524.2 185.1l2.6 2.6m0 -2.6l-2.6 2.6M525.3 182.5l2.6 2.6m0 -2.6l-2.6 2.6M526.5 179.6l2.6 2.6m0 -2.6l-2.6 2.6M527.4 177.5l2.6 2.6m0 -2.6l-2.6 2.6M528.3 175.3l2.6 2.6m0 -2.6l-2.6 2.6M529.4 172.8l2.6 2.6m0 -2.6l-2.6 2.6M538.9 185.4l2.6 2.6m0 -2.6l-2.6 2.6M539.2 184.5l2.6 2.6m0 -2.6l-2.6 2.6M531.3 203.3l2.6 2.6m0 -2.6l-2.6 2.6M545.4 170.0l2.6 2.6m0 -2.6l-2.6 2.6M545.8 169.0l2.6 2.6m0 -2.6l-2.6 2.6M546.2 168.1l2.6 2.6m0 -2.6l-2.6 2.6M546.6 167.1l2.6 2.6m0 -2.6l-2.6 2.6M547.0 166.2l2.6 2.6m0 -2.6l-2.6 2.6M547.4 165.2l2.6 2.6m0 -2.6l-2.6 2.6M547.8 164.3l2.6 2.6m0 -2.6l-2.6 2.6M548.2 163.3l2.6 2.6m0 -2.6l-2.6 2.6M548.6 162.4l2.6 2.6m0 -2.6l-2.6 2.6M549.0 161.4l2.6 2.6m0 -2.6l-2.6 2.6M549.4 160.5l2.6 2.6m0 -2.6l-2.6 2.6M549.8 159.5l2.6 2.6m0 -2.6l-2.6 2.6M550.2 158.6l2.6 2.6m0 -2.6l-2.6 2.6M550.6 157.6l2.6 2.6m0 -2.6l-2.6 2.6M551.0 156.7l2.6 2.6m0 -2.6l-2.6 2.6M551.4 155.7l2.6 2.6m0 -2.6l-2.6 2.6M551.8 154.8l2.6 2.6m0 -2.6l-2.6 2.6M552.2 153.8l2.6 2.6m0 -2.6l-2.6 2.6M552.6 152.9l2.6 2.6m0 -2.6l-2.6 2.6M553.0 151.9l2.6 2.6m0 -2.6l-2.6 2.6M553.4 151.0l2.6 2.6m0 -2.6l-2.6 2.6M553.8 150.0l2.6 2.6m0 -2.6l-2.6 2.6M554.2 149.1l2.6 2.6m0 -2.6l-2.6 2.6M554.6 148.1l2.6 2.6m0 -2.6l-2.6 2.6M555.0 147.2l2.6 2.6m0 -2.6l-2.6 2.6M555.4 146.2l2.6 2.6m0 -2.6l-2.6 2.6M555.8 145.3l2.6 2.6m0 -2.6l-2.6 2.6M556.2 144.4l2.6 2.6m0 -2.6l-2.6 2.6M556.6 143.4l2.6 2.6m0 -2.6l-2.6 2.6M557.0 142.5l2.6 2.6m0 -2.6l-2.6 2.6M557.4 141.5l2.6 2.6m0 -2.6l-2.6 2.6M557.8 140.6l2.6 2.6m0 -2.6l-2.6 2.6M558.2 139.6l2.6 2.6m0 -2.6l-2.6 2.6M558.6 138.7l2.6 2.6m0 -2.6l-2.6 2.6M559.0 137.7l2.6 2.6m0 -2.6l-2.6 2.6M559.4 136.8l2.6 2.6m0 -2.6l-2.6 2.6M559.8 135.8l2.6 2.6m0 -2.6l-2.6 2.6M560.2 134.9l2.6 2.6m0 -2.6l-2.6 2.6M560.6 133.9l2.6 2.6m0 -2.6l-2.6 2.6M561.0 133.0l2.6 2.6m0 -2.6l-2.6 2.6M561.4 132.0l2.6 2.6m0 -2.6l-2.6 2.6M561.8 131.1l2.6 2.6m0 -2.6l-2.6 2.6M562.2 130.1l2.6 2.6m0 -2.6l-2.6 2.6M562.6 129.2l2.6 2.6m0 -2.6l-2.6 2.6M563.0 128.2l2.6 2.6m0 -2.6l-2.6 2.6M563.4 127.3l2.6 2.6m0 -2.6l-2.6 2.6M563.8 126.3l2.6 2.6m0 -2.6l-2.6 2.6M564.2 125.4l2.6 2.6m0 -2.6l-2.6 2.6M564.6 124.4l2.6 2.6m0 -2.6l-2.6 2.6M565.0 123.5l2.6 2.6m0 -2.6l-2.6 2.6M565.4 122.5l2.6 2.6m0 -2.6l-2.6 2.6M565.8 121.6l2.6 2.6m0 -2.6l-2.6 2.6M566.2 120.6l2.6 2.6m0 -2.6l-2.6 2.6M566.6 119.7l2.6 2.6m0 -2.6l-2.6 2.6M567.0 118.7l2.6 2.6m0 -2.6l-2.6 2.6M567.4 117.8l2.6 2.6m0 -2.6l-2.6 2.6M567.8 116.8l2.6 2.6m0 -2.6l-2.6 2.6M568.2 115.9l2.6 2.6m0 -2.6l-2.6 2.6M568.6 114.9l2.6 2.6m0 -2.6l-2.6 2.6M569.0 114.0l2.6 2.6m0 -2.6l-2.6 2.6M569.4 113.0l2.6 2.6m0 -2.6l-2.6 2.6M569.8 112.1l2.6 2.6m0 -2.6l-2.6 2.6M570.2 111.2l2.6 2.6m0 -2.6l-2.6 2.6M570.6 110.2l2.6 2.6m0 -2.6l-2.6 2.6M571.0 109.3l2.6 2.6m0 -2.6l-2.6 2.6M571.4 108.3l2.6 2.6m0 -2.6l-2.6 2.6M571.8 107.4l2.6 2.6m0 -2.6l-2.6 2.6M572.2 106.4l2.6 2.6m0 -2.6l-2.6 2.6M562.5 164.3l2.6 2.6m0 -2.6l-2.6 2.6M562.9 163.4l2.6 2.6m0 -2.6l-2.6 2.6M563.3 162.4l2.6 2.6m0 -2.6l-2.6 2.6M563.7 161.5l2.6 2.6m0 -2.6l-2.6 2.6M564.2 160.5l2.6 2.6m0 -2.6l-2.6 2.6M564.6 159.6l2.6 2.6m0 -2.6l-2.6 2.6M565.0 158.6l2.6 2.6m0 -2.6l-2.6 2.6M565.4 157.7l2.6 2.6m0 -2.6l-2.6 2.6M565.8 156.7l2.6 2.6m0 -2.6l-2.6 2.6M566.2 155.7l2.6 2.6m0 -2.6l-2.6 2.6M566.6 154.8l2.6 2.6m0 -2.6l-2.6 2.6M567.0 153.8l2.6 2.6m0 -2.6l-2.6 2.6M567.4 152.9l2.6 2.6m0 -2.6l-2.6 2.6M567.8 151.9l2.6 2.6m0 -2.6l-2.6 2.6M568.2 151.0l2.6 2.6m0 -2.6l-2.6 2.6M568.6 150.0l2.6 2.6m0 -2.6l-2.6 2.6M569.0 149.1l2.6 2.6m0 -2.6l-2.6 2.6M569.4 148.1l2.6 2.6m0 -2.6l-2.6 2.6M569.8 147.2l2.6 2.6m0 -2.6l-2.6 2.6M570.2 146.2l2.6 2.6m0 -2.6l-2.6 2.6M570.6 145.2l2.6 2.6m0 -2.6l-2.6 2.6M571.0 144.3l2.6 2.6m0 -2.6l-2.6 2.6M571.4 143.3l2.6 2.6m0 -2.6l-2.6 2.6M571.8 142.4l2.6 2.6m0 -2.6l-2.6 2.6M572.2 141.4l2.6 2.6m0 -2.6l-2.6 2.6M572.6 140.5l2.6 2.6m0 -2.6l-2.6 2.6M573.0 139.5l2.6 2.6m0 -2.6l-2.6 2.6M573.4 138.6l2.6 2.6m0 -2.6l-2.6 2.6M573.8 137.6l2.6 2.6m0 -2.6l-2.6 2.6M574.2 136.6l2.6 2.6m0 -2.6l-2.6 2.6M574.6 135.7l2.6 2.6m0 -2.6l-2.6 2.6M575.0 134.7l2.6 2.6m0 -2.6l-2.6 2.6M575.4 133.8l2.6 2.6m0 -2.6l-2.6 2.6M575.8 132.8l2.6 2.6m0 -2.6l-2.6 2.6M576.2 131.9l2.6 2.6m0 -2.6l-2.6 2.6M576.6 130.9l2.6 2.6m0 -2.6l-2.6 2.6M577.0 130.0l2.6 2.6m0 -2.6l-2.6 2.6M577.4 129.0l2.6 2.6m0 -2.6l-2.6 2.6M577.8 128.1l2.6 2.6m0 -2.6l-2.6 2.6M578.2 127.1l2.6 2.6m0 -2.6l-2.6 2.6M578.6 126.1l2.6 2.6m0 -2.6l-2.6 2.6M579.0 125.2l2.6 2.6m0 -2.6l-2.6 2.6M579.4 124.2l2.6 2.6m0 -2.6l-2.6 2.6M579.8 123.3l2.6 2.6m0 -2.6l-2.6 2.6M580.3 122.3l2.6 2.6m0 -2.6l-2.6 2.6M580.7 121.4l2.6 2.6m0 -2.6l-2.6 2.6M581.1 120.4l2.6 2.6m0 -2.6l-2.6 2.6M581.5 119.5l2.6 2.6m0 -2.6l-2.6 2.6M581.9 118.5l2.6 2.6m0 -2.6l-2.6 2.6M582.3 117.5l2.6 2.6m0 -2.6l-2.6 2.6M582.7 116.6l2.6 2.6m0 -2.6l-2.6 2.6M551.6 190.3l2.6 2.6m0 -2.6l-2.6 2.6M552.4 188.5l2.6 2.6m0 -2.6l-2.6 2.6M553.9 184.8l2.6 2.6m0 -2.6l-2.6 2.6M554.9 182.4l2.6 2.6m0 -2.6l-2.6 2.6M556.1 179.7l2.6 2.6m0 -2.6l-2.6 2.6M557.1 177.2l2.6 2.6m0 -2.6l-2.6 2.6M558.0 175.2l2.6 2.6m0 -2.6l-2.6 2.6M559.1 172.6l2.6 2.6m0 -2.6l-2.6 2.6M560.0 170.4l2.6 2.6m0 -2.6l-2.6 2.6M561.4 167.2l2.6 2.6m0 -2.6l-2.6 2.6M568.8 184.7l2.6 2.6m0 -2.6l-2.6 2.6M569.2 183.8l2.6 2.6m0 -2.6l-2.6 2.6M569.6 182.8l2.6 2.6m0 -2.6l-2.6 2.6M569.9 181.9l2.6 2.6m0 -2.6l-2.6 2.6M570.3 180.9l2.6 2.6m0 -2.6l-2.6 2.6M570.7 180.0l2.6 2.6m0 -2.6l-2.6 2.6M571.1 179.1l2.6 2.6m0 -2.6l-2.6 2.6M571.5 178.1l2.6 2.6m0 -2.6l-2.6 2.6M571.9 177.2l2.6 2.6m0 -2.6l-2.6 2.6M572.3 176.2l2.6 2.6m0 -2.6l-2.6 2.6M572.7 175.3l2.6 2.6m0 -2.6l-2.6 2.6M573.1 174.3l2.6 2.6m0 -2.6l-2.6 2.6M573.5 173.4l2.6 2.6m0 -2.6l-2.6 2.6M573.9 172.5l2.6 2.6m0 -2.6l-2.6 2.6M574.3 171.5l2.6 2.6m0 -2.6l-2.6 2.6M574.7 170.6l2.6 2.6m0 -2.6l-2.6 2.6M575.1 169.6l2.6 2.6m0 -2.6l-2.6 2.6M575.5 168.7l2.6 2.6m0 -2.6l-2.6 2.6M575.9 167.7l2.6 2.6m0 -2.6l-2.6 2.6M576.3 166.8l2.6 2.6m0 -2.6l-2.6 2.6M576.7 165.9l2.6 2.6m0 -2.6l-2.6 2.6M577.1 164.9l2.6 2.6m0 -2.6l-2.6 2.6M577.5 164.0l2.6 2.6m0 -2.6l-2.6 2.6M577.9 163.0l2.6 2.6m0 -2.6l-2.6 2.6M578.3 162.1l2.6 2.6m0 -2.6l-2.6 2.6M578.7 161.1l2.6 2.6m0 -2.6l-2.6 2.6M579.1 160.2l2.6 2.6m0 -2.6l-2.6 2.6M579.5 159.3l2.6 2.6m0 -2.6l-2.6 2.6M579.9 158.3l2.6 2.6m0 -2.6l-2.6 2.6M580.3 157.4l2.6 2.6m0 -2.6l-2.6 2.6M580.7 156.4l2.6 2.6m0 -2.6l-2.6 2.6M581.1 155.5l2.6 2.6m0 -2.6l-2.6 2.6M581.5 154.5l2.6 2.6m0 -2.6l-2.6 2.6M581.9 153.6l2.6 2.6m0 -2.6l-2.6 2.6M582.3 152.7l2.6 2.6m0 -2.6l-2.6 2.6M582.7 151.7l2.6 2.6m0 -2.6l-2.6 2.6M583.1 150.8l2.6 2.6m0 -2.6l-2.6 2.6M583.5 149.8l2.6 2.6m0 -2.6l-2.6 2.6M583.9 148.9l2.6 2.6m0 -2.6l-2.6 2.6M584.3 147.9l2.6 2.6m0 -2.6l-2.6 2.6M584.6 147.0l2.6 2.6m0 -2.6l-2.6 2.6M585.0 146.1l2.6 2.6m0 -2.6l-2.6 2.6M585.4 145.1l2.6 2.6m0 -2.6l-2.6 2.6M585.8 144.2l2.6 2.6m0 -2.6l-2.6 2.6M586.2 143.2l2.6 2.6m0 -2.6l-2.6 2.6M586.6 142.3l2.6 2.6m0 -2.6l-2.6 2.6M587.0 141.3l2.6 2.6m0 -2.6l-2.6 2.6M587.4 140.4l2.6 2.6m0 -2.6l-2.6 2.6M587.8 139.5l2.6 2.6m0 -2.6l-2.6 2.6M588.2 138.5l2.6 2.6m0 -2.6l-2.6 2.6M588.6 137.6l2.6 2.6m0 -2.6l-2.6 2.6M589.0 136.6l2.6 2.6m0 -2.6l-2.6 2.6M589.4 135.7l2.6 2.6m0 -2.6l-2.6 2.6M589.8 134.7l2.6 2.6m0 -2.6l-2.6 2.6M590.2 133.8l2.6 2.6m0 -2.6l-2.6 2.6M590.6 132.9l2.6 2.6m0 -2.6l-2.6 2.6M591.0 131.9l2.6 2.6m0 -2.6l-2.6 2.6M591.4 131.0l2.6 2.6m0 -2.6l-2.6 2.6M591.8 130.0l2.6 2.6m0 -2.6l-2.6 2.6M592.2 129.1l2.6 2.6m0 -2.6l-2.6 2.6M592.6 128.1l2.6 2.6m0 -2.6l-2.6 2.6M593.0 127.2l2.6 2.6m0 -2.6l-2.6 2.6M593.4 126.3l2.6 2.6m0 -2.6l-2.6 2.6M593.8 125.3l2.6 2.6m0 -2.6l-2.6 2.6M594.2 124.4l2.6 2.6m0 -2.6l-2.6 2.6M594.6 123.4l2.6 2.6m0 -2.6l-2.6 2.6M595.0 122.5l2.6 2.6m0 -2.6l-2.6 2.6M595.4 121.5l2.6 2.6m0 -2.6l-2.6 2.6M595.8 120.6l2.6 2.6m0 -2.6l-2.6 2.6M596.2 119.7l2.6 2.6m0 -2.6l-2.6 2.6M596.6 118.7l2.6 2.6m0 -2.6l-2.6 2.6M597.0 117.8l2.6 2.6m0 -2.6l-2.6 2.6M597.4 116.8l2.6 2.6m0 -2.6l-2.6 2.6M597.8 115.9l2.6 2.6m0 -2.6l-2.6 2.6M589.4 170.8l2.6 2.6m0 -2.6l-2.6 2.6M586.4 177.9l2.6 2.6m0 -2.6l-2.6 2.6M585.0 181.4l2.6 2.6m0 -2.6l-2.6 2.6M583.5 184.9l2.6 2.6m0 -2.6l-2.6 2.6M592.1 164.3l2.6 2.6m0 -2.6l-2.6 2.6M592.5 163.4l2.6 2.6m0 -2.6l-2.6 2.6M592.9 162.4l2.6 2.6m0 -2.6l-2.6 2.6M593.3 161.5l2.6 2.6m0 -2.6l-2.6 2.6M593.8 160.5l2.6 2.6m0 -2.6l-2.6 2.6M594.2 159.6l2.6 2.6m0 -2.6l-2.6 2.6M594.6 158.6l2.6 2.6m0 -2.6l-2.6 2.6M595.0 157.7l2.6 2.6m0 -2.6l-2.6 2.6M595.4 156.7l2.6 2.6m0 -2.6l-2.6 2.6M595.8 155.7l2.6 2.6m0 -2.6l-2.6 2.6M596.2 154.8l2.6 2.6m0 -2.6l-2.6 2.6M596.6 153.8l2.6 2.6m0 -2.6l-2.6 2.6M597.0 152.9l2.6 2.6m0 -2.6l-2.6 2.6M597.4 151.9l2.6 2.6m0 -2.6l-2.6 2.6M597.8 151.0l2.6 2.6m0 -2.6l-2.6 2.6M598.2 150.0l2.6 2.6m0 -2.6l-2.6 2.6M598.6 149.0l2.6 2.6m0 -2.6l-2.6 2.6M599.0 148.1l2.6 2.6m0 -2.6l-2.6 2.6M599.4 147.1l2.6 2.6m0 -2.6l-2.6 2.6M599.8 146.2l2.6 2.6m0 -2.6l-2.6 2.6M600.2 145.2l2.6 2.6m0 -2.6l-2.6 2.6M600.6 144.3l2.6 2.6m0 -2.6l-2.6 2.6M601.0 143.3l2.6 2.6m0 -2.6l-2.6 2.6M601.4 142.4l2.6 2.6m0 -2.6l-2.6 2.6M601.8 141.4l2.6 2.6m0 -2.6l-2.6 2.6M602.2 140.4l2.6 2.6m0 -2.6l-2.6 2.6M602.6 139.5l2.6 2.6m0 -2.6l-2.6 2.6M603.0 138.5l2.6 2.6m0 -2.6l-2.6 2.6M603.4 137.6l2.6 2.6m0 -2.6l-2.6 2.6M603.8 136.6l2.6 2.6m0 -2.6l-2.6 2.6M604.2 135.7l2.6 2.6m0 -2.6l-2.6 2.6M604.6 134.7l2.6 2.6m0 -2.6l-2.6 2.6M605.0 133.7l2.6 2.6m0 -2.6l-2.6 2.6M605.4 132.8l2.6 2.6m0 -2.6l-2.6 2.6M605.8 131.8l2.6 2.6m0 -2.6l-2.6 2.6M606.2 130.9l2.6 2.6m0 -2.6l-2.6 2.6M606.6 129.9l2.6 2.6m0 -2.6l-2.6 2.6M607.0 129.0l2.6 2.6m0 -2.6l-2.6 2.6M607.5 128.0l2.6 2.6m0 -2.6l-2.6 2.6M607.9 127.1l2.6 2.6m0 -2.6l-2.6 2.6M608.3 126.1l2.6 2.6m0 -2.6l-2.6 2.6M608.7 125.1l2.6 2.6m0 -2.6l-2.6 2.6M609.1 124.2l2.6 2.6m0 -2.6l-2.6 2.6M609.5 123.2l2.6 2.6m0 -2.6l-2.6 2.6M609.9 122.3l2.6 2.6m0 -2.6l-2.6 2.6M610.3 121.3l2.6 2.6m0 -2.6l-2.6 2.6M610.7 120.4l2.6 2.6m0 -2.6l-2.6 2.6M611.1 119.4l2.6 2.6m0 -2.6l-2.6 2.6M604.1 171.0l2.6 2.6m0 -2.6l-2.6 2.6M604.5 170.1l2.6 2.6m0 -2.6l-2.6 2.6M604.9 169.1l2.6 2.6m0 -2.6l-2.6 2.6M605.3 168.2l2.6 2.6m0 -2.6l-2.6 2.6M605.7 167.2l2.6 2.6m0 -2.6l-2.6 2.6M606.1 166.3l2.6 2.6m0 -2.6l-2.6 2.6M606.5 165.3l2.6 2.6m0 -2.6l-2.6 2.6M606.9 164.4l2.6 2.6m0 -2.6l-2.6 2.6M607.3 163.4l2.6 2.6m0 -2.6l-2.6 2.6M607.7 162.5l2.6 2.6m0 -2.6l-2.6 2.6M608.1 161.5l2.6 2.6m0 -2.6l-2.6 2.6M608.5 160.6l2.6 2.6m0 -2.6l-2.6 2.6M608.9 159.6l2.6 2.6m0 -2.6l-2.6 2.6M609.3 158.7l2.6 2.6m0 -2.6l-2.6 2.6M609.7 157.7l2.6 2.6m0 -2.6l-2.6 2.6M610.1 156.8l2.6 2.6m0 -2.6l-2.6 2.6M610.5 155.8l2.6 2.6m0 -2.6l-2.6 2.6M610.9 154.9l2.6 2.6m0 -2.6l-2.6 2.6M611.3 154.0l2.6 2.6m0 -2.6l-2.6 2.6M611.7 153.0l2.6 2.6m0 -2.6l-2.6 2.6M612.1 152.1l2.6 2.6m0 -2.6l-2.6 2.6M612.5 151.1l2.6 2.6m0 -2.6l-2.6 2.6M612.9 150.2l2.6 2.6m0 -2.6l-2.6 2.6M613.3 149.2l2.6 2.6m0 -2.6l-2.6 2.6M613.7 148.3l2.6 2.6m0 -2.6l-2.6 2.6M614.1 147.3l2.6 2.6m0 -2.6l-2.6 2.6M614.5 146.4l2.6 2.6m0 -2.6l-2.6 2.6M614.9 145.4l2.6 2.6m0 -2.6l-2.6 2.6M615.3 144.5l2.6 2.6m0 -2.6l-2.6 2.6M615.7 143.5l2.6 2.6m0 -2.6l-2.6 2.6M616.1 142.6l2.6 2.6m0 -2.6l-2.6 2.6M616.5 141.6l2.6 2.6m0 -2.6l-2.6 2.6M616.9 140.7l2.6 2.6m0 -2.6l-2.6 2.6M617.3 139.7l2.6 2.6m0 -2.6l-2.6 2.6M617.7 138.8l2.6 2.6m0 -2.6l-2.6 2.6M618.1 137.8l2.6 2.6m0 -2.6l-2.6 2.6M618.5 136.9l2.6 2.6m0 -2.6l-2.6 2.6M618.9 135.9l2.6 2.6m0 -2.6l-2.6 2.6M619.3 135.0l2.6 2.6m0 -2.6l-2.6 2.6M619.7 134.0l2.6 2.6m0 -2.6l-2.6 2.6M620.1 133.1l2.6 2.6m0 -2.6l-2.6 2.6M620.5 132.1l2.6 2.6m0 -2.6l-2.6 2.6M620.9 131.2l2.6 2.6m0 -2.6l-2.6 2.6M621.3 130.2l2.6 2.6m0 -2.6l-2.6 2.6M621.7 129.3l2.6 2.6m0 -2.6l-2.6 2.6M622.1 128.4l2.6 2.6m0 -2.6l-2.6 2.6M622.5 127.4l2.6 2.6m0 -2.6l-2.6 2.6M622.9 126.5l2.6 2.6m0 -2.6l-2.6 2.6M623.3 125.5l2.6 2.6m0 -2.6l-2.6 2.6M623.7 124.6l2.6 2.6m0 -2.6l-2.6 2.6M624.1 123.6l2.6 2.6m0 -2.6l-2.6 2.6M623.8 124.3l2.6 2.6m0 -2.6l-2.6 2.6M625.1 121.2l2.6 2.6m0 -2.6l-2.6 2.6M626.5 118.0l2.6 2.6m0 -2.6l-2.6 2.6M627.7 115.0l2.6 2.6m0 -2.6l-2.6 2.6M605.5 203.0l2.6 2.6m0 -2.6l-2.6 2.6M604.9 204.2l2.6 2.6m0 -2.6l-2.6 2.6M621.1 165.9l2.6 2.6m0 -2.6l-2.6 2.6M621.5 165.0l2.6 2.6m0 -2.6l-2.6 2.6M621.9 164.0l2.6 2.6m0 -2.6l-2.6 2.6M622.3 163.1l2.6 2.6m0 -2.6l-2.6 2.6M622.7 162.1l2.6 2.6m0 -2.6l-2.6 2.6M623.1 161.2l2.6 2.6m0 -2.6l-2.6 2.6M623.5 160.3l2.6 2.6m0 -2.6l-2.6 2.6M623.9 159.3l2.6 2.6m0 -2.6l-2.6 2.6M624.3 158.4l2.6 2.6m0 -2.6l-2.6 2.6M624.6 157.4l2.6 2.6m0 -2.6l-2.6 2.6M625.0 156.5l2.6 2.6m0 -2.6l-2.6 2.6M625.4 155.5l2.6 2.6m0 -2.6l-2.6 2.6M625.8 154.6l2.6 2.6m0 -2.6l-2.6 2.6M626.2 153.7l2.6 2.6m0 -2.6l-2.6 2.6M626.6 152.7l2.6 2.6m0 -2.6l-2.6 2.6M627.0 151.8l2.6 2.6m0 -2.6l-2.6 2.6M627.4 150.8l2.6 2.6m0 -2.6l-2.6 2.6M627.8 149.9l2.6 2.6m0 -2.6l-2.6 2.6M628.2 148.9l2.6 2.6m0 -2.6l-2.6 2.6M628.6 148.0l2.6 2.6m0 -2.6l-2.6 2.6M629.0 147.1l2.6 2.6m0 -2.6l-2.6 2.6M629.4 146.1l2.6 2.6m0 -2.6l-2.6 2.6M629.8 145.2l2.6 2.6m0 -2.6l-2.6 2.6M630.2 144.2l2.6 2.6m0 -2.6l-2.6 2.6M630.6 143.3l2.6 2.6m0 -2.6l-2.6 2.6M631.0 142.3l2.6 2.6m0 -2.6l-2.6 2.6M631.4 141.4l2.6 2.6m0 -2.6l-2.6 2.6M631.8 140.4l2.6 2.6m0 -2.6l-2.6 2.6M632.2 139.5l2.6 2.6m0 -2.6l-2.6 2.6M632.6 138.6l2.6 2.6m0 -2.6l-2.6 2.6M633.0 137.6l2.6 2.6m0 -2.6l-2.6 2.6M633.4 136.7l2.6 2.6m0 -2.6l-2.6 2.6M633.8 135.7l2.6 2.6m0 -2.6l-2.6 2.6M634.2 134.8l2.6 2.6m0 -2.6l-2.6 2.6M634.6 133.8l2.6 2.6m0 -2.6l-2.6 2.6M635.0 132.9l2.6 2.6m0 -2.6l-2.6 2.6M635.4 132.0l2.6 2.6m0 -2.6l-2.6 2.6M635.8 131.0l2.6 2.6m0 -2.6l-2.6 2.6M636.2 130.1l2.6 2.6m0 -2.6l-2.6 2.6M636.6 129.1l2.6 2.6m0 -2.6l-2.6 2.6M637.0 128.2l2.6 2.6m0 -2.6l-2.6 2.6M637.4 127.2l2.6 2.6m0 -2.6l-2.6 2.6M637.8 126.3l2.6 2.6m0 -2.6l-2.6 2.6M638.2 125.3l2.6 2.6m0 -2.6l-2.6 2.6M638.6 124.4l2.6 2.6m0 -2.6l-2.6 2.6M639.0 123.5l2.6 2.6m0 -2.6l-2.6 2.6M639.4 122.5l2.6 2.6m0 -2.6l-2.6 2.6M639.8 121.6l2.6 2.6m0 -2.6l-2.6 2.6M640.2 120.6l2.6 2.6m0 -2.6l-2.6 2.6M612.0 187.4l2.6 2.6m0 -2.6l-2.6 2.6M613.0 185.1l2.6 2.6m0 -2.6l-2.6 2.6M614.1 182.5l2.6 2.6m0 -2.6l-2.6 2.6M615.3 179.7l2.6 2.6m0 -2.6l-2.6 2.6M616.4 177.1l2.6 2.6m0 -2.6l-2.6 2.6M617.6 174.1l2.6 2.6m0 -2.6l-2.6 2.6M618.6 171.9l2.6 2.6m0 -2.6l-2.6 2.6M620.2 168.1l2.6 2.6m0 -2.6l-2.6 2.6M621.1 165.8l2.6 2.6m0 -2.6l-2.6 2.6M635.9 165.9l2.6 2.6m0 -2.6l-2.6 2.6M636.3 165.0l2.6 2.6m0 -2.6l-2.6 2.6M636.7 164.0l2.6 2.6m0 -2.6l-2.6 2.6M637.1 163.1l2.6 2.6m0 -2.6l-2.6 2.6M637.5 162.1l2.6 2.6m0 -2.6l-2.6 2.6M637.9 161.2l2.6 2.6m0 -2.6l-2.6 2.6M638.3 160.2l2.6 2.6m0 -2.6l-2.6 2.6M638.7 159.3l2.6 2.6m0 -2.6l-2.6 2.6M639.1 158.4l2.6 2.6m0 -2.6l-2.6 2.6M639.5 157.4l2.6 2.6m0 -2.6l-2.6 2.6M639.9 156.5l2.6 2.6m0 -2.6l-2.6 2.6M640.3 155.5l2.6 2.6m0 -2.6l-2.6 2.6M640.7 154.6l2.6 2.6m0 -2.6l-2.6 2.6M641.1 153.6l2.6 2.6m0 -2.6l-2.6 2.6M641.4 152.7l2.6 2.6m0 -2.6l-2.6 2.6M641.8 151.7l2.6 2.6m0 -2.6l-2.6 2.6M642.2 150.8l2.6 2.6m0 -2.6l-2.6 2.6M642.6 149.8l2.6 2.6m0 -2.6l-2.6 2.6M643.0 148.9l2.6 2.6m0 -2.6l-2.6 2.6M643.4 148.0l2.6 2.6m0 -2.6l-2.6 2.6M643.8 147.0l2.6 2.6m0 -2.6l-2.6 2.6M644.2 146.1l2.6 2.6m0 -2.6l-2.6 2.6M644.6 145.1l2.6 2.6m0 -2.6l-2.6 2.6M645.0 144.2l2.6 2.6m0 -2.6l-2.6 2.6M645.4 143.2l2.6 2.6m0 -2.6l-2.6 2.6M645.8 142.3l2.6 2.6m0 -2.6l-2.6 2.6M646.2 141.3l2.6 2.6m0 -2.6l-2.6 2.6M646.6 140.4l2.6 2.6m0 -2.6l-2.6 2.6M647.0 139.4l2.6 2.6m0 -2.6l-2.6 2.6M647.4 138.5l2.6 2.6m0 -2.6l-2.6 2.6M647.8 137.5l2.6 2.6m0 -2.6l-2.6 2.6M648.2 136.6l2.6 2.6m0 -2.6l-2.6 2.6M648.6 135.7l2.6 2.6m0 -2.6l-2.6 2.6M649.0 134.7l2.6 2.6m0 -2.6l-2.6 2.6M649.4 133.8l2.6 2.6m0 -2.6l-2.6 2.6M649.8 132.8l2.6 2.6m0 -2.6l-2.6 2.6M650.2 131.9l2.6 2.6m0 -2.6l-2.6 2.6M650.6 130.9l2.6 2.6m0 -2.6l-2.6 2.6M651.0 130.0l2.6 2.6m0 -2.6l-2.6 2.6M651.4 129.0l2.6 2.6m0 -2.6l-2.6 2.6M651.8 128.1l2.6 2.6m0 -2.6l-2.6 2.6M652.2 127.1l2.6 2.6m0 -2.6l-2.6 2.6M652.6 126.2l2.6 2.6m0 -2.6l-2.6 2.6M653.0 125.3l2.6 2.6m0 -2.6l-2.6 2.6M653.4 124.3l2.6 2.6m0 -2.6l-2.6 2.6M653.8 123.4l2.6 2.6m0 -2.6l-2.6 2.6M654.2 122.4l2.6 2.6m0 -2.6l-2.6 2.6M654.6 121.5l2.6 2.6m0 -2.6l-2.6 2.6M655.0 120.5l2.6 2.6m0 -2.6l-2.6 2.6M655.4 119.6l2.6 2.6m0 -2.6l-2.6 2.6M624.8 192.2l2.6 2.6m0 -2.6l-2.6 2.6M625.9 189.5l2.6 2.6m0 -2.6l-2.6 2.6M627.1 186.8l2.6 2.6m0 -2.6l-2.6 2.6M628.2 184.2l2.6 2.6m0 -2.6l-2.6 2.6M629.1 181.9l2.6 2.6m0 -2.6l-2.6 2.6M630.6 178.4l2.6 2.6m0 -2.6l-2.6 2.6M631.8 175.6l2.6 2.6m0 -2.6l-2.6 2.6M632.6 173.7l2.6 2.6m0 -2.6l-2.6 2.6M633.7 171.1l2.6 2.6m0 -2.6l-2.6 2.6M634.6 169.0l2.6 2.6m0 -2.6l-2.6 2.6M635.7 166.4l2.6 2.6m0 -2.6l-2.6 2.6M655.3 119.8l2.6 2.6m0 -2.6l-2.6 2.6M656.4 117.1l2.6 2.6m0 -2.6l-2.6 2.6M657.9 113.6l2.6 2.6m0 -2.6l-2.6 2.6M658.7 111.8l2.6 2.6m0 -2.6l-2.6 2.6M659.8 109.2l2.6 2.6m0 -2.6l-2.6 2.6M661.5 105.2l2.6 2.6m0 -2.6l-2.6 2.6M662.4 103.0l2.6 2.6m0 -2.6l-2.6 2.6M647.2 174.2l2.6 2.6m0 -2.6l-2.6 2.6M647.6 173.2l2.6 2.6m0 -2.6l-2.6 2.6M648.0 172.3l2.6 2.6m0 -2.6l-2.6 2.6M648.4 171.3l2.6 2.6m0 -2.6l-2.6 2.6M648.8 170.4l2.6 2.6m0 -2.6l-2.6 2.6M649.2 169.4l2.6 2.6m0 -2.6l-2.6 2.6M649.6 168.5l2.6 2.6m0 -2.6l-2.6 2.6M650.0 167.6l2.6 2.6m0 -2.6l-2.6 2.6M650.4 166.6l2.6 2.6m0 -2.6l-2.6 2.6M650.8 165.7l2.6 2.6m0 -2.6l-2.6 2.6M651.2 164.7l2.6 2.6m0 -2.6l-2.6 2.6M651.6 163.8l2.6 2.6m0 -2.6l-2.6 2.6M652.0 162.8l2.6 2.6m0 -2.6l-2.6 2.6M652.4 161.9l2.6 2.6m0 -2.6l-2.6 2.6M652.8 160.9l2.6 2.6m0 -2.6l-2.6 2.6M653.2 160.0l2.6 2.6m0 -2.6l-2.6 2.6M653.6 159.0l2.6 2.6m0 -2.6l-2.6 2.6M654.0 158.1l2.6 2.6m0 -2.6l-2.6 2.6M654.4 157.1l2.6 2.6m0 -2.6l-2.6 2.6M654.8 156.2l2.6 2.6m0 -2.6l-2.6 2.6M655.2 155.3l2.6 2.6m0 -2.6l-2.6 2.6M655.6 154.3l2.6 2.6m0 -2.6l-2.6 2.6M656.0 153.4l2.6 2.6m0 -2.6l-2.6 2.6M656.4 152.4l2.6 2.6m0 -2.6l-2.6 2.6M656.8 151.5l2.6 2.6m0 -2.6l-2.6 2.6M657.2 150.5l2.6 2.6m0 -2.6l-2.6 2.6M657.6 149.6l2.6 2.6m0 -2.6l-2.6 2.6M658.0 148.6l2.6 2.6m0 -2.6l-2.6 2.6M658.4 147.7l2.6 2.6m0 -2.6l-2.6 2.6M658.8 146.7l2.6 2.6m0 -2.6l-2.6 2.6M659.1 145.8l2.6 2.6m0 -2.6l-2.6 2.6M659.5 144.9l2.6 2.6m0 -2.6l-2.6 2.6M659.9 143.9l2.6 2.6m0 -2.6l-2.6 2.6M660.3 143.0l2.6 2.6m0 -2.6l-2.6 2.6M660.7 142.0l2.6 2.6m0 -2.6l-2.6 2.6M661.1 141.1l2.6 2.6m0 -2.6l-2.6 2.6M661.5 140.1l2.6 2.6m0 -2.6l-2.6 2.6M661.9 139.2l2.6 2.6m0 -2.6l-2.6 2.6M662.3 138.2l2.6 2.6m0 -2.6l-2.6 2.6M662.7 137.3l2.6 2.6m0 -2.6l-2.6 2.6M663.1 136.3l2.6 2.6m0 -2.6l-2.6 2.6M663.5 135.4l2.6 2.6m0 -2.6l-2.6 2.6M663.9 134.4l2.6 2.6m0 -2.6l-2.6 2.6M664.3 133.5l2.6 2.6m0 -2.6l-2.6 2.6M664.7 132.6l2.6 2.6m0 -2.6l-2.6 2.6M665.1 131.6l2.6 2.6m0 -2.6l-2.6 2.6M665.5 130.7l2.6 2.6m0 -2.6l-2.6 2.6M665.9 129.7l2.6 2.6m0 -2.6l-2.6 2.6M666.3 128.8l2.6 2.6m0 -2.6l-2.6 2.6M666.7 127.8l2.6 2.6m0 -2.6l-2.6 2.6M670.1 119.9l2.6 2.6m0 -2.6l-2.6 2.6M670.8 118.2l2.6 2.6m0 -2.6l-2.6 2.6M671.5 116.4l2.6 2.6m0 -2.6l-2.6 2.6M639.4 192.6l2.6 2.6m0 -2.6l-2.6 2.6M640.0 191.2l2.6 2.6m0 -2.6l-2.6 2.6M640.6 189.8l2.6 2.6m0 -2.6l-2.6 2.6M641.2 188.4l2.6 2.6m0 -2.6l-2.6 2.6M633.8 206.0l2.6 2.6m0 -2.6l-2.6 2.6M634.4 204.6l2.6 2.6m0 -2.6l-2.6 2.6M634.9 203.3l2.6 2.6m0 -2.6l-2.6 2.6M635.5 202.0l2.6 2.6m0 -2.6l-2.6 2.6M636.0 200.7l2.6 2.6m0 -2.6l-2.6 2.6M666.5 128.4l2.6 2.6m0 -2.6l-2.6 2.6M668.2 124.2l2.6 2.6m0 -2.6l-2.6 2.6M669.3 121.6l2.6 2.6m0 -2.6l-2.6 2.6M659.0 181.4l2.6 2.6m0 -2.6l-2.6 2.6M656.0 188.4l2.6 2.6m0 -2.6l-2.6 2.6M664.7 167.9l2.6 2.6m0 -2.6l-2.6 2.6M665.1 166.9l2.6 2.6m0 -2.6l-2.6 2.6M665.5 165.9l2.6 2.6m0 -2.6l-2.6 2.6M665.9 165.0l2.6 2.6m0 -2.6l-2.6 2.6M666.3 164.0l2.6 2.6m0 -2.6l-2.6 2.6M666.7 163.0l2.6 2.6m0 -2.6l-2.6 2.6M667.1 162.0l2.6 2.6m0 -2.6l-2.6 2.6M667.5 161.1l2.6 2.6m0 -2.6l-2.6 2.6M667.9 160.1l2.6 2.6m0 -2.6l-2.6 2.6M668.3 159.1l2.6 2.6m0 -2.6l-2.6 2.6M668.7 158.2l2.6 2.6m0 -2.6l-2.6 2.6M669.1 157.2l2.6 2.6m0 -2.6l-2.6 2.6M669.5 156.2l2.6 2.6m0 -2.6l-2.6 2.6M670.0 155.3l2.6 2.6m0 -2.6l-2.6 2.6M670.4 154.3l2.6 2.6m0 -2.6l-2.6 2.6M670.8 153.3l2.6 2.6m0 -2.6l-2.6 2.6M671.2 152.4l2.6 2.6m0 -2.6l-2.6 2.6M671.6 151.4l2.6 2.6m0 -2.6l-2.6 2.6M672.0 150.4l2.6 2.6m0 -2.6l-2.6 2.6M672.4 149.5l2.6 2.6m0 -2.6l-2.6 2.6M672.8 148.5l2.6 2.6m0 -2.6l-2.6 2.6M673.2 147.5l2.6 2.6m0 -2.6l-2.6 2.6M673.6 146.6l2.6 2.6m0 -2.6l-2.6 2.6M674.0 145.6l2.6 2.6m0 -2.6l-2.6 2.6M674.4 144.6l2.6 2.6m0 -2.6l-2.6 2.6M674.8 143.7l2.6 2.6m0 -2.6l-2.6 2.6M675.3 142.7l2.6 2.6m0 -2.6l-2.6 2.6M675.7 141.7l2.6 2.6m0 -2.6l-2.6 2.6M676.1 140.8l2.6 2.6m0 -2.6l-2.6 2.6M676.5 139.8l2.6 2.6m0 -2.6l-2.6 2.6M676.9 138.8l2.6 2.6m0 -2.6l-2.6 2.6M677.3 137.9l2.6 2.6m0 -2.6l-2.6 2.6M677.7 136.9l2.6 2.6m0 -2.6l-2.6 2.6M678.1 135.9l2.6 2.6m0 -2.6l-2.6 2.6M678.5 135.0l2.6 2.6m0 -2.6l-2.6 2.6M678.9 134.0l2.6 2.6m0 -2.6l-2.6 2.6M679.3 133.0l2.6 2.6m0 -2.6l-2.6 2.6M679.7 132.0l2.6 2.6m0 -2.6l-2.6 2.6M680.2 131.1l2.6 2.6m0 -2.6l-2.6 2.6M680.6 130.1l2.6 2.6m0 -2.6l-2.6 2.6M681.0 129.1l2.6 2.6m0 -2.6l-2.6 2.6M681.4 128.2l2.6 2.6m0 -2.6l-2.6 2.6" stroke="#0000ff" stroke-width="0.72" fill="none"/>
<path d="M366.5 3.6H682.6V284.5H366.5ZM395.36 284.5v-3M395.36 3.6v3M424.95 284.5v-3M424.95 3.6v3M454.55 284.5v-3M454.55 3.6v3M484.15 284.5v-3M484.15 3.6v3M513.75 284.5v-3M513.75 3.6v3M543.34 284.5v-3M543.34 3.6v3M572.94 284.5v-3M572.94 3.6v3M602.54 284.5v-3M602.54 3.6v3M632.14 284.5v-3M632.14 3.6v3M661.73 284.5v-3M661.73 3.6v3M366.5 284.50h3M682.6 284.50h-3M366.5 249.39h3M682.6 249.39h-3M366.5 214.27h3M682.6 214.27h-3M366.5 179.16h3M682.6 179.16h-3M366.5 144.05h3M682.6 144.05h-3M366.5 108.94h3M682.6 108.94h-3M366.5 73.82h3M682.6 73.82h-3M366.5 38.71h3M682.6 38.71h-3M366.5 3.60h3M682.6 3.60h-3" stroke="#555555" stroke-width="1" fill="none"/>
<text x="395.4" y="295.2" font-size="7.6" text-anchor="middle" fill="#4a4a4a" font-family="Liberation Sans, sans-serif">8</text>
<text x="425.0" y="295.2" font-size="7.6" text-anchor="middle" fill="#4a4a4a" font-family="Liberation Sans, sans-serif">10</text>
<text x="454.6" y="295.2" font-size="7.6" text-anchor="middle" fill="#4a4a4a" font-family="Liberation Sans, sans-serif">12</text>
<text x="484.1" y="295.2" font-size="7.6" text-anchor="middle" fill="#4a4a4a" font-family="Liberation Sans, sans-serif">14</text>
<text x="513.7" y="295.2" font-size="7.6" text-anchor="middle" fill="#4a4a4a" font-family="Liberation Sans, sans-serif">16</text>
<text x="543.3" y="295.2" font-size="7.6" text-anchor="middle" fill="#4a4a4a" font-family="Liberation Sans, sans-serif">18</text>
<text x="572.9" y="295.2" font-size="7.6" text-anchor="middle" fill="#4a4a4a" font-family="Liberation Sans, sans-serif">20</text>
<text x="602.5" y="295.2" font-size="7.6" text-anchor="middle" fill="#4a4a4a" font-family="Liberation Sans, sans-serif">22</text>
<text x="632.1" y="295.2" font-size="7.6" text-anchor="middle" fill="#4a4a4a" font-family="Liberation Sans, sans-serif">24</text>
<text x="661.7" y="295.2" font-size="7.6" text-anchor="middle" fill="#4a4a4a" font-family="Liberation Sans, sans-serif">26</text>
<text x="363.2" y="287.3" font-size="7.6" text-anchor="end" fill="#4a4a4a" font-family="Liberation Sans, sans-serif">-8</text>
<text x="363.2" y="252.2" font-size="7.6" text-anchor="end" fill="#4a4a4a" font-family="Liberation Sans, sans-serif">-6</text>
<text x="363.2" y="217.1" font-size="7.6" text-anchor="end" fill="#4a4a4a" font-family="Liberation Sans, sans-serif">-4</text>
<text x="363.2" y="182.0" font-size="7.6" text-anchor="end" fill="#4a4a4a" font-family="Liberation Sans, sans-serif">-2</text>
<text x="363.2" y="146.8" font-size="7.6" text-anchor="end" fill="#4a4a4a" font-family="Liberation Sans, sans-serif">0</text>
<text x="363.2" y="111.7" font-size="7.6" text-anchor="end" fill="#4a4a4a" font-family="Liberation Sans, sans-serif">2</text>
<text x="363.2" y="76.6" font-size="7.6" text-anchor="end" fill="#4a4a4a" font-family="Liberation Sans, sans-serif">4</text>
<text x="363.2" y="41.5" font-size="7.6" text-anchor="end" fill="#4a4a4a" font-family="Liberation Sans, sans-serif">6</text>
<text x="363.2" y="6.4" font-size="7.6" text-anchor="end" fill="#4a4a4a" font-family="Liberation Sans, sans-serif">8</text>
<text x="533.3" y="311.2" font-size="9.15" text-anchor="middle" fill="#222" font-family="Liberation Sans, sans-serif">(RR<tspan font-size="6" dy="1.8">depth</tspan><tspan dy="-1.8">+RR</tspan><tspan font-size="6" dy="1.8">cap</tspan><tspan dy="-1.8"> )/2 (bpm)</tspan></text>
<text transform="translate(347.6,141) rotate(-90)" font-size="9.2" text-anchor="middle" fill="#111" font-family="Liberation Sans, sans-serif">RR<tspan font-size="6" dy="1.8">depth</tspan><tspan dy="-1.8">-RR</tspan><tspan font-size="6" dy="1.8">cap</tspan><tspan dy="-1.8">  (bpm)</tspan></text>
<text x="344" y="306.6" font-size="15" font-weight="bold" fill="#000" font-family="Liberation Sans, sans-serif">(b)</text>
<g fill="#66aade" stroke="#1c2a3a" stroke-width="0.7"><rect x="198.57" y="545.67" width="4.67" height="1.33"/><rect x="203.25" y="543.67" width="4.67" height="3.33"/><rect x="207.92" y="545.33" width="4.67" height="1.67"/><rect x="212.60" y="544.00" width="4.67" height="3.00"/><rect x="217.27" y="536.67" width="4.67" height="10.33"/><rect x="221.95" y="526.67" width="4.67" height="20.33"/><rect x="226.62" y="481.00" width="4.67" height="66.00"/><rect x="231.30" y="435.00" width="4.67" height="112.00"/><rect x="235.97" y="413.33" width="4.67" height="133.67"/><rect x="240.65" y="413.33" width="4.67" height="133.67"/><rect x="245.32" y="382.67" width="4.67" height="164.33"/><rect x="250.00" y="385.33" width="4.67" height="161.67"/><rect x="254.67" y="344.83" width="4.67" height="202.17"/><rect x="259.35" y="404.67" width="4.67" height="142.33"/><rect x="264.02" y="430.67" width="4.67" height="116.33"/><rect x="268.70" y="473.67" width="4.67" height="73.33"/><rect x="273.38" y="456.83" width="4.67" height="90.17"/><rect x="278.05" y="467.17" width="4.67" height="79.83"/><rect x="282.72" y="495.33" width="4.67" height="51.67"/><rect x="287.40" y="516.67" width="4.67" height="30.33"/><rect x="292.07" y="510.50" width="4.67" height="36.50"/><rect x="296.75" y="527.00" width="4.67" height="20.00"/><rect x="301.42" y="540.33" width="4.67" height="6.67"/></g>
<path d="M174.0 335.4H322.2V547.0H174.0ZM175.20 547.0v-2.5M175.20 335.4v2.5M221.95 547.0v-2.5M221.95 335.4v2.5M268.70 547.0v-2.5M268.70 335.4v2.5M315.45 547.0v-2.5M315.45 335.4v2.5M174.0 547.00h2.5M322.2 547.00h-2.5M174.0 513.67h2.5M322.2 513.67h-2.5M174.0 480.33h2.5M322.2 480.33h-2.5M174.0 447.00h2.5M322.2 447.00h-2.5M174.0 413.67h2.5M322.2 413.67h-2.5M174.0 380.33h2.5M322.2 380.33h-2.5M174.0 347.00h2.5M322.2 347.00h-2.5" stroke="#555555" stroke-width="1" fill="none"/>
<text x="175.2" y="559.2" font-size="7.8" text-anchor="middle" fill="#4a4a4a" font-family="Liberation Sans, sans-serif">0</text>
<text x="221.9" y="559.2" font-size="7.8" text-anchor="middle" fill="#4a4a4a" font-family="Liberation Sans, sans-serif">10</text>
<text x="268.7" y="559.2" font-size="7.8" text-anchor="middle" fill="#4a4a4a" font-family="Liberation Sans, sans-serif">20</text>
<text x="315.4" y="559.2" font-size="7.8" text-anchor="middle" fill="#4a4a4a" font-family="Liberation Sans, sans-serif">30</text>
<text x="169.8" y="549.8" font-size="7.8" text-anchor="end" fill="#4a4a4a" font-family="Liberation Sans, sans-serif">0</text>
<text x="169.8" y="516.5" font-size="7.8" text-anchor="end" fill="#4a4a4a" font-family="Liberation Sans, sans-serif">0.02</text>
<text x="169.8" y="483.1" font-size="7.8" text-anchor="end" fill="#4a4a4a" font-family="Liberation Sans, sans-serif">0.04</text>
<text x="169.8" y="449.8" font-size="7.8" text-anchor="end" fill="#4a4a4a" font-family="Liberation Sans, sans-serif">0.06</text>
<text x="169.8" y="416.5" font-size="7.8" text-anchor="end" fill="#4a4a4a" font-family="Liberation Sans, sans-serif">0.08</text>
<text x="169.8" y="383.1" font-size="7.8" text-anchor="end" fill="#4a4a4a" font-family="Liberation Sans, sans-serif">0.1</text>
<text x="169.8" y="349.8" font-size="7.8" text-anchor="end" fill="#4a4a4a" font-family="Liberation Sans, sans-serif">0.12</text>
<text x="242.8" y="576.4" font-size="11.2" text-anchor="middle" fill="#222" font-family="Liberation Sans, sans-serif">RR<tspan font-size="7.6" dy="2.3">depth</tspan></text>
<g fill="#66aade" stroke="#1c2a3a" stroke-width="0.7"><rect x="398.65" y="546.17" width="4.67" height="0.83"/><rect x="403.33" y="546.17" width="4.67" height="0.83"/><rect x="408.00" y="541.00" width="4.67" height="6.00"/><rect x="412.68" y="538.33" width="4.67" height="8.67"/><rect x="417.35" y="538.33" width="4.67" height="8.67"/><rect x="422.03" y="506.67" width="4.67" height="40.33"/><rect x="426.70" y="461.50" width="4.67" height="85.50"/><rect x="431.38" y="424.17" width="4.67" height="122.83"/><rect x="436.05" y="400.83" width="4.67" height="146.17"/><rect x="440.73" y="392.50" width="4.67" height="154.50"/><rect x="445.40" y="382.67" width="4.67" height="164.33"/><rect x="450.08" y="350.00" width="4.67" height="197.00"/><rect x="454.75" y="389.50" width="4.67" height="157.50"/><rect x="459.43" y="415.17" width="4.67" height="131.83"/><rect x="464.10" y="467.67" width="4.67" height="79.33"/><rect x="468.78" y="444.67" width="4.67" height="102.33"/><rect x="473.45" y="472.33" width="4.67" height="74.67"/><rect x="478.12" y="490.67" width="4.67" height="56.33"/><rect x="482.80" y="503.17" width="4.67" height="43.83"/><rect x="487.48" y="510.50" width="4.67" height="36.50"/><rect x="492.15" y="517.50" width="4.67" height="29.50"/><rect x="496.83" y="535.67" width="4.67" height="11.33"/></g>
<path d="M369.3 335.4H517.2V547.0H369.3ZM370.60 547.0v-2.5M370.60 335.4v2.5M417.35 547.0v-2.5M417.35 335.4v2.5M464.10 547.0v-2.5M464.10 335.4v2.5M510.85 547.0v-2.5M510.85 335.4v2.5M369.3 547.00h2.5M517.2 547.00h-2.5M369.3 513.67h2.5M517.2 513.67h-2.5M369.3 480.33h2.5M517.2 480.33h-2.5M369.3 447.00h2.5M517.2 447.00h-2.5M369.3 413.67h2.5M517.2 413.67h-2.5M369.3 380.33h2.5M517.2 380.33h-2.5M369.3 347.00h2.5M517.2 347.00h-2.5" stroke="#555555" stroke-width="1" fill="none"/>
<text x="370.6" y="559.2" font-size="7.8" text-anchor="middle" fill="#4a4a4a" font-family="Liberation Sans, sans-serif">0</text>
<text x="417.4" y="559.2" font-size="7.8" text-anchor="middle" fill="#4a4a4a" font-family="Liberation Sans, sans-serif">10</text>
<text x="464.1" y="559.2" font-size="7.8" text-anchor="middle" fill="#4a4a4a" font-family="Liberation Sans, sans-serif">20</text>
<text x="510.9" y="559.2" font-size="7.8" text-anchor="middle" fill="#4a4a4a" font-family="Liberation Sans, sans-serif">30</text>
<text x="365.1" y="549.8" font-size="7.8" text-anchor="end" fill="#4a4a4a" font-family="Liberation Sans, sans-serif">0</text>
<text x="365.1" y="516.5" font-size="7.8" text-anchor="end" fill="#4a4a4a" font-family="Liberation Sans, sans-serif">0.02</text>
<text x="365.1" y="483.1" font-size="7.8" text-anchor="end" fill="#4a4a4a" font-family="Liberation Sans, sans-serif">0.04</text>
<text x="365.1" y="449.8" font-size="7.8" text-anchor="end" fill="#4a4a4a" font-family="Liberation Sans, sans-serif">0.06</text>
<text x="365.1" y="416.5" font-size="7.8" text-anchor="end" fill="#4a4a4a" font-family="Liberation Sans, sans-serif">0.08</text>
<text x="365.1" y="383.1" font-size="7.8" text-anchor="end" fill="#4a4a4a" font-family="Liberation Sans, sans-serif">0.1</text>
<text x="365.1" y="349.8" font-size="7.8" text-anchor="end" fill="#4a4a4a" font-family="Liberation Sans, sans-serif">0.12</text>
<text x="449" y="576.4" font-size="11.2" text-anchor="middle" fill="#222" font-family="Liberation Sans, sans-serif">RR<tspan font-size="7.6" dy="2.3">cap</tspan></text>
<text transform="translate(140.2,432.6) rotate(-90)" font-size="12" text-anchor="middle" fill="#222" font-family="Liberation Sans, sans-serif">normalized count</text>
<text x="134" y="572" font-size="14.5" font-weight="bold" fill="#000" font-family="Liberation Sans, sans-serif">(c)</text>
</svg></body></html>
